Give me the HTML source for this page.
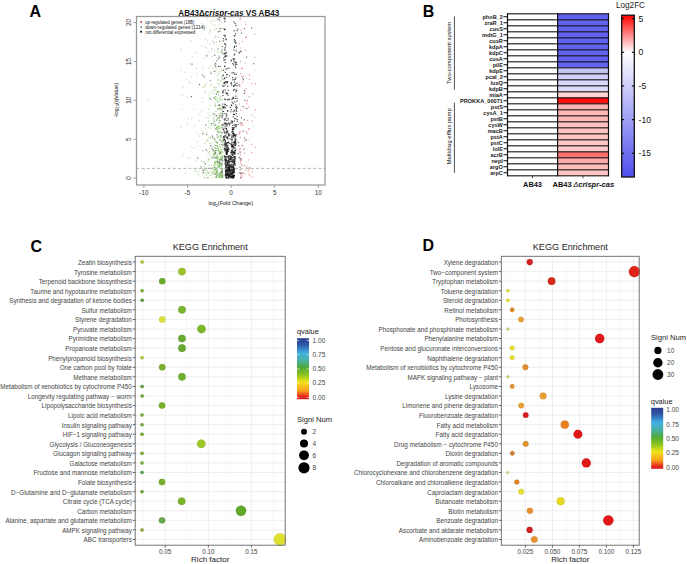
<!DOCTYPE html>
<html><head><meta charset="utf-8"><style>
html,body{margin:0;padding:0;background:#fff;overflow:hidden;width:687px;height:564px;}
svg{display:block;font-family:"Liberation Sans", sans-serif;}
</style></head><body>
<svg width="687" height="564" viewBox="0 0 687 564">
<rect width="687" height="564" fill="#fff"/>
<text x="29.60" y="16.60" font-size="16" text-anchor="start" fill="#000" font-weight="bold">A</text>
<text x="228.80" y="16.20" font-size="8.7" text-anchor="middle" fill="#111" font-weight="bold" textLength="101" lengthAdjust="spacingAndGlyphs">AB43&#916;<tspan font-style="italic">crispr-cas</tspan> VS AB43</text>
<g><rect x="225.1" y="170.4" width="1.2" height="1.2" fill="#181818" fill-opacity="0.75"/><rect x="233.4" y="160.7" width="1.2" height="1.2" fill="#181818" fill-opacity="0.75"/><rect x="226.6" y="142.6" width="1.2" height="1.2" fill="#181818" fill-opacity="0.75"/><rect x="229.8" y="176.1" width="1.2" height="1.2" fill="#181818" fill-opacity="0.75"/><rect x="229.7" y="173.9" width="1.2" height="1.2" fill="#181818" fill-opacity="0.75"/><rect x="230.7" y="59.5" width="1.2" height="1.2" fill="#181818" fill-opacity="0.75"/><rect x="233.8" y="175.3" width="1.2" height="1.2" fill="#181818" fill-opacity="0.75"/><rect x="226.9" y="171.6" width="1.2" height="1.2" fill="#181818" fill-opacity="0.75"/><rect x="230.9" y="168.4" width="1.2" height="1.2" fill="#181818" fill-opacity="0.75"/><rect x="230.2" y="155.6" width="1.2" height="1.2" fill="#181818" fill-opacity="0.75"/><rect x="229.5" y="166.7" width="1.2" height="1.2" fill="#181818" fill-opacity="0.75"/><rect x="230.8" y="152.1" width="1.2" height="1.2" fill="#181818" fill-opacity="0.75"/><rect x="231.1" y="145.9" width="1.2" height="1.2" fill="#181818" fill-opacity="0.75"/><rect x="225.5" y="173.5" width="1.2" height="1.2" fill="#181818" fill-opacity="0.75"/><rect x="225.4" y="131.7" width="1.2" height="1.2" fill="#181818" fill-opacity="0.75"/><rect x="224.3" y="135.3" width="1.2" height="1.2" fill="#181818" fill-opacity="0.75"/><rect x="226.4" y="92.6" width="1.2" height="1.2" fill="#181818" fill-opacity="0.75"/><rect x="233.0" y="85.8" width="1.2" height="1.2" fill="#181818" fill-opacity="0.75"/><rect x="225.4" y="123.4" width="1.2" height="1.2" fill="#181818" fill-opacity="0.75"/><rect x="223.1" y="135.9" width="1.2" height="1.2" fill="#181818" fill-opacity="0.75"/><rect x="234.1" y="161.0" width="1.2" height="1.2" fill="#181818" fill-opacity="0.75"/><rect x="226.5" y="160.2" width="1.2" height="1.2" fill="#181818" fill-opacity="0.75"/><rect x="230.6" y="157.5" width="1.2" height="1.2" fill="#181818" fill-opacity="0.75"/><rect x="226.1" y="149.1" width="1.2" height="1.2" fill="#181818" fill-opacity="0.75"/><rect x="230.8" y="104.3" width="1.2" height="1.2" fill="#181818" fill-opacity="0.75"/><rect x="227.6" y="150.8" width="1.2" height="1.2" fill="#181818" fill-opacity="0.75"/><rect x="226.9" y="136.4" width="1.2" height="1.2" fill="#181818" fill-opacity="0.75"/><rect x="233.7" y="54.4" width="1.2" height="1.2" fill="#181818" fill-opacity="0.75"/><rect x="231.0" y="176.3" width="1.2" height="1.2" fill="#181818" fill-opacity="0.75"/><rect x="227.0" y="162.1" width="1.2" height="1.2" fill="#181818" fill-opacity="0.75"/><rect x="224.3" y="143.7" width="1.2" height="1.2" fill="#181818" fill-opacity="0.75"/><rect x="226.9" y="167.2" width="1.2" height="1.2" fill="#181818" fill-opacity="0.75"/><rect x="230.9" y="82.1" width="1.2" height="1.2" fill="#181818" fill-opacity="0.75"/><rect x="228.5" y="162.4" width="1.2" height="1.2" fill="#181818" fill-opacity="0.75"/><rect x="227.5" y="166.4" width="1.2" height="1.2" fill="#181818" fill-opacity="0.75"/><rect x="224.1" y="139.0" width="1.2" height="1.2" fill="#181818" fill-opacity="0.75"/><rect x="230.3" y="170.3" width="1.2" height="1.2" fill="#181818" fill-opacity="0.75"/><rect x="225.1" y="158.8" width="1.2" height="1.2" fill="#181818" fill-opacity="0.75"/><rect x="229.5" y="172.9" width="1.2" height="1.2" fill="#181818" fill-opacity="0.75"/><rect x="231.0" y="175.6" width="1.2" height="1.2" fill="#181818" fill-opacity="0.75"/><rect x="230.6" y="167.1" width="1.2" height="1.2" fill="#181818" fill-opacity="0.75"/><rect x="225.9" y="165.7" width="1.2" height="1.2" fill="#181818" fill-opacity="0.75"/><rect x="227.5" y="142.0" width="1.2" height="1.2" fill="#181818" fill-opacity="0.75"/><rect x="234.5" y="151.6" width="1.2" height="1.2" fill="#181818" fill-opacity="0.75"/><rect x="235.1" y="83.4" width="1.2" height="1.2" fill="#181818" fill-opacity="0.75"/><rect x="230.6" y="160.4" width="1.2" height="1.2" fill="#181818" fill-opacity="0.75"/><rect x="228.4" y="177.4" width="1.2" height="1.2" fill="#181818" fill-opacity="0.75"/><rect x="225.7" y="167.7" width="1.2" height="1.2" fill="#181818" fill-opacity="0.75"/><rect x="230.0" y="169.2" width="1.2" height="1.2" fill="#181818" fill-opacity="0.75"/><rect x="225.0" y="175.6" width="1.2" height="1.2" fill="#181818" fill-opacity="0.75"/><rect x="232.6" y="177.1" width="1.2" height="1.2" fill="#181818" fill-opacity="0.75"/><rect x="232.2" y="169.9" width="1.2" height="1.2" fill="#181818" fill-opacity="0.75"/><rect x="236.4" y="85.0" width="1.2" height="1.2" fill="#181818" fill-opacity="0.75"/><rect x="224.5" y="160.1" width="1.2" height="1.2" fill="#181818" fill-opacity="0.75"/><rect x="227.0" y="149.1" width="1.2" height="1.2" fill="#181818" fill-opacity="0.75"/><rect x="228.5" y="170.3" width="1.2" height="1.2" fill="#181818" fill-opacity="0.75"/><rect x="232.0" y="172.1" width="1.2" height="1.2" fill="#181818" fill-opacity="0.75"/><rect x="231.4" y="175.7" width="1.2" height="1.2" fill="#181818" fill-opacity="0.75"/><rect x="231.1" y="150.5" width="1.2" height="1.2" fill="#181818" fill-opacity="0.75"/><rect x="228.4" y="158.5" width="1.2" height="1.2" fill="#181818" fill-opacity="0.75"/><rect x="225.4" y="162.0" width="1.2" height="1.2" fill="#181818" fill-opacity="0.75"/><rect x="231.1" y="139.1" width="1.2" height="1.2" fill="#181818" fill-opacity="0.75"/><rect x="228.9" y="174.7" width="1.2" height="1.2" fill="#181818" fill-opacity="0.75"/><rect x="227.5" y="168.2" width="1.2" height="1.2" fill="#181818" fill-opacity="0.75"/><rect x="226.5" y="145.7" width="1.2" height="1.2" fill="#181818" fill-opacity="0.75"/><rect x="227.7" y="117.8" width="1.2" height="1.2" fill="#181818" fill-opacity="0.75"/><rect x="233.4" y="174.6" width="1.2" height="1.2" fill="#181818" fill-opacity="0.75"/><rect x="225.9" y="76.6" width="1.2" height="1.2" fill="#181818" fill-opacity="0.75"/><rect x="229.6" y="157.9" width="1.2" height="1.2" fill="#181818" fill-opacity="0.75"/><rect x="233.0" y="177.1" width="1.2" height="1.2" fill="#181818" fill-opacity="0.75"/><rect x="232.7" y="175.2" width="1.2" height="1.2" fill="#181818" fill-opacity="0.75"/><rect x="231.0" y="173.3" width="1.2" height="1.2" fill="#181818" fill-opacity="0.75"/><rect x="234.7" y="135.0" width="1.2" height="1.2" fill="#181818" fill-opacity="0.75"/><rect x="232.5" y="147.4" width="1.2" height="1.2" fill="#181818" fill-opacity="0.75"/><rect x="224.4" y="43.3" width="1.2" height="1.2" fill="#181818" fill-opacity="0.75"/><rect x="231.6" y="170.4" width="1.2" height="1.2" fill="#181818" fill-opacity="0.75"/><rect x="230.7" y="167.8" width="1.2" height="1.2" fill="#181818" fill-opacity="0.75"/><rect x="235.3" y="142.7" width="1.2" height="1.2" fill="#181818" fill-opacity="0.75"/><rect x="227.4" y="155.9" width="1.2" height="1.2" fill="#181818" fill-opacity="0.75"/><rect x="234.2" y="141.2" width="1.2" height="1.2" fill="#181818" fill-opacity="0.75"/><rect x="226.6" y="168.9" width="1.2" height="1.2" fill="#181818" fill-opacity="0.75"/><rect x="234.5" y="153.3" width="1.2" height="1.2" fill="#181818" fill-opacity="0.75"/><rect x="234.0" y="172.0" width="1.2" height="1.2" fill="#181818" fill-opacity="0.75"/><rect x="222.9" y="69.6" width="1.2" height="1.2" fill="#181818" fill-opacity="0.75"/><rect x="233.6" y="174.8" width="1.2" height="1.2" fill="#181818" fill-opacity="0.75"/><rect x="231.0" y="172.0" width="1.2" height="1.2" fill="#181818" fill-opacity="0.75"/><rect x="224.7" y="141.7" width="1.2" height="1.2" fill="#181818" fill-opacity="0.75"/><rect x="224.9" y="174.6" width="1.2" height="1.2" fill="#181818" fill-opacity="0.75"/><rect x="225.7" y="123.2" width="1.2" height="1.2" fill="#181818" fill-opacity="0.75"/><rect x="235.0" y="141.8" width="1.2" height="1.2" fill="#181818" fill-opacity="0.75"/><rect x="234.0" y="101.4" width="1.2" height="1.2" fill="#181818" fill-opacity="0.75"/><rect x="228.4" y="135.3" width="1.2" height="1.2" fill="#181818" fill-opacity="0.75"/><rect x="234.1" y="150.1" width="1.2" height="1.2" fill="#181818" fill-opacity="0.75"/><rect x="227.4" y="167.4" width="1.2" height="1.2" fill="#181818" fill-opacity="0.75"/><rect x="235.1" y="106.8" width="1.2" height="1.2" fill="#181818" fill-opacity="0.75"/><rect x="227.0" y="163.3" width="1.2" height="1.2" fill="#181818" fill-opacity="0.75"/><rect x="227.3" y="147.6" width="1.2" height="1.2" fill="#181818" fill-opacity="0.75"/><rect x="224.9" y="167.2" width="1.2" height="1.2" fill="#181818" fill-opacity="0.75"/><rect x="224.2" y="119.5" width="1.2" height="1.2" fill="#181818" fill-opacity="0.75"/><rect x="232.3" y="151.1" width="1.2" height="1.2" fill="#181818" fill-opacity="0.75"/><rect x="223.8" y="122.4" width="1.2" height="1.2" fill="#181818" fill-opacity="0.75"/><rect x="225.2" y="81.0" width="1.2" height="1.2" fill="#181818" fill-opacity="0.75"/><rect x="232.1" y="175.1" width="1.2" height="1.2" fill="#181818" fill-opacity="0.75"/><rect x="233.0" y="129.0" width="1.2" height="1.2" fill="#181818" fill-opacity="0.75"/><rect x="232.1" y="154.4" width="1.2" height="1.2" fill="#181818" fill-opacity="0.75"/><rect x="232.1" y="121.6" width="1.2" height="1.2" fill="#181818" fill-opacity="0.75"/><rect x="225.4" y="144.0" width="1.2" height="1.2" fill="#181818" fill-opacity="0.75"/><rect x="233.0" y="165.0" width="1.2" height="1.2" fill="#181818" fill-opacity="0.75"/><rect x="228.5" y="174.2" width="1.2" height="1.2" fill="#181818" fill-opacity="0.75"/><rect x="223.1" y="85.8" width="1.2" height="1.2" fill="#181818" fill-opacity="0.75"/><rect x="227.9" y="158.3" width="1.2" height="1.2" fill="#181818" fill-opacity="0.75"/><rect x="225.3" y="165.5" width="1.2" height="1.2" fill="#181818" fill-opacity="0.75"/><rect x="227.1" y="110.3" width="1.2" height="1.2" fill="#181818" fill-opacity="0.75"/><rect x="231.6" y="169.3" width="1.2" height="1.2" fill="#181818" fill-opacity="0.75"/><rect x="226.9" y="110.4" width="1.2" height="1.2" fill="#181818" fill-opacity="0.75"/><rect x="231.5" y="149.9" width="1.2" height="1.2" fill="#181818" fill-opacity="0.75"/><rect x="226.0" y="174.5" width="1.2" height="1.2" fill="#181818" fill-opacity="0.75"/><rect x="228.3" y="174.0" width="1.2" height="1.2" fill="#181818" fill-opacity="0.75"/><rect x="225.3" y="92.2" width="1.2" height="1.2" fill="#181818" fill-opacity="0.75"/><rect x="231.8" y="144.9" width="1.2" height="1.2" fill="#181818" fill-opacity="0.75"/><rect x="233.0" y="171.4" width="1.2" height="1.2" fill="#181818" fill-opacity="0.75"/><rect x="232.8" y="156.1" width="1.2" height="1.2" fill="#181818" fill-opacity="0.75"/><rect x="225.1" y="173.9" width="1.2" height="1.2" fill="#181818" fill-opacity="0.75"/><rect x="229.3" y="170.7" width="1.2" height="1.2" fill="#181818" fill-opacity="0.75"/><rect x="227.9" y="173.2" width="1.2" height="1.2" fill="#181818" fill-opacity="0.75"/><rect x="232.8" y="97.8" width="1.2" height="1.2" fill="#181818" fill-opacity="0.75"/><rect x="228.4" y="148.4" width="1.2" height="1.2" fill="#181818" fill-opacity="0.75"/><rect x="225.0" y="174.3" width="1.2" height="1.2" fill="#181818" fill-opacity="0.75"/><rect x="228.6" y="173.3" width="1.2" height="1.2" fill="#181818" fill-opacity="0.75"/><rect x="229.2" y="170.5" width="1.2" height="1.2" fill="#181818" fill-opacity="0.75"/><rect x="232.9" y="64.2" width="1.2" height="1.2" fill="#181818" fill-opacity="0.75"/><rect x="226.0" y="81.9" width="1.2" height="1.2" fill="#181818" fill-opacity="0.75"/><rect x="234.9" y="139.7" width="1.2" height="1.2" fill="#181818" fill-opacity="0.75"/><rect x="232.5" y="173.2" width="1.2" height="1.2" fill="#181818" fill-opacity="0.75"/><rect x="227.9" y="166.4" width="1.2" height="1.2" fill="#181818" fill-opacity="0.75"/><rect x="229.9" y="151.6" width="1.2" height="1.2" fill="#181818" fill-opacity="0.75"/><rect x="226.6" y="167.8" width="1.2" height="1.2" fill="#181818" fill-opacity="0.75"/><rect x="233.4" y="167.9" width="1.2" height="1.2" fill="#181818" fill-opacity="0.75"/><rect x="232.8" y="175.1" width="1.2" height="1.2" fill="#181818" fill-opacity="0.75"/><rect x="232.0" y="77.0" width="1.2" height="1.2" fill="#181818" fill-opacity="0.75"/><rect x="232.1" y="124.8" width="1.2" height="1.2" fill="#181818" fill-opacity="0.75"/><rect x="228.8" y="75.2" width="1.2" height="1.2" fill="#181818" fill-opacity="0.75"/><rect x="231.7" y="161.2" width="1.2" height="1.2" fill="#181818" fill-opacity="0.75"/><rect x="225.0" y="161.3" width="1.2" height="1.2" fill="#181818" fill-opacity="0.75"/><rect x="226.3" y="81.1" width="1.2" height="1.2" fill="#181818" fill-opacity="0.75"/><rect x="224.8" y="158.2" width="1.2" height="1.2" fill="#181818" fill-opacity="0.75"/><rect x="225.7" y="168.3" width="1.2" height="1.2" fill="#181818" fill-opacity="0.75"/><rect x="227.1" y="138.3" width="1.2" height="1.2" fill="#181818" fill-opacity="0.75"/><rect x="229.6" y="173.6" width="1.2" height="1.2" fill="#181818" fill-opacity="0.75"/><rect x="227.6" y="159.9" width="1.2" height="1.2" fill="#181818" fill-opacity="0.75"/><rect x="224.8" y="107.1" width="1.2" height="1.2" fill="#181818" fill-opacity="0.75"/><rect x="232.5" y="152.4" width="1.2" height="1.2" fill="#181818" fill-opacity="0.75"/><rect x="228.2" y="173.6" width="1.2" height="1.2" fill="#181818" fill-opacity="0.75"/><rect x="234.9" y="124.1" width="1.2" height="1.2" fill="#181818" fill-opacity="0.75"/><rect x="226.8" y="164.0" width="1.2" height="1.2" fill="#181818" fill-opacity="0.75"/><rect x="232.0" y="130.6" width="1.2" height="1.2" fill="#181818" fill-opacity="0.75"/><rect x="228.0" y="169.2" width="1.2" height="1.2" fill="#181818" fill-opacity="0.75"/><rect x="233.4" y="152.3" width="1.2" height="1.2" fill="#181818" fill-opacity="0.75"/><rect x="231.3" y="138.4" width="1.2" height="1.2" fill="#181818" fill-opacity="0.75"/><rect x="231.5" y="146.3" width="1.2" height="1.2" fill="#181818" fill-opacity="0.75"/><rect x="225.5" y="170.4" width="1.2" height="1.2" fill="#181818" fill-opacity="0.75"/><rect x="231.7" y="172.0" width="1.2" height="1.2" fill="#181818" fill-opacity="0.75"/><rect x="227.8" y="160.8" width="1.2" height="1.2" fill="#181818" fill-opacity="0.75"/><rect x="236.5" y="30.2" width="1.2" height="1.2" fill="#181818" fill-opacity="0.75"/><rect x="224.9" y="173.6" width="1.2" height="1.2" fill="#181818" fill-opacity="0.75"/><rect x="232.2" y="157.6" width="1.2" height="1.2" fill="#181818" fill-opacity="0.75"/><rect x="235.3" y="91.1" width="1.2" height="1.2" fill="#181818" fill-opacity="0.75"/><rect x="228.8" y="175.1" width="1.2" height="1.2" fill="#181818" fill-opacity="0.75"/><rect x="233.2" y="152.5" width="1.2" height="1.2" fill="#181818" fill-opacity="0.75"/><rect x="224.7" y="167.9" width="1.2" height="1.2" fill="#181818" fill-opacity="0.75"/><rect x="224.8" y="163.3" width="1.2" height="1.2" fill="#181818" fill-opacity="0.75"/><rect x="233.1" y="152.0" width="1.2" height="1.2" fill="#181818" fill-opacity="0.75"/><rect x="226.7" y="167.5" width="1.2" height="1.2" fill="#181818" fill-opacity="0.75"/><rect x="228.8" y="98.7" width="1.2" height="1.2" fill="#181818" fill-opacity="0.75"/><rect x="227.2" y="156.7" width="1.2" height="1.2" fill="#181818" fill-opacity="0.75"/><rect x="228.1" y="132.9" width="1.2" height="1.2" fill="#181818" fill-opacity="0.75"/><rect x="230.4" y="170.9" width="1.2" height="1.2" fill="#181818" fill-opacity="0.75"/><rect x="224.4" y="49.6" width="1.2" height="1.2" fill="#181818" fill-opacity="0.75"/><rect x="226.5" y="149.3" width="1.2" height="1.2" fill="#181818" fill-opacity="0.75"/><rect x="229.1" y="175.5" width="1.2" height="1.2" fill="#181818" fill-opacity="0.75"/><rect x="234.7" y="97.8" width="1.2" height="1.2" fill="#181818" fill-opacity="0.75"/><rect x="236.6" y="115.8" width="1.2" height="1.2" fill="#181818" fill-opacity="0.75"/><rect x="224.5" y="123.6" width="1.2" height="1.2" fill="#181818" fill-opacity="0.75"/><rect x="224.4" y="157.0" width="1.2" height="1.2" fill="#181818" fill-opacity="0.75"/><rect x="235.7" y="113.0" width="1.2" height="1.2" fill="#181818" fill-opacity="0.75"/><rect x="226.5" y="145.8" width="1.2" height="1.2" fill="#181818" fill-opacity="0.75"/><rect x="224.9" y="140.3" width="1.2" height="1.2" fill="#181818" fill-opacity="0.75"/><rect x="228.3" y="174.8" width="1.2" height="1.2" fill="#181818" fill-opacity="0.75"/><rect x="227.7" y="160.7" width="1.2" height="1.2" fill="#181818" fill-opacity="0.75"/><rect x="227.8" y="160.1" width="1.2" height="1.2" fill="#181818" fill-opacity="0.75"/><rect x="233.7" y="144.5" width="1.2" height="1.2" fill="#181818" fill-opacity="0.75"/><rect x="226.1" y="114.9" width="1.2" height="1.2" fill="#181818" fill-opacity="0.75"/><rect x="225.0" y="149.3" width="1.2" height="1.2" fill="#181818" fill-opacity="0.75"/><rect x="226.0" y="150.3" width="1.2" height="1.2" fill="#181818" fill-opacity="0.75"/><rect x="234.0" y="163.3" width="1.2" height="1.2" fill="#181818" fill-opacity="0.75"/><rect x="228.7" y="167.4" width="1.2" height="1.2" fill="#181818" fill-opacity="0.75"/><rect x="227.9" y="160.3" width="1.2" height="1.2" fill="#181818" fill-opacity="0.75"/><rect x="231.8" y="176.0" width="1.2" height="1.2" fill="#181818" fill-opacity="0.75"/><rect x="233.9" y="162.3" width="1.2" height="1.2" fill="#181818" fill-opacity="0.75"/><rect x="229.5" y="138.5" width="1.2" height="1.2" fill="#181818" fill-opacity="0.75"/><rect x="226.7" y="153.3" width="1.2" height="1.2" fill="#181818" fill-opacity="0.75"/><rect x="233.4" y="49.4" width="1.2" height="1.2" fill="#181818" fill-opacity="0.75"/><rect x="227.2" y="168.6" width="1.2" height="1.2" fill="#181818" fill-opacity="0.75"/><rect x="224.7" y="122.8" width="1.2" height="1.2" fill="#181818" fill-opacity="0.75"/><rect x="226.7" y="153.5" width="1.2" height="1.2" fill="#181818" fill-opacity="0.75"/><rect x="233.4" y="148.1" width="1.2" height="1.2" fill="#181818" fill-opacity="0.75"/><rect x="232.5" y="161.9" width="1.2" height="1.2" fill="#181818" fill-opacity="0.75"/><rect x="225.7" y="170.1" width="1.2" height="1.2" fill="#181818" fill-opacity="0.75"/><rect x="227.5" y="147.1" width="1.2" height="1.2" fill="#181818" fill-opacity="0.75"/><rect x="232.4" y="132.7" width="1.2" height="1.2" fill="#181818" fill-opacity="0.75"/><rect x="233.3" y="156.6" width="1.2" height="1.2" fill="#181818" fill-opacity="0.75"/><rect x="229.9" y="176.0" width="1.2" height="1.2" fill="#181818" fill-opacity="0.75"/><rect x="231.4" y="173.7" width="1.2" height="1.2" fill="#181818" fill-opacity="0.75"/><rect x="226.1" y="144.3" width="1.2" height="1.2" fill="#181818" fill-opacity="0.75"/><rect x="233.5" y="124.5" width="1.2" height="1.2" fill="#181818" fill-opacity="0.75"/><rect x="232.2" y="175.5" width="1.2" height="1.2" fill="#181818" fill-opacity="0.75"/><rect x="228.1" y="134.4" width="1.2" height="1.2" fill="#181818" fill-opacity="0.75"/><rect x="225.6" y="128.4" width="1.2" height="1.2" fill="#181818" fill-opacity="0.75"/><rect x="224.9" y="170.3" width="1.2" height="1.2" fill="#181818" fill-opacity="0.75"/><rect x="231.2" y="131.5" width="1.2" height="1.2" fill="#181818" fill-opacity="0.75"/><rect x="230.9" y="153.4" width="1.2" height="1.2" fill="#181818" fill-opacity="0.75"/><rect x="222.8" y="138.7" width="1.2" height="1.2" fill="#181818" fill-opacity="0.75"/><rect x="229.7" y="106.7" width="1.2" height="1.2" fill="#181818" fill-opacity="0.75"/><rect x="225.0" y="172.2" width="1.2" height="1.2" fill="#181818" fill-opacity="0.75"/><rect x="226.0" y="173.6" width="1.2" height="1.2" fill="#181818" fill-opacity="0.75"/><rect x="222.6" y="107.2" width="1.2" height="1.2" fill="#181818" fill-opacity="0.75"/><rect x="228.8" y="169.0" width="1.2" height="1.2" fill="#181818" fill-opacity="0.75"/><rect x="228.1" y="156.0" width="1.2" height="1.2" fill="#181818" fill-opacity="0.75"/><rect x="223.0" y="89.9" width="1.2" height="1.2" fill="#181818" fill-opacity="0.75"/><rect x="225.6" y="143.3" width="1.2" height="1.2" fill="#181818" fill-opacity="0.75"/><rect x="224.2" y="21.0" width="1.2" height="1.2" fill="#181818" fill-opacity="0.75"/><rect x="228.4" y="175.6" width="1.2" height="1.2" fill="#181818" fill-opacity="0.75"/><rect x="224.8" y="174.6" width="1.2" height="1.2" fill="#181818" fill-opacity="0.75"/><rect x="227.2" y="164.3" width="1.2" height="1.2" fill="#181818" fill-opacity="0.75"/><rect x="230.6" y="144.1" width="1.2" height="1.2" fill="#181818" fill-opacity="0.75"/><rect x="230.4" y="174.9" width="1.2" height="1.2" fill="#181818" fill-opacity="0.75"/><rect x="230.3" y="176.5" width="1.2" height="1.2" fill="#181818" fill-opacity="0.75"/><rect x="230.9" y="166.3" width="1.2" height="1.2" fill="#181818" fill-opacity="0.75"/><rect x="230.5" y="163.6" width="1.2" height="1.2" fill="#181818" fill-opacity="0.75"/><rect x="222.1" y="115.1" width="1.2" height="1.2" fill="#181818" fill-opacity="0.75"/><rect x="230.9" y="166.0" width="1.2" height="1.2" fill="#181818" fill-opacity="0.75"/><rect x="230.1" y="177.2" width="1.2" height="1.2" fill="#181818" fill-opacity="0.75"/><rect x="226.8" y="173.1" width="1.2" height="1.2" fill="#181818" fill-opacity="0.75"/><rect x="228.6" y="167.0" width="1.2" height="1.2" fill="#181818" fill-opacity="0.75"/><rect x="226.2" y="146.7" width="1.2" height="1.2" fill="#181818" fill-opacity="0.75"/><rect x="234.0" y="142.8" width="1.2" height="1.2" fill="#181818" fill-opacity="0.75"/><rect x="226.2" y="125.7" width="1.2" height="1.2" fill="#181818" fill-opacity="0.75"/><rect x="225.5" y="153.0" width="1.2" height="1.2" fill="#181818" fill-opacity="0.75"/><rect x="233.0" y="72.0" width="1.2" height="1.2" fill="#181818" fill-opacity="0.75"/><rect x="232.8" y="168.1" width="1.2" height="1.2" fill="#181818" fill-opacity="0.75"/><rect x="231.0" y="172.6" width="1.2" height="1.2" fill="#181818" fill-opacity="0.75"/><rect x="228.4" y="155.3" width="1.2" height="1.2" fill="#181818" fill-opacity="0.75"/><rect x="229.1" y="165.7" width="1.2" height="1.2" fill="#181818" fill-opacity="0.75"/><rect x="235.8" y="125.7" width="1.2" height="1.2" fill="#181818" fill-opacity="0.75"/><rect x="227.2" y="174.6" width="1.2" height="1.2" fill="#181818" fill-opacity="0.75"/><rect x="232.5" y="151.9" width="1.2" height="1.2" fill="#181818" fill-opacity="0.75"/><rect x="222.2" y="92.2" width="1.2" height="1.2" fill="#181818" fill-opacity="0.75"/><rect x="226.0" y="157.6" width="1.2" height="1.2" fill="#181818" fill-opacity="0.75"/><rect x="234.0" y="162.6" width="1.2" height="1.2" fill="#181818" fill-opacity="0.75"/><rect x="227.0" y="170.2" width="1.2" height="1.2" fill="#181818" fill-opacity="0.75"/><rect x="235.3" y="77.3" width="1.2" height="1.2" fill="#181818" fill-opacity="0.75"/><rect x="231.2" y="151.5" width="1.2" height="1.2" fill="#181818" fill-opacity="0.75"/><rect x="236.6" y="97.8" width="1.2" height="1.2" fill="#181818" fill-opacity="0.75"/><rect x="236.2" y="107.6" width="1.2" height="1.2" fill="#181818" fill-opacity="0.75"/><rect x="224.4" y="113.0" width="1.2" height="1.2" fill="#181818" fill-opacity="0.75"/><rect x="226.1" y="173.9" width="1.2" height="1.2" fill="#181818" fill-opacity="0.75"/><rect x="227.4" y="171.9" width="1.2" height="1.2" fill="#181818" fill-opacity="0.75"/><rect x="224.6" y="135.3" width="1.2" height="1.2" fill="#181818" fill-opacity="0.75"/><rect x="232.0" y="166.7" width="1.2" height="1.2" fill="#181818" fill-opacity="0.75"/><rect x="232.6" y="168.8" width="1.2" height="1.2" fill="#181818" fill-opacity="0.75"/><rect x="224.7" y="140.2" width="1.2" height="1.2" fill="#181818" fill-opacity="0.75"/><rect x="224.6" y="156.4" width="1.2" height="1.2" fill="#181818" fill-opacity="0.75"/><rect x="227.6" y="165.6" width="1.2" height="1.2" fill="#181818" fill-opacity="0.75"/><rect x="231.3" y="165.0" width="1.2" height="1.2" fill="#181818" fill-opacity="0.75"/><rect x="232.1" y="166.6" width="1.2" height="1.2" fill="#181818" fill-opacity="0.75"/><rect x="229.0" y="175.0" width="1.2" height="1.2" fill="#181818" fill-opacity="0.75"/><rect x="235.2" y="67.2" width="1.2" height="1.2" fill="#181818" fill-opacity="0.75"/><rect x="234.3" y="139.1" width="1.2" height="1.2" fill="#181818" fill-opacity="0.75"/><rect x="225.7" y="170.5" width="1.2" height="1.2" fill="#181818" fill-opacity="0.75"/><rect x="231.4" y="168.6" width="1.2" height="1.2" fill="#181818" fill-opacity="0.75"/><rect x="232.8" y="145.7" width="1.2" height="1.2" fill="#181818" fill-opacity="0.75"/><rect x="233.9" y="156.1" width="1.2" height="1.2" fill="#181818" fill-opacity="0.75"/><rect x="228.6" y="175.3" width="1.2" height="1.2" fill="#181818" fill-opacity="0.75"/><rect x="226.3" y="177.1" width="1.2" height="1.2" fill="#181818" fill-opacity="0.75"/><rect x="229.1" y="159.4" width="1.2" height="1.2" fill="#181818" fill-opacity="0.75"/><rect x="227.4" y="119.5" width="1.2" height="1.2" fill="#181818" fill-opacity="0.75"/><rect x="228.1" y="149.3" width="1.2" height="1.2" fill="#181818" fill-opacity="0.75"/><rect x="233.1" y="146.7" width="1.2" height="1.2" fill="#181818" fill-opacity="0.75"/><rect x="231.3" y="144.2" width="1.2" height="1.2" fill="#181818" fill-opacity="0.75"/><rect x="231.5" y="152.0" width="1.2" height="1.2" fill="#181818" fill-opacity="0.75"/><rect x="231.0" y="157.1" width="1.2" height="1.2" fill="#181818" fill-opacity="0.75"/><rect x="225.1" y="148.5" width="1.2" height="1.2" fill="#181818" fill-opacity="0.75"/><rect x="225.2" y="170.3" width="1.2" height="1.2" fill="#181818" fill-opacity="0.75"/><rect x="228.3" y="167.9" width="1.2" height="1.2" fill="#181818" fill-opacity="0.75"/><rect x="232.6" y="172.2" width="1.2" height="1.2" fill="#181818" fill-opacity="0.75"/><rect x="230.7" y="175.6" width="1.2" height="1.2" fill="#181818" fill-opacity="0.75"/><rect x="233.9" y="109.6" width="1.2" height="1.2" fill="#181818" fill-opacity="0.75"/><rect x="230.7" y="161.1" width="1.2" height="1.2" fill="#181818" fill-opacity="0.75"/><rect x="231.9" y="177.3" width="1.2" height="1.2" fill="#181818" fill-opacity="0.75"/><rect x="234.4" y="164.8" width="1.2" height="1.2" fill="#181818" fill-opacity="0.75"/><rect x="232.3" y="134.3" width="1.2" height="1.2" fill="#181818" fill-opacity="0.75"/><rect x="232.9" y="168.3" width="1.2" height="1.2" fill="#181818" fill-opacity="0.75"/><rect x="234.0" y="168.3" width="1.2" height="1.2" fill="#181818" fill-opacity="0.75"/><rect x="232.7" y="132.9" width="1.2" height="1.2" fill="#181818" fill-opacity="0.75"/><rect x="232.2" y="173.9" width="1.2" height="1.2" fill="#181818" fill-opacity="0.75"/><rect x="225.7" y="177.4" width="1.2" height="1.2" fill="#181818" fill-opacity="0.75"/><rect x="222.4" y="94.9" width="1.2" height="1.2" fill="#181818" fill-opacity="0.75"/><rect x="233.4" y="170.9" width="1.2" height="1.2" fill="#181818" fill-opacity="0.75"/><rect x="226.3" y="151.9" width="1.2" height="1.2" fill="#181818" fill-opacity="0.75"/><rect x="227.1" y="150.2" width="1.2" height="1.2" fill="#181818" fill-opacity="0.75"/><rect x="225.9" y="170.8" width="1.2" height="1.2" fill="#181818" fill-opacity="0.75"/><rect x="230.6" y="176.1" width="1.2" height="1.2" fill="#181818" fill-opacity="0.75"/><rect x="225.1" y="175.1" width="1.2" height="1.2" fill="#181818" fill-opacity="0.75"/><rect x="226.6" y="67.9" width="1.2" height="1.2" fill="#181818" fill-opacity="0.75"/><rect x="231.9" y="161.1" width="1.2" height="1.2" fill="#181818" fill-opacity="0.75"/><rect x="233.0" y="177.2" width="1.2" height="1.2" fill="#181818" fill-opacity="0.75"/><rect x="231.4" y="158.7" width="1.2" height="1.2" fill="#181818" fill-opacity="0.75"/><rect x="233.9" y="141.3" width="1.2" height="1.2" fill="#181818" fill-opacity="0.75"/><rect x="231.8" y="154.5" width="1.2" height="1.2" fill="#181818" fill-opacity="0.75"/><rect x="226.1" y="136.7" width="1.2" height="1.2" fill="#181818" fill-opacity="0.75"/><rect x="236.0" y="90.1" width="1.2" height="1.2" fill="#181818" fill-opacity="0.75"/><rect x="223.6" y="136.9" width="1.2" height="1.2" fill="#181818" fill-opacity="0.75"/><rect x="229.9" y="169.0" width="1.2" height="1.2" fill="#181818" fill-opacity="0.75"/><rect x="230.3" y="163.9" width="1.2" height="1.2" fill="#181818" fill-opacity="0.75"/><rect x="227.6" y="177.4" width="1.2" height="1.2" fill="#181818" fill-opacity="0.75"/><rect x="233.8" y="152.0" width="1.2" height="1.2" fill="#181818" fill-opacity="0.75"/><rect x="226.2" y="147.1" width="1.2" height="1.2" fill="#181818" fill-opacity="0.75"/><rect x="224.8" y="142.0" width="1.2" height="1.2" fill="#181818" fill-opacity="0.75"/><rect x="227.7" y="176.2" width="1.2" height="1.2" fill="#181818" fill-opacity="0.75"/><rect x="227.1" y="130.7" width="1.2" height="1.2" fill="#181818" fill-opacity="0.75"/><rect x="234.4" y="137.4" width="1.2" height="1.2" fill="#181818" fill-opacity="0.75"/><rect x="224.0" y="78.0" width="1.2" height="1.2" fill="#181818" fill-opacity="0.75"/><rect x="228.3" y="163.5" width="1.2" height="1.2" fill="#181818" fill-opacity="0.75"/><rect x="224.6" y="148.1" width="1.2" height="1.2" fill="#181818" fill-opacity="0.75"/><rect x="232.5" y="103.0" width="1.2" height="1.2" fill="#181818" fill-opacity="0.75"/><rect x="232.9" y="166.7" width="1.2" height="1.2" fill="#181818" fill-opacity="0.75"/><rect x="225.5" y="170.9" width="1.2" height="1.2" fill="#181818" fill-opacity="0.75"/><rect x="224.6" y="55.6" width="1.2" height="1.2" fill="#181818" fill-opacity="0.75"/><rect x="232.8" y="131.6" width="1.2" height="1.2" fill="#181818" fill-opacity="0.75"/><rect x="235.3" y="143.7" width="1.2" height="1.2" fill="#181818" fill-opacity="0.75"/><rect x="226.7" y="148.8" width="1.2" height="1.2" fill="#181818" fill-opacity="0.75"/><rect x="224.2" y="150.1" width="1.2" height="1.2" fill="#181818" fill-opacity="0.75"/><rect x="230.5" y="159.0" width="1.2" height="1.2" fill="#181818" fill-opacity="0.75"/><rect x="226.3" y="176.9" width="1.2" height="1.2" fill="#181818" fill-opacity="0.75"/><rect x="231.4" y="156.6" width="1.2" height="1.2" fill="#181818" fill-opacity="0.75"/><rect x="232.7" y="136.5" width="1.2" height="1.2" fill="#181818" fill-opacity="0.75"/><rect x="224.0" y="98.5" width="1.2" height="1.2" fill="#181818" fill-opacity="0.75"/><rect x="230.3" y="170.0" width="1.2" height="1.2" fill="#181818" fill-opacity="0.75"/><rect x="226.6" y="170.4" width="1.2" height="1.2" fill="#181818" fill-opacity="0.75"/><rect x="232.6" y="145.8" width="1.2" height="1.2" fill="#181818" fill-opacity="0.75"/><rect x="227.4" y="174.3" width="1.2" height="1.2" fill="#181818" fill-opacity="0.75"/><rect x="232.1" y="128.8" width="1.2" height="1.2" fill="#181818" fill-opacity="0.75"/><rect x="230.7" y="173.9" width="1.2" height="1.2" fill="#181818" fill-opacity="0.75"/><rect x="230.2" y="157.0" width="1.2" height="1.2" fill="#181818" fill-opacity="0.75"/><rect x="225.1" y="99.0" width="1.2" height="1.2" fill="#181818" fill-opacity="0.75"/><rect x="232.7" y="166.4" width="1.2" height="1.2" fill="#181818" fill-opacity="0.75"/><rect x="228.0" y="170.8" width="1.2" height="1.2" fill="#181818" fill-opacity="0.75"/><rect x="232.7" y="144.0" width="1.2" height="1.2" fill="#181818" fill-opacity="0.75"/><rect x="232.4" y="128.3" width="1.2" height="1.2" fill="#181818" fill-opacity="0.75"/><rect x="227.5" y="148.5" width="1.2" height="1.2" fill="#181818" fill-opacity="0.75"/><rect x="231.7" y="176.4" width="1.2" height="1.2" fill="#181818" fill-opacity="0.75"/><rect x="228.8" y="164.9" width="1.2" height="1.2" fill="#181818" fill-opacity="0.75"/><rect x="231.5" y="177.0" width="1.2" height="1.2" fill="#181818" fill-opacity="0.75"/><rect x="232.1" y="132.8" width="1.2" height="1.2" fill="#181818" fill-opacity="0.75"/><rect x="233.3" y="175.9" width="1.2" height="1.2" fill="#181818" fill-opacity="0.75"/><rect x="226.3" y="73.8" width="1.2" height="1.2" fill="#181818" fill-opacity="0.75"/><rect x="229.5" y="155.5" width="1.2" height="1.2" fill="#181818" fill-opacity="0.75"/><rect x="228.6" y="168.8" width="1.2" height="1.2" fill="#181818" fill-opacity="0.75"/><rect x="232.2" y="128.9" width="1.2" height="1.2" fill="#181818" fill-opacity="0.75"/><rect x="226.4" y="149.5" width="1.2" height="1.2" fill="#181818" fill-opacity="0.75"/><rect x="235.0" y="145.0" width="1.2" height="1.2" fill="#181818" fill-opacity="0.75"/><rect x="231.6" y="176.6" width="1.2" height="1.2" fill="#181818" fill-opacity="0.75"/><rect x="231.1" y="150.4" width="1.2" height="1.2" fill="#181818" fill-opacity="0.75"/><rect x="227.5" y="177.3" width="1.2" height="1.2" fill="#181818" fill-opacity="0.75"/><rect x="232.3" y="171.6" width="1.2" height="1.2" fill="#181818" fill-opacity="0.75"/><rect x="235.5" y="123.9" width="1.2" height="1.2" fill="#181818" fill-opacity="0.75"/><rect x="233.3" y="135.3" width="1.2" height="1.2" fill="#181818" fill-opacity="0.75"/><rect x="233.7" y="160.7" width="1.2" height="1.2" fill="#181818" fill-opacity="0.75"/><rect x="225.6" y="172.6" width="1.2" height="1.2" fill="#181818" fill-opacity="0.75"/><rect x="232.6" y="135.3" width="1.2" height="1.2" fill="#181818" fill-opacity="0.75"/><rect x="232.6" y="176.0" width="1.2" height="1.2" fill="#181818" fill-opacity="0.75"/><rect x="222.7" y="129.0" width="1.2" height="1.2" fill="#181818" fill-opacity="0.75"/><rect x="235.1" y="138.4" width="1.2" height="1.2" fill="#181818" fill-opacity="0.75"/><rect x="232.6" y="168.3" width="1.2" height="1.2" fill="#181818" fill-opacity="0.75"/><rect x="231.2" y="136.9" width="1.2" height="1.2" fill="#181818" fill-opacity="0.75"/><rect x="232.2" y="154.1" width="1.2" height="1.2" fill="#181818" fill-opacity="0.75"/><rect x="231.8" y="128.6" width="1.2" height="1.2" fill="#181818" fill-opacity="0.75"/><rect x="229.0" y="158.9" width="1.2" height="1.2" fill="#181818" fill-opacity="0.75"/><rect x="225.7" y="169.3" width="1.2" height="1.2" fill="#181818" fill-opacity="0.75"/><rect x="226.5" y="82.1" width="1.2" height="1.2" fill="#181818" fill-opacity="0.75"/><rect x="223.5" y="34.8" width="1.2" height="1.2" fill="#181818" fill-opacity="0.75"/><rect x="236.0" y="107.7" width="1.2" height="1.2" fill="#181818" fill-opacity="0.75"/><rect x="226.7" y="169.5" width="1.2" height="1.2" fill="#181818" fill-opacity="0.75"/><rect x="227.8" y="122.3" width="1.2" height="1.2" fill="#181818" fill-opacity="0.75"/><rect x="229.8" y="155.3" width="1.2" height="1.2" fill="#181818" fill-opacity="0.75"/><rect x="226.8" y="162.0" width="1.2" height="1.2" fill="#181818" fill-opacity="0.75"/><rect x="223.0" y="128.9" width="1.2" height="1.2" fill="#181818" fill-opacity="0.75"/><rect x="233.7" y="169.1" width="1.2" height="1.2" fill="#181818" fill-opacity="0.75"/><rect x="229.7" y="172.1" width="1.2" height="1.2" fill="#181818" fill-opacity="0.75"/><rect x="225.9" y="166.8" width="1.2" height="1.2" fill="#181818" fill-opacity="0.75"/><rect x="235.1" y="148.6" width="1.2" height="1.2" fill="#181818" fill-opacity="0.75"/><rect x="225.2" y="142.8" width="1.2" height="1.2" fill="#181818" fill-opacity="0.75"/><rect x="231.5" y="170.5" width="1.2" height="1.2" fill="#181818" fill-opacity="0.75"/><rect x="227.8" y="141.5" width="1.2" height="1.2" fill="#181818" fill-opacity="0.75"/><rect x="225.8" y="127.9" width="1.2" height="1.2" fill="#181818" fill-opacity="0.75"/><rect x="228.6" y="170.5" width="1.2" height="1.2" fill="#181818" fill-opacity="0.75"/><rect x="225.9" y="152.5" width="1.2" height="1.2" fill="#181818" fill-opacity="0.75"/><rect x="225.2" y="173.6" width="1.2" height="1.2" fill="#181818" fill-opacity="0.75"/><rect x="232.8" y="163.6" width="1.2" height="1.2" fill="#181818" fill-opacity="0.75"/><rect x="223.8" y="139.0" width="1.2" height="1.2" fill="#181818" fill-opacity="0.75"/><rect x="232.7" y="58.3" width="1.2" height="1.2" fill="#181818" fill-opacity="0.75"/><rect x="225.2" y="135.5" width="1.2" height="1.2" fill="#181818" fill-opacity="0.75"/><rect x="233.2" y="167.0" width="1.2" height="1.2" fill="#181818" fill-opacity="0.75"/><rect x="224.8" y="144.7" width="1.2" height="1.2" fill="#181818" fill-opacity="0.75"/><rect x="226.0" y="163.4" width="1.2" height="1.2" fill="#181818" fill-opacity="0.75"/><rect x="230.8" y="173.2" width="1.2" height="1.2" fill="#181818" fill-opacity="0.75"/><rect x="224.5" y="125.4" width="1.2" height="1.2" fill="#181818" fill-opacity="0.75"/><rect x="223.6" y="118.6" width="1.2" height="1.2" fill="#181818" fill-opacity="0.75"/><rect x="233.0" y="142.3" width="1.2" height="1.2" fill="#181818" fill-opacity="0.75"/><rect x="228.6" y="167.1" width="1.2" height="1.2" fill="#181818" fill-opacity="0.75"/><rect x="234.6" y="156.2" width="1.2" height="1.2" fill="#181818" fill-opacity="0.75"/><rect x="223.1" y="140.3" width="1.2" height="1.2" fill="#181818" fill-opacity="0.75"/><rect x="224.9" y="160.4" width="1.2" height="1.2" fill="#181818" fill-opacity="0.75"/><rect x="230.9" y="144.0" width="1.2" height="1.2" fill="#181818" fill-opacity="0.75"/><rect x="226.0" y="131.7" width="1.2" height="1.2" fill="#181818" fill-opacity="0.75"/><rect x="228.3" y="161.1" width="1.2" height="1.2" fill="#181818" fill-opacity="0.75"/><rect x="234.6" y="141.9" width="1.2" height="1.2" fill="#181818" fill-opacity="0.75"/><rect x="227.9" y="168.8" width="1.2" height="1.2" fill="#181818" fill-opacity="0.75"/><rect x="224.0" y="147.9" width="1.2" height="1.2" fill="#181818" fill-opacity="0.75"/><rect x="225.4" y="155.8" width="1.2" height="1.2" fill="#181818" fill-opacity="0.75"/><rect x="230.2" y="111.2" width="1.2" height="1.2" fill="#181818" fill-opacity="0.75"/><rect x="231.9" y="168.2" width="1.2" height="1.2" fill="#181818" fill-opacity="0.75"/><rect x="229.1" y="170.2" width="1.2" height="1.2" fill="#181818" fill-opacity="0.75"/><rect x="226.3" y="150.3" width="1.2" height="1.2" fill="#181818" fill-opacity="0.75"/><rect x="225.4" y="159.4" width="1.2" height="1.2" fill="#181818" fill-opacity="0.75"/><rect x="225.2" y="122.5" width="1.2" height="1.2" fill="#181818" fill-opacity="0.75"/><rect x="225.8" y="148.6" width="1.2" height="1.2" fill="#181818" fill-opacity="0.75"/><rect x="233.6" y="162.0" width="1.2" height="1.2" fill="#181818" fill-opacity="0.75"/><rect x="224.2" y="65.4" width="1.2" height="1.2" fill="#181818" fill-opacity="0.75"/><rect x="228.9" y="161.5" width="1.2" height="1.2" fill="#181818" fill-opacity="0.75"/><rect x="223.7" y="148.6" width="1.2" height="1.2" fill="#181818" fill-opacity="0.75"/><rect x="235.9" y="134.2" width="1.2" height="1.2" fill="#181818" fill-opacity="0.75"/><rect x="235.2" y="139.4" width="1.2" height="1.2" fill="#181818" fill-opacity="0.75"/><rect x="225.8" y="119.7" width="1.2" height="1.2" fill="#181818" fill-opacity="0.75"/><rect x="233.0" y="159.0" width="1.2" height="1.2" fill="#181818" fill-opacity="0.75"/><rect x="231.3" y="142.4" width="1.2" height="1.2" fill="#181818" fill-opacity="0.75"/><rect x="231.4" y="176.5" width="1.2" height="1.2" fill="#181818" fill-opacity="0.75"/><rect x="233.5" y="134.9" width="1.2" height="1.2" fill="#181818" fill-opacity="0.75"/><rect x="228.8" y="164.6" width="1.2" height="1.2" fill="#181818" fill-opacity="0.75"/><rect x="233.8" y="41.3" width="1.2" height="1.2" fill="#181818" fill-opacity="0.75"/><rect x="233.8" y="175.0" width="1.2" height="1.2" fill="#181818" fill-opacity="0.75"/><rect x="227.7" y="94.6" width="1.2" height="1.2" fill="#181818" fill-opacity="0.75"/><rect x="223.5" y="59.8" width="1.2" height="1.2" fill="#181818" fill-opacity="0.75"/><rect x="226.8" y="162.0" width="1.2" height="1.2" fill="#181818" fill-opacity="0.75"/><rect x="227.3" y="170.4" width="1.2" height="1.2" fill="#181818" fill-opacity="0.75"/><rect x="228.8" y="168.3" width="1.2" height="1.2" fill="#181818" fill-opacity="0.75"/><rect x="226.9" y="174.2" width="1.2" height="1.2" fill="#181818" fill-opacity="0.75"/><rect x="233.5" y="170.5" width="1.2" height="1.2" fill="#181818" fill-opacity="0.75"/><rect x="228.7" y="169.0" width="1.2" height="1.2" fill="#181818" fill-opacity="0.75"/><rect x="228.3" y="176.7" width="1.2" height="1.2" fill="#181818" fill-opacity="0.75"/><rect x="235.2" y="125.3" width="1.2" height="1.2" fill="#181818" fill-opacity="0.75"/><rect x="232.5" y="159.7" width="1.2" height="1.2" fill="#181818" fill-opacity="0.75"/><rect x="232.2" y="160.2" width="1.2" height="1.2" fill="#181818" fill-opacity="0.75"/><rect x="234.0" y="156.3" width="1.2" height="1.2" fill="#181818" fill-opacity="0.75"/><rect x="232.9" y="96.7" width="1.2" height="1.2" fill="#181818" fill-opacity="0.75"/><rect x="226.6" y="130.0" width="1.2" height="1.2" fill="#181818" fill-opacity="0.75"/><rect x="234.1" y="162.8" width="1.2" height="1.2" fill="#181818" fill-opacity="0.75"/><rect x="224.1" y="155.5" width="1.2" height="1.2" fill="#181818" fill-opacity="0.75"/><rect x="233.2" y="169.4" width="1.2" height="1.2" fill="#181818" fill-opacity="0.75"/><rect x="228.6" y="172.6" width="1.2" height="1.2" fill="#181818" fill-opacity="0.75"/><rect x="227.8" y="169.1" width="1.2" height="1.2" fill="#181818" fill-opacity="0.75"/><rect x="234.2" y="134.5" width="1.2" height="1.2" fill="#181818" fill-opacity="0.75"/><rect x="232.6" y="159.6" width="1.2" height="1.2" fill="#181818" fill-opacity="0.75"/><rect x="231.7" y="172.6" width="1.2" height="1.2" fill="#181818" fill-opacity="0.75"/><rect x="226.8" y="168.2" width="1.2" height="1.2" fill="#181818" fill-opacity="0.75"/><rect x="228.7" y="158.5" width="1.2" height="1.2" fill="#181818" fill-opacity="0.75"/><rect x="224.2" y="146.3" width="1.2" height="1.2" fill="#181818" fill-opacity="0.75"/><rect x="231.5" y="176.7" width="1.2" height="1.2" fill="#181818" fill-opacity="0.75"/><rect x="225.4" y="177.1" width="1.2" height="1.2" fill="#181818" fill-opacity="0.75"/><rect x="228.4" y="175.4" width="1.2" height="1.2" fill="#181818" fill-opacity="0.75"/><rect x="225.5" y="156.0" width="1.2" height="1.2" fill="#181818" fill-opacity="0.75"/><rect x="232.7" y="171.1" width="1.2" height="1.2" fill="#181818" fill-opacity="0.75"/><rect x="235.9" y="110.8" width="1.2" height="1.2" fill="#181818" fill-opacity="0.75"/><rect x="226.5" y="131.7" width="1.2" height="1.2" fill="#181818" fill-opacity="0.75"/><rect x="232.9" y="170.2" width="1.2" height="1.2" fill="#181818" fill-opacity="0.75"/><rect x="234.6" y="62.2" width="1.2" height="1.2" fill="#181818" fill-opacity="0.75"/><rect x="228.9" y="170.8" width="1.2" height="1.2" fill="#181818" fill-opacity="0.75"/><rect x="230.6" y="156.2" width="1.2" height="1.2" fill="#181818" fill-opacity="0.75"/><rect x="227.2" y="123.6" width="1.2" height="1.2" fill="#181818" fill-opacity="0.75"/><rect x="225.9" y="152.9" width="1.2" height="1.2" fill="#181818" fill-opacity="0.75"/><rect x="230.2" y="172.1" width="1.2" height="1.2" fill="#181818" fill-opacity="0.75"/><rect x="232.1" y="172.9" width="1.2" height="1.2" fill="#181818" fill-opacity="0.75"/><rect x="233.8" y="175.3" width="1.2" height="1.2" fill="#181818" fill-opacity="0.75"/><rect x="227.5" y="161.5" width="1.2" height="1.2" fill="#181818" fill-opacity="0.75"/><rect x="226.2" y="137.3" width="1.2" height="1.2" fill="#181818" fill-opacity="0.75"/><rect x="224.5" y="59.1" width="1.2" height="1.2" fill="#181818" fill-opacity="0.75"/><rect x="226.2" y="142.4" width="1.2" height="1.2" fill="#181818" fill-opacity="0.75"/><rect x="231.9" y="153.5" width="1.2" height="1.2" fill="#181818" fill-opacity="0.75"/><rect x="235.2" y="41.8" width="1.2" height="1.2" fill="#181818" fill-opacity="0.75"/><rect x="226.2" y="151.8" width="1.2" height="1.2" fill="#181818" fill-opacity="0.75"/><rect x="230.3" y="121.4" width="1.2" height="1.2" fill="#181818" fill-opacity="0.75"/><rect x="224.3" y="162.7" width="1.2" height="1.2" fill="#181818" fill-opacity="0.75"/><rect x="225.2" y="166.3" width="1.2" height="1.2" fill="#181818" fill-opacity="0.75"/><rect x="226.4" y="148.7" width="1.2" height="1.2" fill="#181818" fill-opacity="0.75"/><rect x="234.4" y="163.8" width="1.2" height="1.2" fill="#181818" fill-opacity="0.75"/><rect x="226.5" y="124.3" width="1.2" height="1.2" fill="#181818" fill-opacity="0.75"/><rect x="234.6" y="144.2" width="1.2" height="1.2" fill="#181818" fill-opacity="0.75"/><rect x="230.4" y="176.2" width="1.2" height="1.2" fill="#181818" fill-opacity="0.75"/><rect x="223.1" y="136.4" width="1.2" height="1.2" fill="#181818" fill-opacity="0.75"/><rect x="224.4" y="28.9" width="1.2" height="1.2" fill="#181818" fill-opacity="0.75"/><rect x="234.1" y="152.3" width="1.2" height="1.2" fill="#181818" fill-opacity="0.75"/><rect x="222.4" y="91.8" width="1.2" height="1.2" fill="#181818" fill-opacity="0.75"/><rect x="224.3" y="158.8" width="1.2" height="1.2" fill="#181818" fill-opacity="0.75"/><rect x="226.0" y="93.0" width="1.2" height="1.2" fill="#181818" fill-opacity="0.75"/><rect x="225.5" y="151.8" width="1.2" height="1.2" fill="#181818" fill-opacity="0.75"/><rect x="234.4" y="160.3" width="1.2" height="1.2" fill="#181818" fill-opacity="0.75"/><rect x="232.2" y="163.9" width="1.2" height="1.2" fill="#181818" fill-opacity="0.75"/><rect x="236.1" y="105.9" width="1.2" height="1.2" fill="#181818" fill-opacity="0.75"/><rect x="230.2" y="166.6" width="1.2" height="1.2" fill="#181818" fill-opacity="0.75"/><rect x="233.8" y="133.3" width="1.2" height="1.2" fill="#181818" fill-opacity="0.75"/><rect x="232.6" y="111.0" width="1.2" height="1.2" fill="#181818" fill-opacity="0.75"/><rect x="226.9" y="150.8" width="1.2" height="1.2" fill="#181818" fill-opacity="0.75"/><rect x="231.4" y="135.9" width="1.2" height="1.2" fill="#181818" fill-opacity="0.75"/><rect x="225.4" y="68.5" width="1.2" height="1.2" fill="#181818" fill-opacity="0.75"/><rect x="226.9" y="175.0" width="1.2" height="1.2" fill="#181818" fill-opacity="0.75"/><rect x="226.4" y="172.7" width="1.2" height="1.2" fill="#181818" fill-opacity="0.75"/><rect x="232.7" y="171.4" width="1.2" height="1.2" fill="#181818" fill-opacity="0.75"/><rect x="227.1" y="141.9" width="1.2" height="1.2" fill="#181818" fill-opacity="0.75"/><rect x="226.8" y="151.5" width="1.2" height="1.2" fill="#181818" fill-opacity="0.75"/><rect x="234.2" y="147.0" width="1.2" height="1.2" fill="#181818" fill-opacity="0.75"/><rect x="229.1" y="174.7" width="1.2" height="1.2" fill="#181818" fill-opacity="0.75"/><rect x="234.0" y="157.5" width="1.2" height="1.2" fill="#181818" fill-opacity="0.75"/><rect x="228.9" y="123.0" width="1.2" height="1.2" fill="#181818" fill-opacity="0.75"/><rect x="234.5" y="144.4" width="1.2" height="1.2" fill="#181818" fill-opacity="0.75"/><rect x="230.2" y="143.1" width="1.2" height="1.2" fill="#181818" fill-opacity="0.75"/><rect x="227.3" y="168.9" width="1.2" height="1.2" fill="#181818" fill-opacity="0.75"/><rect x="225.3" y="160.9" width="1.2" height="1.2" fill="#181818" fill-opacity="0.75"/><rect x="230.5" y="160.5" width="1.2" height="1.2" fill="#181818" fill-opacity="0.75"/><rect x="224.8" y="164.3" width="1.2" height="1.2" fill="#181818" fill-opacity="0.75"/><rect x="233.0" y="134.3" width="1.2" height="1.2" fill="#181818" fill-opacity="0.75"/><rect x="233.9" y="153.6" width="1.2" height="1.2" fill="#181818" fill-opacity="0.75"/><rect x="226.7" y="175.3" width="1.2" height="1.2" fill="#181818" fill-opacity="0.75"/><rect x="233.6" y="150.9" width="1.2" height="1.2" fill="#181818" fill-opacity="0.75"/><rect x="228.8" y="124.5" width="1.2" height="1.2" fill="#181818" fill-opacity="0.75"/><rect x="227.5" y="173.8" width="1.2" height="1.2" fill="#181818" fill-opacity="0.75"/><rect x="223.9" y="155.7" width="1.2" height="1.2" fill="#181818" fill-opacity="0.75"/><rect x="232.5" y="171.2" width="1.2" height="1.2" fill="#181818" fill-opacity="0.75"/><rect x="231.7" y="127.0" width="1.2" height="1.2" fill="#181818" fill-opacity="0.75"/><rect x="232.0" y="145.0" width="1.2" height="1.2" fill="#181818" fill-opacity="0.75"/><rect x="225.6" y="164.8" width="1.2" height="1.2" fill="#181818" fill-opacity="0.75"/><rect x="226.0" y="153.8" width="1.2" height="1.2" fill="#181818" fill-opacity="0.75"/><rect x="231.2" y="122.5" width="1.2" height="1.2" fill="#181818" fill-opacity="0.75"/><rect x="231.9" y="165.5" width="1.2" height="1.2" fill="#181818" fill-opacity="0.75"/><rect x="231.8" y="97.4" width="1.2" height="1.2" fill="#181818" fill-opacity="0.75"/><rect x="231.5" y="72.5" width="1.2" height="1.2" fill="#181818" fill-opacity="0.75"/><rect x="225.0" y="145.4" width="1.2" height="1.2" fill="#181818" fill-opacity="0.75"/><rect x="228.9" y="166.5" width="1.2" height="1.2" fill="#181818" fill-opacity="0.75"/><rect x="227.6" y="162.4" width="1.2" height="1.2" fill="#181818" fill-opacity="0.75"/><rect x="232.8" y="127.1" width="1.2" height="1.2" fill="#181818" fill-opacity="0.75"/><rect x="231.8" y="145.9" width="1.2" height="1.2" fill="#181818" fill-opacity="0.75"/><rect x="233.2" y="170.6" width="1.2" height="1.2" fill="#181818" fill-opacity="0.75"/><rect x="232.9" y="166.2" width="1.2" height="1.2" fill="#181818" fill-opacity="0.75"/><rect x="225.3" y="173.9" width="1.2" height="1.2" fill="#181818" fill-opacity="0.75"/><rect x="230.9" y="176.3" width="1.2" height="1.2" fill="#181818" fill-opacity="0.75"/><rect x="228.1" y="168.6" width="1.2" height="1.2" fill="#181818" fill-opacity="0.75"/><rect x="225.1" y="159.5" width="1.2" height="1.2" fill="#181818" fill-opacity="0.75"/><rect x="229.1" y="160.9" width="1.2" height="1.2" fill="#181818" fill-opacity="0.75"/><rect x="234.3" y="126.6" width="1.2" height="1.2" fill="#181818" fill-opacity="0.75"/><rect x="234.0" y="110.1" width="1.2" height="1.2" fill="#181818" fill-opacity="0.75"/><rect x="223.3" y="107.4" width="1.2" height="1.2" fill="#181818" fill-opacity="0.75"/><rect x="233.9" y="73.5" width="1.2" height="1.2" fill="#181818" fill-opacity="0.75"/><rect x="223.1" y="57.6" width="1.2" height="1.2" fill="#181818" fill-opacity="0.75"/><rect x="233.9" y="81.5" width="1.2" height="1.2" fill="#181818" fill-opacity="0.75"/><rect x="226.3" y="164.2" width="1.2" height="1.2" fill="#181818" fill-opacity="0.75"/><rect x="229.3" y="167.4" width="1.2" height="1.2" fill="#181818" fill-opacity="0.75"/><rect x="223.8" y="53.3" width="1.2" height="1.2" fill="#181818" fill-opacity="0.75"/><rect x="223.6" y="144.4" width="1.2" height="1.2" fill="#181818" fill-opacity="0.75"/><rect x="224.2" y="48.5" width="1.2" height="1.2" fill="#181818" fill-opacity="0.75"/><rect x="231.7" y="101.7" width="1.2" height="1.2" fill="#181818" fill-opacity="0.75"/><rect x="232.5" y="176.4" width="1.2" height="1.2" fill="#181818" fill-opacity="0.75"/><rect x="227.1" y="85.8" width="1.2" height="1.2" fill="#181818" fill-opacity="0.75"/><rect x="231.0" y="105.1" width="1.2" height="1.2" fill="#181818" fill-opacity="0.75"/><rect x="228.2" y="165.4" width="1.2" height="1.2" fill="#181818" fill-opacity="0.75"/><rect x="233.9" y="134.8" width="1.2" height="1.2" fill="#181818" fill-opacity="0.75"/><rect x="233.6" y="127.4" width="1.2" height="1.2" fill="#181818" fill-opacity="0.75"/><rect x="231.8" y="121.0" width="1.2" height="1.2" fill="#181818" fill-opacity="0.75"/><rect x="224.7" y="62.0" width="1.2" height="1.2" fill="#181818" fill-opacity="0.75"/><rect x="231.8" y="150.2" width="1.2" height="1.2" fill="#181818" fill-opacity="0.75"/><rect x="226.1" y="105.1" width="1.2" height="1.2" fill="#181818" fill-opacity="0.75"/><rect x="222.2" y="78.4" width="1.2" height="1.2" fill="#181818" fill-opacity="0.75"/><rect x="234.6" y="22.9" width="1.2" height="1.2" fill="#181818" fill-opacity="0.75"/><rect x="230.1" y="158.7" width="1.2" height="1.2" fill="#181818" fill-opacity="0.75"/><rect x="226.8" y="164.5" width="1.2" height="1.2" fill="#181818" fill-opacity="0.75"/><rect x="231.3" y="146.2" width="1.2" height="1.2" fill="#181818" fill-opacity="0.75"/><rect x="231.4" y="141.5" width="1.2" height="1.2" fill="#181818" fill-opacity="0.75"/><rect x="225.3" y="150.9" width="1.2" height="1.2" fill="#181818" fill-opacity="0.75"/><rect x="229.9" y="165.1" width="1.2" height="1.2" fill="#181818" fill-opacity="0.75"/><rect x="223.7" y="143.3" width="1.2" height="1.2" fill="#181818" fill-opacity="0.75"/><rect x="234.7" y="141.0" width="1.2" height="1.2" fill="#181818" fill-opacity="0.75"/><rect x="227.1" y="99.2" width="1.2" height="1.2" fill="#181818" fill-opacity="0.75"/><rect x="224.7" y="71.7" width="1.2" height="1.2" fill="#181818" fill-opacity="0.75"/><rect x="235.3" y="118.1" width="1.2" height="1.2" fill="#181818" fill-opacity="0.75"/><rect x="235.0" y="150.0" width="1.2" height="1.2" fill="#181818" fill-opacity="0.75"/><rect x="232.7" y="162.0" width="1.2" height="1.2" fill="#181818" fill-opacity="0.75"/><rect x="230.4" y="134.5" width="1.2" height="1.2" fill="#181818" fill-opacity="0.75"/><rect x="227.4" y="149.6" width="1.2" height="1.2" fill="#181818" fill-opacity="0.75"/><rect x="228.2" y="98.9" width="1.2" height="1.2" fill="#181818" fill-opacity="0.75"/><rect x="234.3" y="35.2" width="1.2" height="1.2" fill="#181818" fill-opacity="0.75"/><rect x="233.3" y="60.4" width="1.2" height="1.2" fill="#181818" fill-opacity="0.75"/><rect x="225.9" y="144.3" width="1.2" height="1.2" fill="#181818" fill-opacity="0.75"/><rect x="227.3" y="171.6" width="1.2" height="1.2" fill="#181818" fill-opacity="0.75"/><rect x="232.4" y="166.5" width="1.2" height="1.2" fill="#181818" fill-opacity="0.75"/><rect x="223.8" y="106.3" width="1.2" height="1.2" fill="#181818" fill-opacity="0.75"/><rect x="224.7" y="118.1" width="1.2" height="1.2" fill="#181818" fill-opacity="0.75"/><rect x="224.1" y="66.0" width="1.2" height="1.2" fill="#181818" fill-opacity="0.75"/><rect x="227.3" y="163.8" width="1.2" height="1.2" fill="#181818" fill-opacity="0.75"/><rect x="234.9" y="135.9" width="1.2" height="1.2" fill="#181818" fill-opacity="0.75"/><rect x="234.7" y="65.5" width="1.2" height="1.2" fill="#181818" fill-opacity="0.75"/><rect x="224.5" y="84.7" width="1.2" height="1.2" fill="#181818" fill-opacity="0.75"/><rect x="226.7" y="93.1" width="1.2" height="1.2" fill="#181818" fill-opacity="0.75"/><rect x="233.6" y="30.2" width="1.2" height="1.2" fill="#181818" fill-opacity="0.75"/><rect x="234.5" y="159.0" width="1.2" height="1.2" fill="#181818" fill-opacity="0.75"/><rect x="231.2" y="145.6" width="1.2" height="1.2" fill="#181818" fill-opacity="0.75"/><rect x="222.1" y="85.1" width="1.2" height="1.2" fill="#181818" fill-opacity="0.75"/><rect x="234.1" y="85.1" width="1.2" height="1.2" fill="#181818" fill-opacity="0.75"/><rect x="224.2" y="17.4" width="1.2" height="1.2" fill="#181818" fill-opacity="0.75"/><rect x="223.5" y="17.8" width="1.2" height="1.2" fill="#181818" fill-opacity="0.75"/><rect x="223.7" y="81.6" width="1.2" height="1.2" fill="#181818" fill-opacity="0.75"/><rect x="234.2" y="53.5" width="1.2" height="1.2" fill="#181818" fill-opacity="0.75"/><rect x="235.0" y="63.6" width="1.2" height="1.2" fill="#181818" fill-opacity="0.75"/><rect x="227.7" y="155.8" width="1.2" height="1.2" fill="#181818" fill-opacity="0.75"/><rect x="232.3" y="79.1" width="1.2" height="1.2" fill="#181818" fill-opacity="0.75"/><rect x="224.5" y="127.5" width="1.2" height="1.2" fill="#181818" fill-opacity="0.75"/><rect x="236.5" y="118.9" width="1.2" height="1.2" fill="#181818" fill-opacity="0.75"/><rect x="226.3" y="152.0" width="1.2" height="1.2" fill="#181818" fill-opacity="0.75"/><rect x="225.5" y="176.1" width="1.2" height="1.2" fill="#181818" fill-opacity="0.75"/><rect x="222.9" y="38.0" width="1.2" height="1.2" fill="#181818" fill-opacity="0.75"/><rect x="230.6" y="60.3" width="1.2" height="1.2" fill="#181818" fill-opacity="0.75"/><rect x="225.1" y="54.6" width="1.2" height="1.2" fill="#181818" fill-opacity="0.75"/><rect x="223.5" y="130.4" width="1.2" height="1.2" fill="#181818" fill-opacity="0.75"/><rect x="235.7" y="109.3" width="1.2" height="1.2" fill="#181818" fill-opacity="0.75"/><rect x="231.5" y="148.7" width="1.2" height="1.2" fill="#181818" fill-opacity="0.75"/><rect x="233.6" y="79.1" width="1.2" height="1.2" fill="#181818" fill-opacity="0.75"/><rect x="222.7" y="40.4" width="1.2" height="1.2" fill="#181818" fill-opacity="0.75"/><rect x="235.7" y="50.3" width="1.2" height="1.2" fill="#181818" fill-opacity="0.75"/><rect x="235.4" y="24.9" width="1.2" height="1.2" fill="#181818" fill-opacity="0.75"/><rect x="228.1" y="134.9" width="1.2" height="1.2" fill="#181818" fill-opacity="0.75"/><rect x="232.2" y="62.9" width="1.2" height="1.2" fill="#181818" fill-opacity="0.75"/><rect x="228.4" y="156.8" width="1.2" height="1.2" fill="#181818" fill-opacity="0.75"/><rect x="232.9" y="89.9" width="1.2" height="1.2" fill="#181818" fill-opacity="0.75"/><rect x="225.8" y="159.5" width="1.2" height="1.2" fill="#181818" fill-opacity="0.75"/><rect x="235.5" y="89.2" width="1.2" height="1.2" fill="#181818" fill-opacity="0.75"/><rect x="233.8" y="88.9" width="1.2" height="1.2" fill="#181818" fill-opacity="0.75"/><rect x="236.8" y="120.8" width="1.2" height="1.2" fill="#181818" fill-opacity="0.75"/><rect x="233.8" y="120.4" width="1.2" height="1.2" fill="#181818" fill-opacity="0.75"/><rect x="234.4" y="61.3" width="1.2" height="1.2" fill="#181818" fill-opacity="0.75"/><rect x="231.4" y="98.9" width="1.2" height="1.2" fill="#181818" fill-opacity="0.75"/><rect x="222.7" y="110.9" width="1.2" height="1.2" fill="#181818" fill-opacity="0.75"/><rect x="224.6" y="159.1" width="1.2" height="1.2" fill="#181818" fill-opacity="0.75"/><rect x="226.2" y="131.4" width="1.2" height="1.2" fill="#181818" fill-opacity="0.75"/><rect x="225.6" y="39.1" width="1.2" height="1.2" fill="#181818" fill-opacity="0.75"/><rect x="224.3" y="18.7" width="1.2" height="1.2" fill="#181818" fill-opacity="0.75"/><rect x="225.6" y="116.5" width="1.2" height="1.2" fill="#181818" fill-opacity="0.75"/><rect x="233.7" y="35.2" width="1.2" height="1.2" fill="#181818" fill-opacity="0.75"/><rect x="224.6" y="34.8" width="1.2" height="1.2" fill="#181818" fill-opacity="0.75"/><rect x="233.8" y="141.9" width="1.2" height="1.2" fill="#181818" fill-opacity="0.75"/><rect x="224.3" y="132.8" width="1.2" height="1.2" fill="#181818" fill-opacity="0.75"/><rect x="236.1" y="63.8" width="1.2" height="1.2" fill="#181818" fill-opacity="0.75"/><rect x="222.4" y="127.5" width="1.2" height="1.2" fill="#181818" fill-opacity="0.75"/><rect x="233.2" y="21.4" width="1.2" height="1.2" fill="#181818" fill-opacity="0.75"/><rect x="234.0" y="117.9" width="1.2" height="1.2" fill="#181818" fill-opacity="0.75"/><rect x="234.1" y="58.2" width="1.2" height="1.2" fill="#181818" fill-opacity="0.75"/><rect x="235.8" y="61.9" width="1.2" height="1.2" fill="#181818" fill-opacity="0.75"/><rect x="228.7" y="142.6" width="1.2" height="1.2" fill="#181818" fill-opacity="0.75"/><rect x="224.5" y="36.0" width="1.2" height="1.2" fill="#181818" fill-opacity="0.75"/><rect x="222.2" y="123.8" width="1.2" height="1.2" fill="#181818" fill-opacity="0.75"/><rect x="233.6" y="159.5" width="1.2" height="1.2" fill="#181818" fill-opacity="0.75"/><rect x="233.4" y="169.3" width="1.2" height="1.2" fill="#181818" fill-opacity="0.75"/><rect x="224.3" y="103.7" width="1.2" height="1.2" fill="#181818" fill-opacity="0.75"/><rect x="226.4" y="74.1" width="1.2" height="1.2" fill="#181818" fill-opacity="0.75"/><rect x="226.2" y="133.2" width="1.2" height="1.2" fill="#181818" fill-opacity="0.75"/><rect x="234.7" y="39.9" width="1.2" height="1.2" fill="#181818" fill-opacity="0.75"/><rect x="228.5" y="133.8" width="1.2" height="1.2" fill="#181818" fill-opacity="0.75"/><rect x="233.7" y="39.0" width="1.2" height="1.2" fill="#181818" fill-opacity="0.75"/><rect x="225.1" y="172.1" width="1.2" height="1.2" fill="#181818" fill-opacity="0.75"/><rect x="233.4" y="134.6" width="1.2" height="1.2" fill="#181818" fill-opacity="0.75"/><rect x="233.3" y="151.4" width="1.2" height="1.2" fill="#181818" fill-opacity="0.75"/><rect x="235.2" y="104.4" width="1.2" height="1.2" fill="#181818" fill-opacity="0.75"/><rect x="231.2" y="120.2" width="1.2" height="1.2" fill="#181818" fill-opacity="0.75"/><rect x="222.1" y="113.0" width="1.2" height="1.2" fill="#181818" fill-opacity="0.75"/><rect x="225.3" y="38.4" width="1.2" height="1.2" fill="#181818" fill-opacity="0.75"/><rect x="223.3" y="82.8" width="1.2" height="1.2" fill="#181818" fill-opacity="0.75"/><rect x="234.8" y="78.6" width="1.2" height="1.2" fill="#181818" fill-opacity="0.75"/><rect x="232.9" y="113.8" width="1.2" height="1.2" fill="#181818" fill-opacity="0.75"/><rect x="235.7" y="45.5" width="1.2" height="1.2" fill="#181818" fill-opacity="0.75"/><rect x="235.3" y="95.5" width="1.2" height="1.2" fill="#181818" fill-opacity="0.75"/><rect x="224.9" y="55.6" width="1.2" height="1.2" fill="#181818" fill-opacity="0.75"/><rect x="223.4" y="28.1" width="1.2" height="1.2" fill="#181818" fill-opacity="0.75"/><rect x="224.0" y="77.5" width="1.2" height="1.2" fill="#181818" fill-opacity="0.75"/><rect x="222.0" y="106.4" width="1.2" height="1.2" fill="#181818" fill-opacity="0.75"/><rect x="234.9" y="134.4" width="1.2" height="1.2" fill="#181818" fill-opacity="0.75"/><rect x="237.2" y="28.5" width="1.2" height="1.2" fill="#181818" fill-opacity="0.75"/><rect x="224.3" y="52.5" width="1.2" height="1.2" fill="#181818" fill-opacity="0.75"/><rect x="233.8" y="46.9" width="1.2" height="1.2" fill="#181818" fill-opacity="0.75"/><rect x="234.3" y="141.3" width="1.2" height="1.2" fill="#181818" fill-opacity="0.75"/><rect x="222.7" y="106.2" width="1.2" height="1.2" fill="#181818" fill-opacity="0.75"/><rect x="234.9" y="33.1" width="1.2" height="1.2" fill="#181818" fill-opacity="0.75"/><rect x="227.2" y="137.3" width="1.2" height="1.2" fill="#181818" fill-opacity="0.75"/><rect x="225.3" y="44.5" width="1.2" height="1.2" fill="#181818" fill-opacity="0.75"/><rect x="224.6" y="89.5" width="1.2" height="1.2" fill="#181818" fill-opacity="0.75"/><rect x="233.4" y="141.8" width="1.2" height="1.2" fill="#181818" fill-opacity="0.75"/><rect x="232.6" y="116.2" width="1.2" height="1.2" fill="#181818" fill-opacity="0.75"/><rect x="230.6" y="165.0" width="1.2" height="1.2" fill="#181818" fill-opacity="0.75"/><rect x="228.6" y="67.5" width="1.2" height="1.2" fill="#181818" fill-opacity="0.75"/><rect x="233.0" y="58.7" width="1.2" height="1.2" fill="#181818" fill-opacity="0.75"/><rect x="228.7" y="172.8" width="1.2" height="1.2" fill="#181818" fill-opacity="0.75"/><rect x="226.0" y="128.3" width="1.2" height="1.2" fill="#181818" fill-opacity="0.75"/><rect x="225.9" y="51.9" width="1.2" height="1.2" fill="#181818" fill-opacity="0.75"/><rect x="227.5" y="144.8" width="1.2" height="1.2" fill="#181818" fill-opacity="0.75"/><rect x="227.6" y="89.8" width="1.2" height="1.2" fill="#181818" fill-opacity="0.75"/><rect x="233.9" y="45.8" width="1.2" height="1.2" fill="#181818" fill-opacity="0.75"/><rect x="231.1" y="84.4" width="1.2" height="1.2" fill="#181818" fill-opacity="0.75"/><rect x="234.6" y="157.5" width="1.2" height="1.2" fill="#181818" fill-opacity="0.75"/><rect x="224.0" y="29.0" width="1.2" height="1.2" fill="#181818" fill-opacity="0.75"/><rect x="226.3" y="55.5" width="1.2" height="1.2" fill="#181818" fill-opacity="0.75"/><rect x="233.2" y="85.2" width="1.2" height="1.2" fill="#181818" fill-opacity="0.75"/><rect x="229.1" y="123.1" width="1.2" height="1.2" fill="#181818" fill-opacity="0.75"/><rect x="224.6" y="82.4" width="1.2" height="1.2" fill="#181818" fill-opacity="0.75"/><rect x="226.1" y="113.5" width="1.2" height="1.2" fill="#181818" fill-opacity="0.75"/><rect x="234.2" y="158.1" width="1.2" height="1.2" fill="#181818" fill-opacity="0.75"/><rect x="229.9" y="157.5" width="1.2" height="1.2" fill="#181818" fill-opacity="0.75"/><rect x="227.3" y="170.1" width="1.2" height="1.2" fill="#181818" fill-opacity="0.75"/><rect x="225.2" y="149.7" width="1.2" height="1.2" fill="#181818" fill-opacity="0.75"/><rect x="223.7" y="137.4" width="1.2" height="1.2" fill="#181818" fill-opacity="0.75"/><rect x="235.5" y="73.7" width="1.2" height="1.2" fill="#181818" fill-opacity="0.75"/><rect x="236.5" y="82.7" width="1.2" height="1.2" fill="#181818" fill-opacity="0.75"/><rect x="227.1" y="81.0" width="1.2" height="1.2" fill="#181818" fill-opacity="0.75"/><rect x="224.2" y="43.2" width="1.2" height="1.2" fill="#181818" fill-opacity="0.75"/><rect x="233.4" y="162.0" width="1.2" height="1.2" fill="#181818" fill-opacity="0.75"/><rect x="233.7" y="114.0" width="1.2" height="1.2" fill="#181818" fill-opacity="0.75"/><rect x="225.3" y="164.5" width="1.2" height="1.2" fill="#181818" fill-opacity="0.75"/><rect x="230.6" y="109.1" width="1.2" height="1.2" fill="#181818" fill-opacity="0.75"/><rect x="228.5" y="164.6" width="1.2" height="1.2" fill="#181818" fill-opacity="0.75"/><rect x="232.8" y="166.7" width="1.2" height="1.2" fill="#181818" fill-opacity="0.75"/><rect x="225.8" y="160.5" width="1.2" height="1.2" fill="#181818" fill-opacity="0.75"/><rect x="233.9" y="113.8" width="1.2" height="1.2" fill="#181818" fill-opacity="0.75"/><rect x="224.9" y="52.8" width="1.2" height="1.2" fill="#181818" fill-opacity="0.75"/><rect x="224.0" y="131.4" width="1.2" height="1.2" fill="#181818" fill-opacity="0.75"/><rect x="224.3" y="56.3" width="1.2" height="1.2" fill="#181818" fill-opacity="0.75"/><rect x="231.7" y="139.4" width="1.2" height="1.2" fill="#181818" fill-opacity="0.75"/><rect x="231.8" y="130.6" width="1.2" height="1.2" fill="#181818" fill-opacity="0.75"/><rect x="236.4" y="100.5" width="1.2" height="1.2" fill="#181818" fill-opacity="0.75"/><rect x="229.0" y="165.2" width="1.2" height="1.2" fill="#181818" fill-opacity="0.75"/><rect x="224.7" y="104.2" width="1.2" height="1.2" fill="#181818" fill-opacity="0.75"/><rect x="223.9" y="82.2" width="1.2" height="1.2" fill="#181818" fill-opacity="0.75"/><rect x="235.3" y="42.8" width="1.2" height="1.2" fill="#181818" fill-opacity="0.75"/><rect x="225.2" y="168.3" width="1.2" height="1.2" fill="#181818" fill-opacity="0.75"/><rect x="224.6" y="46.8" width="1.2" height="1.2" fill="#181818" fill-opacity="0.75"/><rect x="234.4" y="84.4" width="1.2" height="1.2" fill="#181818" fill-opacity="0.75"/><rect x="230.4" y="83.0" width="1.2" height="1.2" fill="#181818" fill-opacity="0.75"/><rect x="216.9" y="142.2" width="1.2" height="1.2" fill="#303030" fill-opacity="0.7"/><rect x="218.7" y="165.3" width="1.2" height="1.2" fill="#303030" fill-opacity="0.7"/><rect x="222.6" y="74.4" width="1.2" height="1.2" fill="#303030" fill-opacity="0.7"/><rect x="221.5" y="117.1" width="1.2" height="1.2" fill="#303030" fill-opacity="0.7"/><rect x="216.1" y="119.4" width="1.2" height="1.2" fill="#303030" fill-opacity="0.7"/><rect x="219.0" y="161.9" width="1.2" height="1.2" fill="#303030" fill-opacity="0.7"/><rect x="239.6" y="157.9" width="1.2" height="1.2" fill="#303030" fill-opacity="0.7"/><rect x="245.6" y="139.2" width="1.2" height="1.2" fill="#303030" fill-opacity="0.7"/><rect x="221.1" y="163.3" width="1.2" height="1.2" fill="#303030" fill-opacity="0.7"/><rect x="222.0" y="174.9" width="1.2" height="1.2" fill="#303030" fill-opacity="0.7"/><rect x="221.0" y="159.3" width="1.2" height="1.2" fill="#303030" fill-opacity="0.7"/><rect x="219.7" y="151.6" width="1.2" height="1.2" fill="#303030" fill-opacity="0.7"/><rect x="220.9" y="115.7" width="1.2" height="1.2" fill="#303030" fill-opacity="0.7"/><rect x="213.6" y="113.3" width="1.2" height="1.2" fill="#303030" fill-opacity="0.7"/><rect x="240.3" y="122.5" width="1.2" height="1.2" fill="#303030" fill-opacity="0.7"/><rect x="213.3" y="153.6" width="1.2" height="1.2" fill="#303030" fill-opacity="0.7"/><rect x="219.3" y="115.2" width="1.2" height="1.2" fill="#303030" fill-opacity="0.7"/><rect x="221.8" y="113.2" width="1.2" height="1.2" fill="#303030" fill-opacity="0.7"/><rect x="219.7" y="152.6" width="1.2" height="1.2" fill="#303030" fill-opacity="0.7"/><rect x="237.5" y="152.9" width="1.2" height="1.2" fill="#303030" fill-opacity="0.7"/><rect x="221.5" y="170.9" width="1.2" height="1.2" fill="#303030" fill-opacity="0.7"/><rect x="212.8" y="149.5" width="1.2" height="1.2" fill="#303030" fill-opacity="0.7"/><rect x="214.9" y="153.0" width="1.2" height="1.2" fill="#303030" fill-opacity="0.7"/><rect x="219.7" y="163.0" width="1.2" height="1.2" fill="#303030" fill-opacity="0.7"/><rect x="221.6" y="176.6" width="1.2" height="1.2" fill="#303030" fill-opacity="0.7"/><rect x="220.0" y="159.2" width="1.2" height="1.2" fill="#303030" fill-opacity="0.7"/><rect x="221.4" y="175.8" width="1.2" height="1.2" fill="#303030" fill-opacity="0.7"/><rect x="215.0" y="150.1" width="1.2" height="1.2" fill="#303030" fill-opacity="0.7"/><rect x="222.6" y="107.0" width="1.2" height="1.2" fill="#303030" fill-opacity="0.7"/><rect x="214.6" y="124.7" width="1.2" height="1.2" fill="#303030" fill-opacity="0.7"/><rect x="221.8" y="168.1" width="1.2" height="1.2" fill="#303030" fill-opacity="0.7"/><rect x="191.4" y="63.6" width="1.2" height="1.2" fill="#303030" fill-opacity="0.7"/><rect x="202.5" y="169.8" width="1.2" height="1.2" fill="#303030" fill-opacity="0.7"/><rect x="206.0" y="133.9" width="1.2" height="1.2" fill="#303030" fill-opacity="0.7"/><rect x="214.9" y="152.0" width="1.2" height="1.2" fill="#303030" fill-opacity="0.7"/><rect x="214.4" y="157.2" width="1.2" height="1.2" fill="#303030" fill-opacity="0.7"/><rect x="218.3" y="117.4" width="1.2" height="1.2" fill="#303030" fill-opacity="0.7"/><rect x="200.5" y="166.3" width="1.2" height="1.2" fill="#303030" fill-opacity="0.7"/><rect x="218.7" y="160.5" width="1.2" height="1.2" fill="#303030" fill-opacity="0.7"/><rect x="207.3" y="177.1" width="1.2" height="1.2" fill="#303030" fill-opacity="0.7"/><rect x="196.9" y="157.5" width="1.2" height="1.2" fill="#303030" fill-opacity="0.7"/><rect x="246.3" y="108.0" width="1.2" height="1.2" fill="#303030" fill-opacity="0.7"/><rect x="221.7" y="131.8" width="1.2" height="1.2" fill="#303030" fill-opacity="0.7"/><rect x="202.0" y="74.3" width="1.2" height="1.2" fill="#303030" fill-opacity="0.7"/><rect x="202.8" y="171.8" width="1.2" height="1.2" fill="#303030" fill-opacity="0.7"/><rect x="216.6" y="145.3" width="1.2" height="1.2" fill="#303030" fill-opacity="0.7"/><rect x="215.5" y="128.6" width="1.2" height="1.2" fill="#303030" fill-opacity="0.7"/><rect x="219.4" y="108.0" width="1.2" height="1.2" fill="#303030" fill-opacity="0.7"/><rect x="216.7" y="156.4" width="1.2" height="1.2" fill="#303030" fill-opacity="0.7"/><rect x="244.0" y="137.4" width="1.2" height="1.2" fill="#303030" fill-opacity="0.7"/><rect x="205.6" y="149.4" width="1.2" height="1.2" fill="#303030" fill-opacity="0.7"/><rect x="203.6" y="76.1" width="1.2" height="1.2" fill="#303030" fill-opacity="0.7"/><rect x="238.5" y="172.3" width="1.2" height="1.2" fill="#303030" fill-opacity="0.7"/><rect x="217.5" y="108.6" width="1.2" height="1.2" fill="#303030" fill-opacity="0.7"/><rect x="208.3" y="167.7" width="1.2" height="1.2" fill="#303030" fill-opacity="0.7"/><rect x="240.3" y="172.8" width="1.2" height="1.2" fill="#303030" fill-opacity="0.7"/><rect x="238.7" y="156.7" width="1.2" height="1.2" fill="#303030" fill-opacity="0.7"/><rect x="249.1" y="167.3" width="1.2" height="1.2" fill="#303030" fill-opacity="0.7"/><rect x="217.9" y="65.9" width="1.2" height="1.2" fill="#303030" fill-opacity="0.7"/><rect x="221.5" y="171.7" width="1.2" height="1.2" fill="#303030" fill-opacity="0.7"/><rect x="239.5" y="151.6" width="1.2" height="1.2" fill="#303030" fill-opacity="0.7"/><rect x="240.2" y="177.0" width="1.2" height="1.2" fill="#303030" fill-opacity="0.7"/><rect x="221.1" y="163.8" width="1.2" height="1.2" fill="#303030" fill-opacity="0.7"/><rect x="240.5" y="172.8" width="1.2" height="1.2" fill="#303030" fill-opacity="0.7"/><rect x="221.7" y="45.9" width="1.2" height="1.2" fill="#303030" fill-opacity="0.7"/><rect x="215.6" y="114.9" width="1.2" height="1.2" fill="#303030" fill-opacity="0.7"/><rect x="219.7" y="28.0" width="1.2" height="1.2" fill="#303030" fill-opacity="0.7"/><rect x="215.2" y="173.6" width="1.2" height="1.2" fill="#303030" fill-opacity="0.7"/><rect x="251.0" y="27.4" width="1.2" height="1.2" fill="#303030" fill-opacity="0.7"/><rect x="238.7" y="52.6" width="1.2" height="1.2" fill="#303030" fill-opacity="0.7"/><rect x="216.7" y="160.8" width="1.2" height="1.2" fill="#303030" fill-opacity="0.7"/><rect x="219.2" y="162.8" width="1.2" height="1.2" fill="#303030" fill-opacity="0.7"/><rect x="214.0" y="54.8" width="1.2" height="1.2" fill="#303030" fill-opacity="0.7"/><rect x="212.5" y="137.6" width="1.2" height="1.2" fill="#303030" fill-opacity="0.7"/><rect x="214.3" y="64.6" width="1.2" height="1.2" fill="#303030" fill-opacity="0.7"/><rect x="219.1" y="40.7" width="1.2" height="1.2" fill="#303030" fill-opacity="0.7"/><rect x="221.4" y="158.2" width="1.2" height="1.2" fill="#303030" fill-opacity="0.7"/><rect x="205.2" y="124.5" width="1.2" height="1.2" fill="#303030" fill-opacity="0.7"/><rect x="217.7" y="31.2" width="1.2" height="1.2" fill="#303030" fill-opacity="0.7"/><rect x="244.2" y="99.5" width="1.2" height="1.2" fill="#303030" fill-opacity="0.7"/><rect x="218.9" y="152.5" width="1.2" height="1.2" fill="#303030" fill-opacity="0.7"/><rect x="204.9" y="163.3" width="1.2" height="1.2" fill="#303030" fill-opacity="0.7"/><rect x="212.2" y="157.4" width="1.2" height="1.2" fill="#303030" fill-opacity="0.7"/><rect x="222.1" y="160.2" width="1.2" height="1.2" fill="#303030" fill-opacity="0.7"/><rect x="243.8" y="119.2" width="1.2" height="1.2" fill="#303030" fill-opacity="0.7"/><rect x="239.9" y="50.6" width="1.2" height="1.2" fill="#303030" fill-opacity="0.7"/><rect x="222.1" y="103.5" width="1.2" height="1.2" fill="#303030" fill-opacity="0.7"/><rect x="217.0" y="161.4" width="1.2" height="1.2" fill="#303030" fill-opacity="0.7"/><rect x="219.1" y="119.9" width="1.2" height="1.2" fill="#303030" fill-opacity="0.7"/><rect x="210.2" y="98.5" width="1.2" height="1.2" fill="#303030" fill-opacity="0.7"/><rect x="218.9" y="104.3" width="1.2" height="1.2" fill="#303030" fill-opacity="0.7"/><rect x="210.3" y="72.7" width="1.2" height="1.2" fill="#303030" fill-opacity="0.7"/><rect x="215.1" y="66.3" width="1.2" height="1.2" fill="#303030" fill-opacity="0.7"/><rect x="206.1" y="55.3" width="1.2" height="1.2" fill="#303030" fill-opacity="0.7"/><rect x="243.9" y="89.9" width="1.2" height="1.2" fill="#303030" fill-opacity="0.7"/><rect x="242.1" y="172.6" width="1.2" height="1.2" fill="#303030" fill-opacity="0.7"/><rect x="221.2" y="51.8" width="1.2" height="1.2" fill="#303030" fill-opacity="0.7"/><rect x="221.2" y="49.6" width="1.2" height="1.2" fill="#303030" fill-opacity="0.7"/><rect x="217.9" y="58.3" width="1.2" height="1.2" fill="#303030" fill-opacity="0.7"/><rect x="242.4" y="106.0" width="1.2" height="1.2" fill="#303030" fill-opacity="0.7"/><rect x="240.9" y="32.6" width="1.2" height="1.2" fill="#303030" fill-opacity="0.7"/><rect x="216.8" y="161.8" width="1.2" height="1.2" fill="#303030" fill-opacity="0.7"/><rect x="218.8" y="56.6" width="1.2" height="1.2" fill="#303030" fill-opacity="0.7"/><rect x="209.8" y="80.1" width="1.2" height="1.2" fill="#303030" fill-opacity="0.7"/><rect x="253.1" y="63.1" width="1.2" height="1.2" fill="#303030" fill-opacity="0.7"/><rect x="239.4" y="166.5" width="1.2" height="1.2" fill="#303030" fill-opacity="0.7"/><rect x="218.8" y="19.3" width="1.2" height="1.2" fill="#303030" fill-opacity="0.7"/><rect x="207.7" y="172.6" width="1.2" height="1.2" fill="#303030" fill-opacity="0.7"/><rect x="243.5" y="148.6" width="1.2" height="1.2" fill="#303030" fill-opacity="0.7"/><rect x="243.7" y="93.1" width="1.2" height="1.2" fill="#303030" fill-opacity="0.7"/><rect x="198.9" y="83.9" width="1.2" height="1.2" fill="#303030" fill-opacity="0.7"/><rect x="211.7" y="148.4" width="1.2" height="1.2" fill="#303030" fill-opacity="0.7"/><rect x="242.5" y="130.5" width="1.2" height="1.2" fill="#303030" fill-opacity="0.7"/><rect x="243.9" y="28.0" width="1.2" height="1.2" fill="#303030" fill-opacity="0.7"/><rect x="222.4" y="125.0" width="1.2" height="1.2" fill="#303030" fill-opacity="0.7"/><rect x="217.7" y="104.8" width="1.2" height="1.2" fill="#303030" fill-opacity="0.7"/><rect x="240.2" y="159.3" width="1.2" height="1.2" fill="#303030" fill-opacity="0.7"/><rect x="238.3" y="84.5" width="1.2" height="1.2" fill="#303030" fill-opacity="0.7"/><rect x="214.9" y="63.0" width="1.2" height="1.2" fill="#303030" fill-opacity="0.7"/><rect x="245.9" y="56.5" width="1.2" height="1.2" fill="#303030" fill-opacity="0.7"/><rect x="219.3" y="139.5" width="1.2" height="1.2" fill="#303030" fill-opacity="0.7"/><rect x="240.8" y="117.2" width="1.2" height="1.2" fill="#303030" fill-opacity="0.7"/><rect x="214.3" y="70.6" width="1.2" height="1.2" fill="#303030" fill-opacity="0.7"/><rect x="217.4" y="18.5" width="1.2" height="1.2" fill="#303030" fill-opacity="0.7"/><rect x="238.7" y="51.7" width="1.2" height="1.2" fill="#303030" fill-opacity="0.7"/><rect x="237.7" y="141.7" width="1.2" height="1.2" fill="#303030" fill-opacity="0.7"/><rect x="214.0" y="166.8" width="1.2" height="1.2" fill="#303030" fill-opacity="0.7"/><rect x="237.7" y="123.9" width="1.2" height="1.2" fill="#303030" fill-opacity="0.7"/><rect x="217.8" y="91.0" width="1.2" height="1.2" fill="#303030" fill-opacity="0.7"/><rect x="202.2" y="133.1" width="1.2" height="1.2" fill="#303030" fill-opacity="0.7"/><rect x="217.5" y="48.4" width="1.2" height="1.2" fill="#303030" fill-opacity="0.7"/><rect x="211.9" y="135.6" width="1.2" height="1.2" fill="#303030" fill-opacity="0.7"/><rect x="215.5" y="157.3" width="1.2" height="1.2" fill="#303030" fill-opacity="0.7"/><rect x="242.9" y="79.1" width="1.2" height="1.2" fill="#303030" fill-opacity="0.7"/><rect x="222.3" y="53.3" width="1.2" height="1.2" fill="#303030" fill-opacity="0.7"/><rect x="221.3" y="144.0" width="1.2" height="1.2" fill="#303030" fill-opacity="0.7"/><rect x="211.2" y="123.0" width="1.2" height="1.2" fill="#303030" fill-opacity="0.7"/><rect x="220.4" y="135.1" width="1.2" height="1.2" fill="#303030" fill-opacity="0.7"/><rect x="220.3" y="172.8" width="1.2" height="1.2" fill="#303030" fill-opacity="0.7"/><rect x="219.5" y="65.9" width="1.2" height="1.2" fill="#303030" fill-opacity="0.7"/><rect x="239.5" y="169.2" width="1.2" height="1.2" fill="#303030" fill-opacity="0.7"/><rect x="242.1" y="77.5" width="1.2" height="1.2" fill="#303030" fill-opacity="0.7"/><rect x="222.6" y="75.0" width="1.2" height="1.2" fill="#303030" fill-opacity="0.7"/><rect x="221.9" y="90.9" width="1.2" height="1.2" fill="#303030" fill-opacity="0.7"/><rect x="216.1" y="170.6" width="1.2" height="1.2" fill="#303030" fill-opacity="0.7"/><rect x="221.2" y="171.4" width="1.2" height="1.2" fill="#303030" fill-opacity="0.7"/><rect x="215.7" y="93.4" width="1.2" height="1.2" fill="#303030" fill-opacity="0.7"/><rect x="213.5" y="97.3" width="1.2" height="1.2" fill="#303030" fill-opacity="0.7"/><rect x="220.3" y="175.0" width="1.2" height="1.2" fill="#303030" fill-opacity="0.7"/><rect x="215.9" y="175.7" width="1.2" height="1.2" fill="#303030" fill-opacity="0.7"/><rect x="240.5" y="51.1" width="1.2" height="1.2" fill="#303030" fill-opacity="0.7"/><rect x="221.2" y="124.5" width="1.2" height="1.2" fill="#303030" fill-opacity="0.7"/><rect x="216.1" y="60.4" width="1.2" height="1.2" fill="#303030" fill-opacity="0.7"/><rect x="210.2" y="145.1" width="1.2" height="1.2" fill="#303030" fill-opacity="0.7"/><rect x="216.5" y="134.1" width="1.2" height="1.2" fill="#303030" fill-opacity="0.7"/><rect x="219.3" y="30.8" width="1.2" height="1.2" fill="#303030" fill-opacity="0.7"/><rect x="238.2" y="145.2" width="1.2" height="1.2" fill="#303030" fill-opacity="0.7"/><rect x="222.3" y="110.8" width="1.2" height="1.2" fill="#303030" fill-opacity="0.7"/><rect x="190.8" y="96.0" width="1.2" height="1.2" fill="#303030" fill-opacity="0.7"/><rect x="252.5" y="125.9" width="1.2" height="1.2" fill="#d2d2d2" fill-opacity="0.9"/><rect x="196.9" y="141.4" width="1.2" height="1.2" fill="#d2d2d2" fill-opacity="0.9"/><rect x="216.2" y="136.2" width="1.2" height="1.2" fill="#d2d2d2" fill-opacity="0.9"/><rect x="214.1" y="102.6" width="1.2" height="1.2" fill="#d2d2d2" fill-opacity="0.9"/><rect x="196.2" y="167.9" width="1.2" height="1.2" fill="#d2d2d2" fill-opacity="0.9"/><rect x="217.3" y="174.6" width="1.2" height="1.2" fill="#d2d2d2" fill-opacity="0.9"/><rect x="201.5" y="172.4" width="1.2" height="1.2" fill="#d2d2d2" fill-opacity="0.9"/><rect x="201.4" y="101.4" width="1.2" height="1.2" fill="#d2d2d2" fill-opacity="0.9"/><rect x="213.5" y="37.5" width="1.2" height="1.2" fill="#d2d2d2" fill-opacity="0.9"/><rect x="215.5" y="157.3" width="1.2" height="1.2" fill="#d2d2d2" fill-opacity="0.9"/><rect x="206.4" y="53.8" width="1.2" height="1.2" fill="#d2d2d2" fill-opacity="0.9"/><rect x="254.0" y="69.9" width="1.2" height="1.2" fill="#d2d2d2" fill-opacity="0.9"/><rect x="191.0" y="117.8" width="1.2" height="1.2" fill="#d2d2d2" fill-opacity="0.9"/><rect x="213.7" y="138.0" width="1.2" height="1.2" fill="#d2d2d2" fill-opacity="0.9"/><rect x="244.6" y="21.8" width="1.2" height="1.2" fill="#d2d2d2" fill-opacity="0.9"/><rect x="215.3" y="151.1" width="1.2" height="1.2" fill="#d2d2d2" fill-opacity="0.9"/><rect x="212.8" y="151.3" width="1.2" height="1.2" fill="#d2d2d2" fill-opacity="0.9"/><rect x="210.4" y="71.5" width="1.2" height="1.2" fill="#d2d2d2" fill-opacity="0.9"/><rect x="207.1" y="82.3" width="1.2" height="1.2" fill="#d2d2d2" fill-opacity="0.9"/><rect x="205.8" y="140.1" width="1.2" height="1.2" fill="#d2d2d2" fill-opacity="0.9"/><rect x="189.3" y="62.8" width="1.2" height="1.2" fill="#d2d2d2" fill-opacity="0.9"/><rect x="203.4" y="161.3" width="1.2" height="1.2" fill="#d2d2d2" fill-opacity="0.9"/><rect x="147.3" y="99.9" width="1.2" height="1.2" fill="#d2d2d2" fill-opacity="0.9"/><rect x="201.4" y="22.8" width="1.2" height="1.2" fill="#d2d2d2" fill-opacity="0.9"/><rect x="209.4" y="31.1" width="1.2" height="1.2" fill="#d2d2d2" fill-opacity="0.9"/><rect x="185.5" y="78.8" width="1.2" height="1.2" fill="#d2d2d2" fill-opacity="0.9"/><rect x="211.9" y="47.9" width="1.2" height="1.2" fill="#d2d2d2" fill-opacity="0.9"/><rect x="215.7" y="69.2" width="1.2" height="1.2" fill="#d2d2d2" fill-opacity="0.9"/><rect x="247.6" y="139.4" width="1.2" height="1.2" fill="#d2d2d2" fill-opacity="0.9"/><rect x="215.2" y="37.2" width="1.2" height="1.2" fill="#d2d2d2" fill-opacity="0.9"/><rect x="246.1" y="77.7" width="1.2" height="1.2" fill="#d2d2d2" fill-opacity="0.9"/><rect x="210.0" y="80.2" width="1.2" height="1.2" fill="#d2d2d2" fill-opacity="0.9"/><rect x="210.9" y="21.8" width="1.2" height="1.2" fill="#d2d2d2" fill-opacity="0.9"/><rect x="205.2" y="86.1" width="1.2" height="1.2" fill="#d2d2d2" fill-opacity="0.9"/><rect x="216.3" y="124.3" width="1.2" height="1.2" fill="#d2d2d2" fill-opacity="0.9"/><rect x="181.3" y="108.5" width="1.2" height="1.2" fill="#d2d2d2" fill-opacity="0.9"/><rect x="215.9" y="86.7" width="1.2" height="1.2" fill="#d2d2d2" fill-opacity="0.9"/><rect x="215.0" y="35.0" width="1.2" height="1.2" fill="#d2d2d2" fill-opacity="0.9"/><rect x="190.3" y="39.9" width="1.2" height="1.2" fill="#d2d2d2" fill-opacity="0.9"/><rect x="207.4" y="112.5" width="1.2" height="1.2" fill="#d2d2d2" fill-opacity="0.9"/><rect x="210.3" y="97.7" width="1.2" height="1.2" fill="#d2d2d2" fill-opacity="0.9"/><rect x="144.2" y="169.3" width="1.2" height="1.2" fill="#d2d2d2" fill-opacity="0.9"/><rect x="214.3" y="73.1" width="1.2" height="1.2" fill="#d2d2d2" fill-opacity="0.9"/><rect x="204.7" y="46.4" width="1.2" height="1.2" fill="#d2d2d2" fill-opacity="0.9"/><rect x="213.8" y="145.2" width="1.2" height="1.2" fill="#d2d2d2" fill-opacity="0.9"/><rect x="196.4" y="73.6" width="1.2" height="1.2" fill="#d2d2d2" fill-opacity="0.9"/><rect x="208.9" y="154.6" width="1.2" height="1.2" fill="#d2d2d2" fill-opacity="0.9"/><rect x="212.1" y="40.4" width="1.2" height="1.2" fill="#d2d2d2" fill-opacity="0.9"/><rect x="204.5" y="58.2" width="1.2" height="1.2" fill="#d2d2d2" fill-opacity="0.9"/><rect x="190.1" y="24.8" width="1.2" height="1.2" fill="#d2d2d2" fill-opacity="0.9"/><rect x="216.5" y="131.1" width="1.2" height="1.2" fill="#d2d2d2" fill-opacity="0.9"/><rect x="202.1" y="149.7" width="1.2" height="1.2" fill="#d2d2d2" fill-opacity="0.9"/><rect x="210.3" y="84.2" width="1.2" height="1.2" fill="#d2d2d2" fill-opacity="0.9"/><rect x="206.3" y="168.0" width="1.2" height="1.2" fill="#d2d2d2" fill-opacity="0.9"/><rect x="209.4" y="43.4" width="1.2" height="1.2" fill="#d2d2d2" fill-opacity="0.9"/><rect x="214.6" y="144.1" width="1.2" height="1.2" fill="#d2d2d2" fill-opacity="0.9"/><rect x="181.2" y="155.7" width="1.2" height="1.2" fill="#d2d2d2" fill-opacity="0.9"/><rect x="183.0" y="153.3" width="1.2" height="1.2" fill="#d2d2d2" fill-opacity="0.9"/><rect x="244.2" y="62.6" width="1.2" height="1.2" fill="#d2d2d2" fill-opacity="0.9"/><rect x="204.9" y="169.4" width="1.2" height="1.2" fill="#d2d2d2" fill-opacity="0.9"/><rect x="193.4" y="108.6" width="1.2" height="1.2" fill="#d2d2d2" fill-opacity="0.9"/><rect x="193.9" y="147.8" width="1.2" height="1.2" fill="#d2d2d2" fill-opacity="0.9"/><rect x="213.8" y="50.0" width="1.2" height="1.2" fill="#d2d2d2" fill-opacity="0.9"/><rect x="202.3" y="168.7" width="1.2" height="1.2" fill="#d2d2d2" fill-opacity="0.9"/><rect x="197.7" y="145.4" width="1.2" height="1.2" fill="#d2d2d2" fill-opacity="0.9"/><rect x="208.0" y="51.4" width="1.2" height="1.2" fill="#d2d2d2" fill-opacity="0.9"/><rect x="211.6" y="93.2" width="1.2" height="1.2" fill="#d2d2d2" fill-opacity="0.9"/><rect x="209.4" y="158.7" width="1.2" height="1.2" fill="#d2d2d2" fill-opacity="0.9"/><rect x="253.7" y="116.9" width="1.2" height="1.2" fill="#d2d2d2" fill-opacity="0.9"/><rect x="216.9" y="109.0" width="1.2" height="1.2" fill="#d2d2d2" fill-opacity="0.9"/><rect x="191.7" y="56.3" width="1.2" height="1.2" fill="#d2d2d2" fill-opacity="0.9"/><rect x="247.8" y="97.1" width="1.2" height="1.2" fill="#d2d2d2" fill-opacity="0.9"/><rect x="213.5" y="41.9" width="1.2" height="1.2" fill="#d2d2d2" fill-opacity="0.9"/><rect x="204.5" y="90.0" width="1.2" height="1.2" fill="#d2d2d2" fill-opacity="0.9"/><rect x="217.0" y="137.4" width="1.2" height="1.2" fill="#d2d2d2" fill-opacity="0.9"/><rect x="212.7" y="90.0" width="1.2" height="1.2" fill="#d2d2d2" fill-opacity="0.9"/><rect x="206.8" y="40.5" width="1.2" height="1.2" fill="#d2d2d2" fill-opacity="0.9"/><rect x="206.4" y="131.7" width="1.2" height="1.2" fill="#d2d2d2" fill-opacity="0.9"/><rect x="201.9" y="73.6" width="1.2" height="1.2" fill="#d2d2d2" fill-opacity="0.9"/><rect x="189.4" y="82.8" width="1.2" height="1.2" fill="#d2d2d2" fill-opacity="0.9"/><rect x="216.6" y="64.3" width="1.2" height="1.2" fill="#d2d2d2" fill-opacity="0.9"/><rect x="215.8" y="118.7" width="1.2" height="1.2" fill="#d2d2d2" fill-opacity="0.9"/><rect x="214.6" y="140.5" width="1.2" height="1.2" fill="#d2d2d2" fill-opacity="0.9"/><rect x="201.7" y="68.9" width="1.2" height="1.2" fill="#d2d2d2" fill-opacity="0.9"/><rect x="218.4" y="122.0" width="1.2" height="1.2" fill="#8cc870" fill-opacity="0.9"/><rect x="214.3" y="147.2" width="1.2" height="1.2" fill="#8cc870" fill-opacity="0.9"/><rect x="213.0" y="121.6" width="1.2" height="1.2" fill="#b8dca4" fill-opacity="0.9"/><rect x="219.2" y="146.5" width="1.2" height="1.2" fill="#8cc870" fill-opacity="0.9"/><rect x="217.1" y="101.3" width="1.2" height="1.2" fill="#8cc870" fill-opacity="0.9"/><rect x="221.8" y="159.2" width="1.2" height="1.2" fill="#8cc870" fill-opacity="0.9"/><rect x="195.9" y="68.3" width="1.2" height="1.2" fill="#b8dca4" fill-opacity="0.9"/><rect x="218.9" y="172.9" width="1.2" height="1.2" fill="#8cc870" fill-opacity="0.9"/><rect x="216.4" y="175.1" width="1.2" height="1.2" fill="#8cc870" fill-opacity="0.9"/><rect x="214.7" y="162.2" width="1.2" height="1.2" fill="#8cc870" fill-opacity="0.9"/><rect x="208.8" y="122.6" width="1.2" height="1.2" fill="#b8dca4" fill-opacity="0.9"/><rect x="214.1" y="161.9" width="1.2" height="1.2" fill="#8cc870" fill-opacity="0.9"/><rect x="214.4" y="104.3" width="1.2" height="1.2" fill="#8cc870" fill-opacity="0.9"/><rect x="214.0" y="173.2" width="1.2" height="1.2" fill="#8cc870" fill-opacity="0.9"/><rect x="222.0" y="175.5" width="1.2" height="1.2" fill="#8cc870" fill-opacity="0.9"/><rect x="195.3" y="160.7" width="1.2" height="1.2" fill="#b8dca4" fill-opacity="0.9"/><rect x="221.6" y="132.1" width="1.2" height="1.2" fill="#8cc870" fill-opacity="0.9"/><rect x="214.3" y="150.4" width="1.2" height="1.2" fill="#8cc870" fill-opacity="0.9"/><rect x="219.5" y="176.9" width="1.2" height="1.2" fill="#8cc870" fill-opacity="0.9"/><rect x="197.3" y="157.2" width="1.2" height="1.2" fill="#b8dca4" fill-opacity="0.9"/><rect x="221.4" y="165.4" width="1.2" height="1.2" fill="#8cc870" fill-opacity="0.9"/><rect x="218.1" y="100.6" width="1.2" height="1.2" fill="#8cc870" fill-opacity="0.9"/><rect x="221.3" y="125.4" width="1.2" height="1.2" fill="#8cc870" fill-opacity="0.9"/><rect x="221.0" y="168.8" width="1.2" height="1.2" fill="#8cc870" fill-opacity="0.9"/><rect x="212.6" y="92.5" width="1.2" height="1.2" fill="#b8dca4" fill-opacity="0.9"/><rect x="206.1" y="174.1" width="1.2" height="1.2" fill="#b8dca4" fill-opacity="0.9"/><rect x="205.0" y="128.4" width="1.2" height="1.2" fill="#b8dca4" fill-opacity="0.9"/><rect x="212.3" y="173.4" width="1.2" height="1.2" fill="#b8dca4" fill-opacity="0.9"/><rect x="217.9" y="127.8" width="1.2" height="1.2" fill="#8cc870" fill-opacity="0.9"/><rect x="221.9" y="175.5" width="1.2" height="1.2" fill="#8cc870" fill-opacity="0.9"/><rect x="214.2" y="153.8" width="1.2" height="1.2" fill="#8cc870" fill-opacity="0.9"/><rect x="209.9" y="146.0" width="1.2" height="1.2" fill="#b8dca4" fill-opacity="0.9"/><rect x="210.4" y="172.0" width="1.2" height="1.2" fill="#b8dca4" fill-opacity="0.9"/><rect x="216.6" y="142.2" width="1.2" height="1.2" fill="#8cc870" fill-opacity="0.9"/><rect x="211.6" y="166.8" width="1.2" height="1.2" fill="#b8dca4" fill-opacity="0.9"/><rect x="218.1" y="94.0" width="1.2" height="1.2" fill="#8cc870" fill-opacity="0.9"/><rect x="220.3" y="166.4" width="1.2" height="1.2" fill="#8cc870" fill-opacity="0.9"/><rect x="222.1" y="155.0" width="1.2" height="1.2" fill="#8cc870" fill-opacity="0.9"/><rect x="222.1" y="147.1" width="1.2" height="1.2" fill="#8cc870" fill-opacity="0.9"/><rect x="208.9" y="97.7" width="1.2" height="1.2" fill="#b8dca4" fill-opacity="0.9"/><rect x="216.6" y="172.8" width="1.2" height="1.2" fill="#8cc870" fill-opacity="0.9"/><rect x="221.2" y="151.3" width="1.2" height="1.2" fill="#8cc870" fill-opacity="0.9"/><rect x="216.3" y="161.5" width="1.2" height="1.2" fill="#8cc870" fill-opacity="0.9"/><rect x="219.1" y="172.2" width="1.2" height="1.2" fill="#8cc870" fill-opacity="0.9"/><rect x="200.5" y="160.4" width="1.2" height="1.2" fill="#b8dca4" fill-opacity="0.9"/><rect x="219.2" y="158.3" width="1.2" height="1.2" fill="#8cc870" fill-opacity="0.9"/><rect x="180.4" y="126.5" width="1.2" height="1.2" fill="#b8dca4" fill-opacity="0.9"/><rect x="207.7" y="127.0" width="1.2" height="1.2" fill="#b8dca4" fill-opacity="0.9"/><rect x="214.5" y="167.5" width="1.2" height="1.2" fill="#8cc870" fill-opacity="0.9"/><rect x="216.8" y="51.1" width="1.2" height="1.2" fill="#b8dca4" fill-opacity="0.9"/><rect x="210.7" y="174.6" width="1.2" height="1.2" fill="#b8dca4" fill-opacity="0.9"/><rect x="189.6" y="157.3" width="1.2" height="1.2" fill="#b8dca4" fill-opacity="0.9"/><rect x="220.9" y="169.4" width="1.2" height="1.2" fill="#8cc870" fill-opacity="0.9"/><rect x="220.2" y="158.1" width="1.2" height="1.2" fill="#8cc870" fill-opacity="0.9"/><rect x="216.4" y="154.4" width="1.2" height="1.2" fill="#8cc870" fill-opacity="0.9"/><rect x="212.1" y="151.2" width="1.2" height="1.2" fill="#b8dca4" fill-opacity="0.9"/><rect x="212.2" y="167.6" width="1.2" height="1.2" fill="#b8dca4" fill-opacity="0.9"/><rect x="219.3" y="174.1" width="1.2" height="1.2" fill="#8cc870" fill-opacity="0.9"/><rect x="204.2" y="91.9" width="1.2" height="1.2" fill="#b8dca4" fill-opacity="0.9"/><rect x="211.8" y="155.9" width="1.2" height="1.2" fill="#b8dca4" fill-opacity="0.9"/><rect x="218.9" y="164.5" width="1.2" height="1.2" fill="#8cc870" fill-opacity="0.9"/><rect x="213.3" y="126.6" width="1.2" height="1.2" fill="#b8dca4" fill-opacity="0.9"/><rect x="217.4" y="158.3" width="1.2" height="1.2" fill="#8cc870" fill-opacity="0.9"/><rect x="216.9" y="137.1" width="1.2" height="1.2" fill="#8cc870" fill-opacity="0.9"/><rect x="202.3" y="173.6" width="1.2" height="1.2" fill="#b8dca4" fill-opacity="0.9"/><rect x="197.7" y="173.7" width="1.2" height="1.2" fill="#b8dca4" fill-opacity="0.9"/><rect x="217.2" y="156.6" width="1.2" height="1.2" fill="#8cc870" fill-opacity="0.9"/><rect x="208.5" y="108.6" width="1.2" height="1.2" fill="#b8dca4" fill-opacity="0.9"/><rect x="213.0" y="86.1" width="1.2" height="1.2" fill="#b8dca4" fill-opacity="0.9"/><rect x="214.7" y="160.9" width="1.2" height="1.2" fill="#8cc870" fill-opacity="0.9"/><rect x="199.1" y="175.5" width="1.2" height="1.2" fill="#b8dca4" fill-opacity="0.9"/><rect x="211.9" y="169.8" width="1.2" height="1.2" fill="#b8dca4" fill-opacity="0.9"/><rect x="219.1" y="163.8" width="1.2" height="1.2" fill="#8cc870" fill-opacity="0.9"/><rect x="216.3" y="149.8" width="1.2" height="1.2" fill="#8cc870" fill-opacity="0.9"/><rect x="209.2" y="175.0" width="1.2" height="1.2" fill="#b8dca4" fill-opacity="0.9"/><rect x="217.7" y="177.1" width="1.2" height="1.2" fill="#8cc870" fill-opacity="0.9"/><rect x="211.6" y="168.0" width="1.2" height="1.2" fill="#b8dca4" fill-opacity="0.9"/><rect x="203.9" y="165.7" width="1.2" height="1.2" fill="#b8dca4" fill-opacity="0.9"/><rect x="216.3" y="127.0" width="1.2" height="1.2" fill="#8cc870" fill-opacity="0.9"/><rect x="214.8" y="176.7" width="1.2" height="1.2" fill="#8cc870" fill-opacity="0.9"/><rect x="214.1" y="156.6" width="1.2" height="1.2" fill="#8cc870" fill-opacity="0.9"/><rect x="210.8" y="124.9" width="1.2" height="1.2" fill="#b8dca4" fill-opacity="0.9"/><rect x="221.0" y="49.3" width="1.2" height="1.2" fill="#b8dca4" fill-opacity="0.9"/><rect x="216.9" y="174.7" width="1.2" height="1.2" fill="#8cc870" fill-opacity="0.9"/><rect x="212.0" y="171.7" width="1.2" height="1.2" fill="#b8dca4" fill-opacity="0.9"/><rect x="219.6" y="137.0" width="1.2" height="1.2" fill="#8cc870" fill-opacity="0.9"/><rect x="220.0" y="148.9" width="1.2" height="1.2" fill="#8cc870" fill-opacity="0.9"/><rect x="210.9" y="164.6" width="1.2" height="1.2" fill="#b8dca4" fill-opacity="0.9"/><rect x="218.1" y="176.3" width="1.2" height="1.2" fill="#8cc870" fill-opacity="0.9"/><rect x="195.4" y="170.3" width="1.2" height="1.2" fill="#b8dca4" fill-opacity="0.9"/><rect x="220.9" y="175.9" width="1.2" height="1.2" fill="#8cc870" fill-opacity="0.9"/><rect x="220.3" y="165.1" width="1.2" height="1.2" fill="#8cc870" fill-opacity="0.9"/><rect x="208.5" y="152.3" width="1.2" height="1.2" fill="#b8dca4" fill-opacity="0.9"/><rect x="216.6" y="164.2" width="1.2" height="1.2" fill="#8cc870" fill-opacity="0.9"/><rect x="182.1" y="86.5" width="1.2" height="1.2" fill="#b8dca4" fill-opacity="0.9"/><rect x="209.9" y="136.3" width="1.2" height="1.2" fill="#b8dca4" fill-opacity="0.9"/><rect x="211.0" y="168.3" width="1.2" height="1.2" fill="#b8dca4" fill-opacity="0.9"/><rect x="213.2" y="120.7" width="1.2" height="1.2" fill="#b8dca4" fill-opacity="0.9"/><rect x="211.3" y="142.6" width="1.2" height="1.2" fill="#b8dca4" fill-opacity="0.9"/><rect x="217.9" y="149.8" width="1.2" height="1.2" fill="#8cc870" fill-opacity="0.9"/><rect x="187.5" y="118.5" width="1.2" height="1.2" fill="#b8dca4" fill-opacity="0.9"/><rect x="216.7" y="170.6" width="1.2" height="1.2" fill="#8cc870" fill-opacity="0.9"/><rect x="186.5" y="123.8" width="1.2" height="1.2" fill="#b8dca4" fill-opacity="0.9"/><rect x="204.1" y="142.9" width="1.2" height="1.2" fill="#b8dca4" fill-opacity="0.9"/><rect x="220.1" y="156.3" width="1.2" height="1.2" fill="#8cc870" fill-opacity="0.9"/><rect x="213.3" y="155.9" width="1.2" height="1.2" fill="#b8dca4" fill-opacity="0.9"/><rect x="204.7" y="117.1" width="1.2" height="1.2" fill="#b8dca4" fill-opacity="0.9"/><rect x="219.9" y="163.1" width="1.2" height="1.2" fill="#8cc870" fill-opacity="0.9"/><rect x="209.4" y="125.3" width="1.2" height="1.2" fill="#b8dca4" fill-opacity="0.9"/><rect x="214.7" y="96.8" width="1.2" height="1.2" fill="#8cc870" fill-opacity="0.9"/><rect x="194.3" y="170.4" width="1.2" height="1.2" fill="#b8dca4" fill-opacity="0.9"/><rect x="215.6" y="141.9" width="1.2" height="1.2" fill="#8cc870" fill-opacity="0.9"/><rect x="219.8" y="131.8" width="1.2" height="1.2" fill="#8cc870" fill-opacity="0.9"/><rect x="213.1" y="165.4" width="1.2" height="1.2" fill="#b8dca4" fill-opacity="0.9"/><rect x="209.1" y="147.7" width="1.2" height="1.2" fill="#b8dca4" fill-opacity="0.9"/><rect x="221.4" y="112.5" width="1.2" height="1.2" fill="#8cc870" fill-opacity="0.9"/><rect x="213.9" y="120.8" width="1.2" height="1.2" fill="#8cc870" fill-opacity="0.9"/><rect x="218.4" y="132.1" width="1.2" height="1.2" fill="#8cc870" fill-opacity="0.9"/><rect x="214.9" y="170.2" width="1.2" height="1.2" fill="#8cc870" fill-opacity="0.9"/><rect x="200.5" y="111.3" width="1.2" height="1.2" fill="#b8dca4" fill-opacity="0.9"/><rect x="214.6" y="164.5" width="1.2" height="1.2" fill="#8cc870" fill-opacity="0.9"/><rect x="220.3" y="153.5" width="1.2" height="1.2" fill="#8cc870" fill-opacity="0.9"/><rect x="208.7" y="165.0" width="1.2" height="1.2" fill="#b8dca4" fill-opacity="0.9"/><rect x="221.9" y="145.0" width="1.2" height="1.2" fill="#8cc870" fill-opacity="0.9"/><rect x="196.5" y="132.2" width="1.2" height="1.2" fill="#b8dca4" fill-opacity="0.9"/><rect x="213.5" y="170.8" width="1.2" height="1.2" fill="#8cc870" fill-opacity="0.9"/><rect x="214.0" y="151.3" width="1.2" height="1.2" fill="#8cc870" fill-opacity="0.9"/><rect x="212.5" y="123.9" width="1.2" height="1.2" fill="#b8dca4" fill-opacity="0.9"/><rect x="216.8" y="107.8" width="1.2" height="1.2" fill="#8cc870" fill-opacity="0.9"/><rect x="206.5" y="170.6" width="1.2" height="1.2" fill="#b8dca4" fill-opacity="0.9"/><rect x="221.1" y="164.5" width="1.2" height="1.2" fill="#8cc870" fill-opacity="0.9"/><rect x="214.6" y="169.0" width="1.2" height="1.2" fill="#8cc870" fill-opacity="0.9"/><rect x="221.2" y="174.6" width="1.2" height="1.2" fill="#8cc870" fill-opacity="0.9"/><rect x="214.3" y="138.7" width="1.2" height="1.2" fill="#8cc870" fill-opacity="0.9"/><rect x="219.4" y="175.0" width="1.2" height="1.2" fill="#8cc870" fill-opacity="0.9"/><rect x="218.0" y="165.2" width="1.2" height="1.2" fill="#8cc870" fill-opacity="0.9"/><rect x="207.9" y="67.4" width="1.2" height="1.2" fill="#b8dca4" fill-opacity="0.9"/><rect x="219.7" y="105.2" width="1.2" height="1.2" fill="#8cc870" fill-opacity="0.9"/><rect x="184.7" y="172.7" width="1.2" height="1.2" fill="#b8dca4" fill-opacity="0.9"/><rect x="213.3" y="165.2" width="1.2" height="1.2" fill="#b8dca4" fill-opacity="0.9"/><rect x="222.0" y="168.1" width="1.2" height="1.2" fill="#8cc870" fill-opacity="0.9"/><rect x="216.1" y="176.8" width="1.2" height="1.2" fill="#8cc870" fill-opacity="0.9"/><rect x="219.4" y="99.2" width="1.2" height="1.2" fill="#8cc870" fill-opacity="0.9"/><rect x="221.6" y="98.9" width="1.2" height="1.2" fill="#8cc870" fill-opacity="0.9"/><rect x="220.8" y="149.6" width="1.2" height="1.2" fill="#8cc870" fill-opacity="0.9"/><rect x="216.0" y="169.2" width="1.2" height="1.2" fill="#8cc870" fill-opacity="0.9"/><rect x="219.6" y="176.5" width="1.2" height="1.2" fill="#8cc870" fill-opacity="0.9"/><rect x="218.3" y="83.9" width="1.2" height="1.2" fill="#b8dca4" fill-opacity="0.9"/><rect x="217.5" y="129.5" width="1.2" height="1.2" fill="#8cc870" fill-opacity="0.9"/><rect x="217.4" y="163.8" width="1.2" height="1.2" fill="#8cc870" fill-opacity="0.9"/><rect x="216.0" y="41.8" width="1.2" height="1.2" fill="#b8dca4" fill-opacity="0.9"/><rect x="217.9" y="161.9" width="1.2" height="1.2" fill="#8cc870" fill-opacity="0.9"/><rect x="209.0" y="136.8" width="1.2" height="1.2" fill="#b8dca4" fill-opacity="0.9"/><rect x="216.6" y="171.5" width="1.2" height="1.2" fill="#8cc870" fill-opacity="0.9"/><rect x="218.3" y="91.2" width="1.2" height="1.2" fill="#8cc870" fill-opacity="0.9"/><rect x="208.0" y="120.2" width="1.2" height="1.2" fill="#b8dca4" fill-opacity="0.9"/><rect x="221.9" y="140.3" width="1.2" height="1.2" fill="#8cc870" fill-opacity="0.9"/><rect x="217.2" y="166.9" width="1.2" height="1.2" fill="#8cc870" fill-opacity="0.9"/><rect x="214.3" y="162.8" width="1.2" height="1.2" fill="#8cc870" fill-opacity="0.9"/><rect x="211.8" y="146.5" width="1.2" height="1.2" fill="#b8dca4" fill-opacity="0.9"/><rect x="218.4" y="162.7" width="1.2" height="1.2" fill="#8cc870" fill-opacity="0.9"/><rect x="218.8" y="153.7" width="1.2" height="1.2" fill="#8cc870" fill-opacity="0.9"/><rect x="212.5" y="153.2" width="1.2" height="1.2" fill="#b8dca4" fill-opacity="0.9"/><rect x="217.0" y="131.8" width="1.2" height="1.2" fill="#8cc870" fill-opacity="0.9"/><rect x="219.3" y="174.0" width="1.2" height="1.2" fill="#8cc870" fill-opacity="0.9"/><rect x="204.6" y="177.5" width="1.2" height="1.2" fill="#b8dca4" fill-opacity="0.9"/><rect x="220.3" y="150.9" width="1.2" height="1.2" fill="#8cc870" fill-opacity="0.9"/><rect x="204.4" y="172.7" width="1.2" height="1.2" fill="#b8dca4" fill-opacity="0.9"/><rect x="220.1" y="108.5" width="1.2" height="1.2" fill="#8cc870" fill-opacity="0.9"/><rect x="221.7" y="108.2" width="1.2" height="1.2" fill="#8cc870" fill-opacity="0.9"/><rect x="209.1" y="151.2" width="1.2" height="1.2" fill="#b8dca4" fill-opacity="0.9"/><rect x="217.8" y="125.9" width="1.2" height="1.2" fill="#8cc870" fill-opacity="0.9"/><rect x="215.3" y="144.9" width="1.2" height="1.2" fill="#8cc870" fill-opacity="0.9"/><rect x="210.1" y="138.1" width="1.2" height="1.2" fill="#b8dca4" fill-opacity="0.9"/><rect x="209.4" y="171.3" width="1.2" height="1.2" fill="#b8dca4" fill-opacity="0.9"/><rect x="215.4" y="172.7" width="1.2" height="1.2" fill="#8cc870" fill-opacity="0.9"/><rect x="215.7" y="172.0" width="1.2" height="1.2" fill="#8cc870" fill-opacity="0.9"/><rect x="208.0" y="158.8" width="1.2" height="1.2" fill="#b8dca4" fill-opacity="0.9"/><rect x="213.2" y="112.9" width="1.2" height="1.2" fill="#b8dca4" fill-opacity="0.9"/><rect x="218.5" y="153.3" width="1.2" height="1.2" fill="#8cc870" fill-opacity="0.9"/><rect x="220.9" y="175.7" width="1.2" height="1.2" fill="#8cc870" fill-opacity="0.9"/><rect x="219.1" y="125.9" width="1.2" height="1.2" fill="#8cc870" fill-opacity="0.9"/><rect x="220.7" y="76.6" width="1.2" height="1.2" fill="#b8dca4" fill-opacity="0.9"/><rect x="204.8" y="175.3" width="1.2" height="1.2" fill="#b8dca4" fill-opacity="0.9"/><rect x="214.3" y="123.3" width="1.2" height="1.2" fill="#8cc870" fill-opacity="0.9"/><rect x="218.7" y="176.1" width="1.2" height="1.2" fill="#8cc870" fill-opacity="0.9"/><rect x="213.3" y="116.9" width="1.2" height="1.2" fill="#b8dca4" fill-opacity="0.9"/><rect x="212.5" y="67.8" width="1.2" height="1.2" fill="#b8dca4" fill-opacity="0.9"/><rect x="221.6" y="141.4" width="1.2" height="1.2" fill="#8cc870" fill-opacity="0.9"/><rect x="216.9" y="168.5" width="1.2" height="1.2" fill="#8cc870" fill-opacity="0.9"/><rect x="202.3" y="97.8" width="1.2" height="1.2" fill="#b8dca4" fill-opacity="0.9"/><rect x="216.3" y="157.9" width="1.2" height="1.2" fill="#8cc870" fill-opacity="0.9"/><rect x="202.4" y="161.0" width="1.2" height="1.2" fill="#b8dca4" fill-opacity="0.9"/><rect x="221.3" y="140.5" width="1.2" height="1.2" fill="#8cc870" fill-opacity="0.9"/><rect x="218.9" y="144.0" width="1.2" height="1.2" fill="#8cc870" fill-opacity="0.9"/><rect x="207.6" y="152.8" width="1.2" height="1.2" fill="#b8dca4" fill-opacity="0.9"/><rect x="218.7" y="131.2" width="1.2" height="1.2" fill="#8cc870" fill-opacity="0.9"/><rect x="217.4" y="126.7" width="1.2" height="1.2" fill="#8cc870" fill-opacity="0.9"/><rect x="202.8" y="150.3" width="1.2" height="1.2" fill="#b8dca4" fill-opacity="0.9"/><rect x="211.9" y="172.1" width="1.2" height="1.2" fill="#b8dca4" fill-opacity="0.9"/><rect x="217.7" y="174.4" width="1.2" height="1.2" fill="#8cc870" fill-opacity="0.9"/><rect x="217.2" y="156.1" width="1.2" height="1.2" fill="#8cc870" fill-opacity="0.9"/><rect x="207.6" y="160.5" width="1.2" height="1.2" fill="#b8dca4" fill-opacity="0.9"/><rect x="204.7" y="83.3" width="1.2" height="1.2" fill="#b8dca4" fill-opacity="0.9"/><rect x="218.8" y="165.1" width="1.2" height="1.2" fill="#8cc870" fill-opacity="0.9"/><rect x="214.3" y="161.1" width="1.2" height="1.2" fill="#8cc870" fill-opacity="0.9"/><rect x="215.4" y="110.9" width="1.2" height="1.2" fill="#8cc870" fill-opacity="0.9"/><rect x="221.6" y="136.9" width="1.2" height="1.2" fill="#8cc870" fill-opacity="0.9"/><rect x="216.6" y="166.7" width="1.2" height="1.2" fill="#8cc870" fill-opacity="0.9"/><rect x="208.7" y="94.4" width="1.2" height="1.2" fill="#b8dca4" fill-opacity="0.9"/><rect x="220.8" y="132.3" width="1.2" height="1.2" fill="#8cc870" fill-opacity="0.9"/><rect x="222.1" y="176.8" width="1.2" height="1.2" fill="#8cc870" fill-opacity="0.9"/><rect x="217.4" y="130.5" width="1.2" height="1.2" fill="#8cc870" fill-opacity="0.9"/><rect x="216.5" y="90.8" width="1.2" height="1.2" fill="#8cc870" fill-opacity="0.9"/><rect x="221.7" y="169.7" width="1.2" height="1.2" fill="#8cc870" fill-opacity="0.9"/><rect x="216.3" y="155.8" width="1.2" height="1.2" fill="#8cc870" fill-opacity="0.9"/><rect x="213.4" y="137.4" width="1.2" height="1.2" fill="#b8dca4" fill-opacity="0.9"/><rect x="214.2" y="89.5" width="1.2" height="1.2" fill="#8cc870" fill-opacity="0.9"/><rect x="217.6" y="165.2" width="1.2" height="1.2" fill="#8cc870" fill-opacity="0.9"/><rect x="206.4" y="171.6" width="1.2" height="1.2" fill="#b8dca4" fill-opacity="0.9"/><rect x="213.4" y="174.0" width="1.2" height="1.2" fill="#b8dca4" fill-opacity="0.9"/><rect x="220.9" y="176.6" width="1.2" height="1.2" fill="#8cc870" fill-opacity="0.9"/><rect x="207.8" y="159.2" width="1.2" height="1.2" fill="#b8dca4" fill-opacity="0.9"/><rect x="207.9" y="172.5" width="1.2" height="1.2" fill="#b8dca4" fill-opacity="0.9"/><rect x="219.6" y="138.6" width="1.2" height="1.2" fill="#8cc870" fill-opacity="0.9"/><rect x="221.7" y="156.1" width="1.2" height="1.2" fill="#8cc870" fill-opacity="0.9"/><rect x="215.8" y="141.3" width="1.2" height="1.2" fill="#8cc870" fill-opacity="0.9"/><rect x="217.9" y="72.6" width="1.2" height="1.2" fill="#b8dca4" fill-opacity="0.9"/><rect x="203.9" y="169.1" width="1.2" height="1.2" fill="#b8dca4" fill-opacity="0.9"/><rect x="216.8" y="172.5" width="1.2" height="1.2" fill="#8cc870" fill-opacity="0.9"/><rect x="209.6" y="142.6" width="1.2" height="1.2" fill="#b8dca4" fill-opacity="0.9"/><rect x="203.9" y="132.3" width="1.2" height="1.2" fill="#b8dca4" fill-opacity="0.9"/><rect x="204.0" y="161.9" width="1.2" height="1.2" fill="#b8dca4" fill-opacity="0.9"/><rect x="220.3" y="109.5" width="1.2" height="1.2" fill="#8cc870" fill-opacity="0.9"/><rect x="191.2" y="146.1" width="1.2" height="1.2" fill="#b8dca4" fill-opacity="0.9"/><rect x="208.1" y="137.6" width="1.2" height="1.2" fill="#b8dca4" fill-opacity="0.9"/><rect x="203.4" y="176.5" width="1.2" height="1.2" fill="#b8dca4" fill-opacity="0.9"/><rect x="221.5" y="173.6" width="1.2" height="1.2" fill="#8cc870" fill-opacity="0.9"/><rect x="220.0" y="171.4" width="1.2" height="1.2" fill="#8cc870" fill-opacity="0.9"/><rect x="218.7" y="158.7" width="1.2" height="1.2" fill="#8cc870" fill-opacity="0.9"/><rect x="214.8" y="128.4" width="1.2" height="1.2" fill="#8cc870" fill-opacity="0.9"/><rect x="198.3" y="135.4" width="1.2" height="1.2" fill="#b8dca4" fill-opacity="0.9"/><rect x="216.3" y="57.2" width="1.2" height="1.2" fill="#b8dca4" fill-opacity="0.9"/><rect x="212.4" y="114.6" width="1.2" height="1.2" fill="#b8dca4" fill-opacity="0.9"/><rect x="220.4" y="152.7" width="1.2" height="1.2" fill="#8cc870" fill-opacity="0.9"/><rect x="205.0" y="169.6" width="1.2" height="1.2" fill="#b8dca4" fill-opacity="0.9"/><rect x="220.9" y="27.7" width="1.2" height="1.2" fill="#b8dca4" fill-opacity="0.9"/><rect x="208.8" y="97.1" width="1.2" height="1.2" fill="#b8dca4" fill-opacity="0.9"/><rect x="211.9" y="177.1" width="1.2" height="1.2" fill="#b8dca4" fill-opacity="0.9"/><rect x="220.8" y="177.3" width="1.2" height="1.2" fill="#8cc870" fill-opacity="0.9"/><rect x="220.6" y="140.9" width="1.2" height="1.2" fill="#8cc870" fill-opacity="0.9"/><rect x="220.4" y="135.2" width="1.2" height="1.2" fill="#8cc870" fill-opacity="0.9"/><rect x="219.0" y="116.0" width="1.2" height="1.2" fill="#8cc870" fill-opacity="0.9"/><rect x="218.9" y="172.9" width="1.2" height="1.2" fill="#8cc870" fill-opacity="0.9"/><rect x="210.8" y="156.5" width="1.2" height="1.2" fill="#b8dca4" fill-opacity="0.9"/><rect x="214.8" y="99.0" width="1.2" height="1.2" fill="#8cc870" fill-opacity="0.9"/><rect x="221.2" y="175.4" width="1.2" height="1.2" fill="#8cc870" fill-opacity="0.9"/><rect x="212.8" y="172.4" width="1.2" height="1.2" fill="#b8dca4" fill-opacity="0.9"/><rect x="210.0" y="65.8" width="1.2" height="1.2" fill="#b8dca4" fill-opacity="0.9"/><rect x="216.7" y="128.2" width="1.2" height="1.2" fill="#8cc870" fill-opacity="0.9"/><rect x="205.1" y="167.4" width="1.2" height="1.2" fill="#b8dca4" fill-opacity="0.9"/><rect x="213.5" y="172.6" width="1.2" height="1.2" fill="#b8dca4" fill-opacity="0.9"/><rect x="217.3" y="160.9" width="1.2" height="1.2" fill="#8cc870" fill-opacity="0.9"/><rect x="214.2" y="139.4" width="1.2" height="1.2" fill="#8cc870" fill-opacity="0.9"/><rect x="218.3" y="71.1" width="1.2" height="1.2" fill="#b8dca4" fill-opacity="0.9"/><rect x="220.5" y="135.5" width="1.2" height="1.2" fill="#8cc870" fill-opacity="0.9"/><rect x="221.9" y="173.3" width="1.2" height="1.2" fill="#8cc870" fill-opacity="0.9"/><rect x="218.9" y="117.3" width="1.2" height="1.2" fill="#8cc870" fill-opacity="0.9"/><rect x="214.2" y="151.7" width="1.2" height="1.2" fill="#8cc870" fill-opacity="0.9"/><rect x="214.9" y="147.8" width="1.2" height="1.2" fill="#8cc870" fill-opacity="0.9"/><rect x="221.8" y="168.4" width="1.2" height="1.2" fill="#8cc870" fill-opacity="0.9"/><rect x="213.9" y="168.8" width="1.2" height="1.2" fill="#8cc870" fill-opacity="0.9"/><rect x="221.6" y="173.8" width="1.2" height="1.2" fill="#8cc870" fill-opacity="0.9"/><rect x="210.3" y="127.7" width="1.2" height="1.2" fill="#b8dca4" fill-opacity="0.9"/><rect x="220.4" y="104.6" width="1.2" height="1.2" fill="#8cc870" fill-opacity="0.9"/><rect x="213.3" y="119.3" width="1.2" height="1.2" fill="#b8dca4" fill-opacity="0.9"/><rect x="217.6" y="79.0" width="1.2" height="1.2" fill="#b8dca4" fill-opacity="0.9"/><rect x="219.0" y="106.4" width="1.2" height="1.2" fill="#8cc870" fill-opacity="0.9"/><rect x="209.4" y="104.6" width="1.2" height="1.2" fill="#b8dca4" fill-opacity="0.9"/><rect x="213.0" y="19.6" width="1.2" height="1.2" fill="#b8dca4" fill-opacity="0.9"/><rect x="184.3" y="71.7" width="1.2" height="1.2" fill="#b8dca4" fill-opacity="0.9"/><rect x="216.1" y="174.6" width="1.2" height="1.2" fill="#8cc870" fill-opacity="0.9"/><rect x="217.8" y="36.3" width="1.2" height="1.2" fill="#b8dca4" fill-opacity="0.9"/><rect x="220.1" y="95.6" width="1.2" height="1.2" fill="#8cc870" fill-opacity="0.9"/><rect x="215.2" y="20.1" width="1.2" height="1.2" fill="#b8dca4" fill-opacity="0.9"/><rect x="187.2" y="157.2" width="1.2" height="1.2" fill="#b8dca4" fill-opacity="0.9"/><rect x="219.0" y="20.7" width="1.2" height="1.2" fill="#b8dca4" fill-opacity="0.9"/><rect x="220.9" y="70.4" width="1.2" height="1.2" fill="#b8dca4" fill-opacity="0.9"/><rect x="221.6" y="76.0" width="1.2" height="1.2" fill="#b8dca4" fill-opacity="0.9"/><rect x="215.2" y="96.2" width="1.2" height="1.2" fill="#8cc870" fill-opacity="0.9"/><rect x="207.3" y="19.5" width="1.2" height="1.2" fill="#b8dca4" fill-opacity="0.9"/><rect x="220.3" y="40.8" width="1.2" height="1.2" fill="#b8dca4" fill-opacity="0.9"/><rect x="216.8" y="91.9" width="1.2" height="1.2" fill="#8cc870" fill-opacity="0.9"/><rect x="216.8" y="116.2" width="1.2" height="1.2" fill="#8cc870" fill-opacity="0.9"/><rect x="218.6" y="114.0" width="1.2" height="1.2" fill="#8cc870" fill-opacity="0.9"/><rect x="215.8" y="99.4" width="1.2" height="1.2" fill="#8cc870" fill-opacity="0.9"/><rect x="216.2" y="148.1" width="1.2" height="1.2" fill="#8cc870" fill-opacity="0.9"/><rect x="206.5" y="139.3" width="1.2" height="1.2" fill="#b8dca4" fill-opacity="0.9"/><rect x="180.6" y="69.4" width="1.2" height="1.2" fill="#b8dca4" fill-opacity="0.9"/><rect x="218.4" y="51.5" width="1.2" height="1.2" fill="#b8dca4" fill-opacity="0.9"/><rect x="209.7" y="29.4" width="1.2" height="1.2" fill="#b8dca4" fill-opacity="0.9"/><rect x="221.9" y="151.6" width="1.2" height="1.2" fill="#8cc870" fill-opacity="0.9"/><rect x="220.6" y="127.0" width="1.2" height="1.2" fill="#8cc870" fill-opacity="0.9"/><rect x="217.5" y="147.3" width="1.2" height="1.2" fill="#8cc870" fill-opacity="0.9"/><rect x="216.8" y="75.2" width="1.2" height="1.2" fill="#b8dca4" fill-opacity="0.9"/><rect x="219.5" y="128.2" width="1.2" height="1.2" fill="#8cc870" fill-opacity="0.9"/><rect x="194.1" y="125.2" width="1.2" height="1.2" fill="#b8dca4" fill-opacity="0.9"/><rect x="219.3" y="166.5" width="1.2" height="1.2" fill="#8cc870" fill-opacity="0.9"/><rect x="221.5" y="51.2" width="1.2" height="1.2" fill="#b8dca4" fill-opacity="0.9"/><rect x="215.0" y="25.2" width="1.2" height="1.2" fill="#b8dca4" fill-opacity="0.9"/><rect x="213.7" y="155.2" width="1.2" height="1.2" fill="#8cc870" fill-opacity="0.9"/><rect x="219.7" y="97.4" width="1.2" height="1.2" fill="#8cc870" fill-opacity="0.9"/><rect x="210.8" y="49.2" width="1.2" height="1.2" fill="#b8dca4" fill-opacity="0.9"/><rect x="215.0" y="35.5" width="1.2" height="1.2" fill="#b8dca4" fill-opacity="0.9"/><rect x="198.6" y="120.1" width="1.2" height="1.2" fill="#b8dca4" fill-opacity="0.9"/><rect x="202.7" y="167.7" width="1.2" height="1.2" fill="#b8dca4" fill-opacity="0.9"/><rect x="196.2" y="52.3" width="1.2" height="1.2" fill="#b8dca4" fill-opacity="0.9"/><rect x="213.2" y="61.6" width="1.2" height="1.2" fill="#b8dca4" fill-opacity="0.9"/><rect x="219.7" y="112.8" width="1.2" height="1.2" fill="#8cc870" fill-opacity="0.9"/><rect x="206.2" y="16.9" width="1.2" height="1.2" fill="#b8dca4" fill-opacity="0.9"/><rect x="215.9" y="60.5" width="1.2" height="1.2" fill="#b8dca4" fill-opacity="0.9"/><rect x="204.0" y="84.3" width="1.2" height="1.2" fill="#b8dca4" fill-opacity="0.9"/><rect x="188.6" y="81.1" width="1.2" height="1.2" fill="#b8dca4" fill-opacity="0.9"/><rect x="213.4" y="164.4" width="1.2" height="1.2" fill="#b8dca4" fill-opacity="0.9"/><rect x="210.8" y="20.7" width="1.2" height="1.2" fill="#b8dca4" fill-opacity="0.9"/><rect x="218.6" y="150.6" width="1.2" height="1.2" fill="#8cc870" fill-opacity="0.9"/><rect x="221.4" y="51.9" width="1.2" height="1.2" fill="#b8dca4" fill-opacity="0.9"/><rect x="217.5" y="82.8" width="1.2" height="1.2" fill="#b8dca4" fill-opacity="0.9"/><rect x="212.0" y="113.1" width="1.2" height="1.2" fill="#b8dca4" fill-opacity="0.9"/><rect x="220.3" y="81.0" width="1.2" height="1.2" fill="#b8dca4" fill-opacity="0.9"/><rect x="207.7" y="157.7" width="1.2" height="1.2" fill="#b8dca4" fill-opacity="0.9"/><rect x="219.3" y="120.3" width="1.2" height="1.2" fill="#8cc870" fill-opacity="0.9"/><rect x="212.8" y="123.0" width="1.2" height="1.2" fill="#b8dca4" fill-opacity="0.9"/><rect x="202.7" y="66.2" width="1.2" height="1.2" fill="#b8dca4" fill-opacity="0.9"/><rect x="209.3" y="91.3" width="1.2" height="1.2" fill="#b8dca4" fill-opacity="0.9"/><rect x="213.4" y="173.2" width="1.2" height="1.2" fill="#b8dca4" fill-opacity="0.9"/><rect x="201.6" y="130.4" width="1.2" height="1.2" fill="#b8dca4" fill-opacity="0.9"/><rect x="208.6" y="114.8" width="1.2" height="1.2" fill="#b8dca4" fill-opacity="0.9"/><rect x="216.6" y="118.2" width="1.2" height="1.2" fill="#8cc870" fill-opacity="0.9"/><rect x="180.4" y="49.0" width="1.2" height="1.2" fill="#b8dca4" fill-opacity="0.9"/><rect x="213.9" y="42.1" width="1.2" height="1.2" fill="#b8dca4" fill-opacity="0.9"/><rect x="221.0" y="22.0" width="1.2" height="1.2" fill="#b8dca4" fill-opacity="0.9"/><rect x="218.1" y="23.8" width="1.2" height="1.2" fill="#b8dca4" fill-opacity="0.9"/><rect x="217.1" y="97.7" width="1.2" height="1.2" fill="#8cc870" fill-opacity="0.9"/><rect x="203.2" y="86.2" width="1.2" height="1.2" fill="#b8dca4" fill-opacity="0.9"/><rect x="221.9" y="79.0" width="1.2" height="1.2" fill="#b8dca4" fill-opacity="0.9"/><rect x="181.5" y="94.6" width="1.2" height="1.2" fill="#b8dca4" fill-opacity="0.9"/><rect x="197.9" y="171.3" width="1.2" height="1.2" fill="#b8dca4" fill-opacity="0.9"/><rect x="216.5" y="159.4" width="1.2" height="1.2" fill="#8cc870" fill-opacity="0.9"/><rect x="205.6" y="47.4" width="1.2" height="1.2" fill="#b8dca4" fill-opacity="0.9"/><rect x="214.5" y="54.5" width="1.2" height="1.2" fill="#b8dca4" fill-opacity="0.9"/><rect x="216.1" y="126.7" width="1.2" height="1.2" fill="#8cc870" fill-opacity="0.9"/><rect x="216.9" y="145.2" width="1.2" height="1.2" fill="#8cc870" fill-opacity="0.9"/><rect x="210.3" y="84.6" width="1.2" height="1.2" fill="#b8dca4" fill-opacity="0.9"/><rect x="204.7" y="39.0" width="1.2" height="1.2" fill="#b8dca4" fill-opacity="0.9"/><rect x="212.6" y="168.5" width="1.2" height="1.2" fill="#b8dca4" fill-opacity="0.9"/><rect x="212.8" y="71.0" width="1.2" height="1.2" fill="#b8dca4" fill-opacity="0.9"/><rect x="206.1" y="140.7" width="1.2" height="1.2" fill="#b8dca4" fill-opacity="0.9"/><rect x="217.9" y="135.7" width="1.2" height="1.2" fill="#8cc870" fill-opacity="0.9"/><rect x="214.8" y="105.4" width="1.2" height="1.2" fill="#8cc870" fill-opacity="0.9"/><rect x="207.2" y="150.7" width="1.2" height="1.2" fill="#b8dca4" fill-opacity="0.9"/><rect x="211.6" y="55.8" width="1.2" height="1.2" fill="#b8dca4" fill-opacity="0.9"/><rect x="221.3" y="161.8" width="1.2" height="1.2" fill="#8cc870" fill-opacity="0.9"/><rect x="186.4" y="96.6" width="1.2" height="1.2" fill="#b8dca4" fill-opacity="0.9"/><rect x="221.3" y="68.3" width="1.2" height="1.2" fill="#b8dca4" fill-opacity="0.9"/><rect x="213.5" y="41.9" width="1.2" height="1.2" fill="#b8dca4" fill-opacity="0.9"/><rect x="214.4" y="87.1" width="1.2" height="1.2" fill="#8cc870" fill-opacity="0.9"/><rect x="220.4" y="156.3" width="1.2" height="1.2" fill="#8cc870" fill-opacity="0.9"/><rect x="201.1" y="45.4" width="1.2" height="1.2" fill="#b8dca4" fill-opacity="0.9"/><rect x="212.7" y="24.1" width="1.2" height="1.2" fill="#b8dca4" fill-opacity="0.9"/><rect x="221.6" y="172.6" width="1.2" height="1.2" fill="#8cc870" fill-opacity="0.9"/><rect x="215.7" y="28.0" width="1.2" height="1.2" fill="#b8dca4" fill-opacity="0.9"/><rect x="190.9" y="76.0" width="1.2" height="1.2" fill="#b8dca4" fill-opacity="0.9"/><rect x="219.9" y="79.9" width="1.2" height="1.2" fill="#b8dca4" fill-opacity="0.9"/><rect x="199.1" y="114.1" width="1.2" height="1.2" fill="#b8dca4" fill-opacity="0.9"/><rect x="218.3" y="150.9" width="1.2" height="1.2" fill="#8cc870" fill-opacity="0.9"/><rect x="217.5" y="79.4" width="1.2" height="1.2" fill="#b8dca4" fill-opacity="0.9"/><rect x="208.9" y="32.9" width="1.2" height="1.2" fill="#b8dca4" fill-opacity="0.9"/><rect x="218.9" y="173.5" width="1.2" height="1.2" fill="#8cc870" fill-opacity="0.9"/><rect x="202.7" y="86.8" width="1.2" height="1.2" fill="#b8dca4" fill-opacity="0.9"/><rect x="217.9" y="73.3" width="1.2" height="1.2" fill="#b8dca4" fill-opacity="0.9"/><rect x="204.6" y="27.3" width="1.2" height="1.2" fill="#b8dca4" fill-opacity="0.9"/><rect x="221.3" y="175.0" width="1.2" height="1.2" fill="#8cc870" fill-opacity="0.9"/><rect x="207.6" y="117.1" width="1.2" height="1.2" fill="#b8dca4" fill-opacity="0.9"/><rect x="222.1" y="156.8" width="1.2" height="1.2" fill="#8cc870" fill-opacity="0.9"/><rect x="216.5" y="126.7" width="1.2" height="1.2" fill="#8cc870" fill-opacity="0.9"/><rect x="213.6" y="29.3" width="1.2" height="1.2" fill="#b8dca4" fill-opacity="0.9"/><rect x="217.8" y="148.1" width="1.2" height="1.2" fill="#8cc870" fill-opacity="0.9"/><rect x="212.8" y="118.8" width="1.2" height="1.2" fill="#b8dca4" fill-opacity="0.9"/><rect x="220.4" y="43.2" width="1.2" height="1.2" fill="#b8dca4" fill-opacity="0.9"/><rect x="218.4" y="55.0" width="1.2" height="1.2" fill="#b8dca4" fill-opacity="0.9"/><rect x="218.8" y="27.7" width="1.2" height="1.2" fill="#b8dca4" fill-opacity="0.9"/><rect x="222.1" y="157.3" width="1.2" height="1.2" fill="#8cc870" fill-opacity="0.9"/><rect x="218.1" y="165.8" width="1.2" height="1.2" fill="#8cc870" fill-opacity="0.9"/><rect x="241.2" y="172.9" width="1.2" height="1.2" fill="#e89090" fill-opacity="0.9"/><rect x="238.7" y="148.7" width="1.2" height="1.2" fill="#e89090" fill-opacity="0.9"/><rect x="239.1" y="132.1" width="1.2" height="1.2" fill="#e89090" fill-opacity="0.9"/><rect x="248.9" y="78.6" width="1.2" height="1.2" fill="#e89090" fill-opacity="0.9"/><rect x="239.1" y="132.5" width="1.2" height="1.2" fill="#e89090" fill-opacity="0.9"/><rect x="240.1" y="177.5" width="1.2" height="1.2" fill="#e89090" fill-opacity="0.9"/><rect x="254.9" y="109.5" width="1.2" height="1.2" fill="#e89090" fill-opacity="0.9"/><rect x="249.2" y="175.2" width="1.2" height="1.2" fill="#e89090" fill-opacity="0.9"/><rect x="241.1" y="75.6" width="1.2" height="1.2" fill="#e89090" fill-opacity="0.9"/><rect x="239.8" y="136.9" width="1.2" height="1.2" fill="#e89090" fill-opacity="0.9"/><rect x="245.5" y="131.2" width="1.2" height="1.2" fill="#e89090" fill-opacity="0.9"/><rect x="241.0" y="68.2" width="1.2" height="1.2" fill="#e89090" fill-opacity="0.9"/><rect x="251.6" y="171.0" width="1.2" height="1.2" fill="#e89090" fill-opacity="0.9"/><rect x="247.0" y="119.8" width="1.2" height="1.2" fill="#e89090" fill-opacity="0.9"/><rect x="241.1" y="158.6" width="1.2" height="1.2" fill="#e89090" fill-opacity="0.9"/><rect x="254.2" y="33.2" width="1.2" height="1.2" fill="#e89090" fill-opacity="0.9"/><rect x="254.9" y="146.8" width="1.2" height="1.2" fill="#e89090" fill-opacity="0.9"/><rect x="241.4" y="164.8" width="1.2" height="1.2" fill="#e89090" fill-opacity="0.9"/><rect x="240.0" y="60.9" width="1.2" height="1.2" fill="#e89090" fill-opacity="0.9"/><rect x="241.2" y="163.9" width="1.2" height="1.2" fill="#e89090" fill-opacity="0.9"/><rect x="240.2" y="171.9" width="1.2" height="1.2" fill="#e89090" fill-opacity="0.9"/><rect x="243.2" y="75.7" width="1.2" height="1.2" fill="#e89090" fill-opacity="0.9"/><rect x="248.4" y="173.4" width="1.2" height="1.2" fill="#e89090" fill-opacity="0.9"/><rect x="244.0" y="152.4" width="1.2" height="1.2" fill="#e89090" fill-opacity="0.9"/><rect x="240.0" y="162.2" width="1.2" height="1.2" fill="#e89090" fill-opacity="0.9"/><rect x="251.9" y="176.5" width="1.2" height="1.2" fill="#e89090" fill-opacity="0.9"/><rect x="247.6" y="170.5" width="1.2" height="1.2" fill="#e89090" fill-opacity="0.9"/><rect x="251.6" y="120.3" width="1.2" height="1.2" fill="#e89090" fill-opacity="0.9"/><rect x="244.3" y="91.5" width="1.2" height="1.2" fill="#e89090" fill-opacity="0.9"/><rect x="248.5" y="168.9" width="1.2" height="1.2" fill="#e89090" fill-opacity="0.9"/><rect x="240.7" y="159.6" width="1.2" height="1.2" fill="#e89090" fill-opacity="0.9"/><rect x="243.7" y="173.2" width="1.2" height="1.2" fill="#e89090" fill-opacity="0.9"/><rect x="240.7" y="123.7" width="1.2" height="1.2" fill="#e89090" fill-opacity="0.9"/><rect x="244.9" y="169.4" width="1.2" height="1.2" fill="#e89090" fill-opacity="0.9"/><rect x="240.7" y="176.5" width="1.2" height="1.2" fill="#e89090" fill-opacity="0.9"/><rect x="244.2" y="140.2" width="1.2" height="1.2" fill="#e89090" fill-opacity="0.9"/><rect x="239.7" y="154.1" width="1.2" height="1.2" fill="#e89090" fill-opacity="0.9"/><rect x="241.5" y="175.5" width="1.2" height="1.2" fill="#e89090" fill-opacity="0.9"/><rect x="254.9" y="83.3" width="1.2" height="1.2" fill="#e89090" fill-opacity="0.9"/><rect x="241.6" y="122.5" width="1.2" height="1.2" fill="#e89090" fill-opacity="0.9"/><rect x="246.7" y="132.8" width="1.2" height="1.2" fill="#e89090" fill-opacity="0.9"/><rect x="251.1" y="143.7" width="1.2" height="1.2" fill="#e89090" fill-opacity="0.9"/><rect x="242.8" y="124.6" width="1.2" height="1.2" fill="#e89090" fill-opacity="0.9"/><rect x="246.1" y="166.3" width="1.2" height="1.2" fill="#e89090" fill-opacity="0.9"/><rect x="241.2" y="144.6" width="1.2" height="1.2" fill="#e89090" fill-opacity="0.9"/><rect x="243.8" y="164.9" width="1.2" height="1.2" fill="#e89090" fill-opacity="0.9"/><rect x="251.1" y="152.1" width="1.2" height="1.2" fill="#e89090" fill-opacity="0.9"/><rect x="242.3" y="145.1" width="1.2" height="1.2" fill="#e89090" fill-opacity="0.9"/><rect x="239.7" y="47.3" width="1.2" height="1.2" fill="#e89090" fill-opacity="0.9"/><rect x="240.6" y="124.9" width="1.2" height="1.2" fill="#e89090" fill-opacity="0.9"/><rect x="251.3" y="114.3" width="1.2" height="1.2" fill="#e89090" fill-opacity="0.9"/><rect x="254.1" y="56.7" width="1.2" height="1.2" fill="#e89090" fill-opacity="0.9"/><rect x="239.6" y="19.3" width="1.2" height="1.2" fill="#e89090" fill-opacity="0.9"/><rect x="239.8" y="160.6" width="1.2" height="1.2" fill="#e89090" fill-opacity="0.9"/><rect x="242.1" y="81.6" width="1.2" height="1.2" fill="#e89090" fill-opacity="0.9"/><rect x="240.3" y="109.3" width="1.2" height="1.2" fill="#e89090" fill-opacity="0.9"/><rect x="239.8" y="147.9" width="1.2" height="1.2" fill="#e89090" fill-opacity="0.9"/><rect x="239.2" y="122.0" width="1.2" height="1.2" fill="#e89090" fill-opacity="0.9"/><rect x="244.6" y="49.6" width="1.2" height="1.2" fill="#e89090" fill-opacity="0.9"/><rect x="238.4" y="133.6" width="1.2" height="1.2" fill="#e89090" fill-opacity="0.9"/><rect x="239.3" y="86.0" width="1.2" height="1.2" fill="#e89090" fill-opacity="0.9"/><rect x="246.1" y="103.1" width="1.2" height="1.2" fill="#e89090" fill-opacity="0.9"/><rect x="240.4" y="174.5" width="1.2" height="1.2" fill="#e89090" fill-opacity="0.9"/><rect x="244.9" y="37.0" width="1.2" height="1.2" fill="#e89090" fill-opacity="0.9"/><rect x="245.9" y="36.7" width="1.2" height="1.2" fill="#e89090" fill-opacity="0.9"/><rect x="242.1" y="41.0" width="1.2" height="1.2" fill="#e89090" fill-opacity="0.9"/><rect x="248.3" y="106.4" width="1.2" height="1.2" fill="#e89090" fill-opacity="0.9"/><rect x="244.7" y="107.4" width="1.2" height="1.2" fill="#e89090" fill-opacity="0.9"/><rect x="242.0" y="67.5" width="1.2" height="1.2" fill="#e89090" fill-opacity="0.9"/><rect x="248.9" y="96.0" width="1.2" height="1.2" fill="#e89090" fill-opacity="0.9"/><rect x="248.5" y="128.8" width="1.2" height="1.2" fill="#e89090" fill-opacity="0.9"/><rect x="246.7" y="99.9" width="1.2" height="1.2" fill="#e89090" fill-opacity="0.9"/><rect x="239.2" y="84.1" width="1.2" height="1.2" fill="#e89090" fill-opacity="0.9"/><rect x="248.8" y="74.6" width="1.2" height="1.2" fill="#e89090" fill-opacity="0.9"/><rect x="245.1" y="23.9" width="1.2" height="1.2" fill="#e89090" fill-opacity="0.9"/><rect x="251.5" y="83.0" width="1.2" height="1.2" fill="#e89090" fill-opacity="0.9"/><rect x="238.8" y="43.2" width="1.2" height="1.2" fill="#e89090" fill-opacity="0.9"/><rect x="246.5" y="100.4" width="1.2" height="1.2" fill="#e89090" fill-opacity="0.9"/><rect x="238.8" y="103.5" width="1.2" height="1.2" fill="#e89090" fill-opacity="0.9"/><rect x="240.3" y="29.4" width="1.2" height="1.2" fill="#e89090" fill-opacity="0.9"/><rect x="239.4" y="131.0" width="1.2" height="1.2" fill="#e89090" fill-opacity="0.9"/><rect x="248.5" y="128.1" width="1.2" height="1.2" fill="#e89090" fill-opacity="0.9"/><rect x="245.3" y="88.1" width="1.2" height="1.2" fill="#e89090" fill-opacity="0.9"/><rect x="248.2" y="159.3" width="1.2" height="1.2" fill="#e89090" fill-opacity="0.9"/><rect x="239.4" y="150.6" width="1.2" height="1.2" fill="#e89090" fill-opacity="0.9"/><rect x="252.2" y="93.1" width="1.2" height="1.2" fill="#e89090" fill-opacity="0.9"/><rect x="240.0" y="72.9" width="1.2" height="1.2" fill="#e89090" fill-opacity="0.9"/><rect x="239.7" y="17.4" width="1.2" height="1.2" fill="#e89090" fill-opacity="0.9"/></g>
<line x1="136.5" y1="168.4" x2="325.0" y2="168.4" stroke="#9a9a9a" stroke-width="0.8" stroke-dasharray="2.8,2.4"/>
<rect x="136.5" y="16.5" width="188.5" height="168.5" fill="none" stroke="#999" stroke-width="1.25"/>
<line x1="133.5" y1="178.10" x2="136.5" y2="178.10" stroke="#999" stroke-width="0.9"/>
<text x="131.20" y="178.10" font-size="6.3" text-anchor="middle" fill="#333" transform="rotate(-90 131.20 178.10)">0</text>
<line x1="133.5" y1="139.20" x2="136.5" y2="139.20" stroke="#999" stroke-width="0.9"/>
<text x="131.20" y="139.20" font-size="6.3" text-anchor="middle" fill="#333" transform="rotate(-90 131.20 139.20)">5</text>
<line x1="133.5" y1="100.30" x2="136.5" y2="100.30" stroke="#999" stroke-width="0.9"/>
<text x="131.20" y="100.30" font-size="6.3" text-anchor="middle" fill="#333" transform="rotate(-90 131.20 100.30)">10</text>
<line x1="133.5" y1="61.40" x2="136.5" y2="61.40" stroke="#999" stroke-width="0.9"/>
<text x="131.20" y="61.40" font-size="6.3" text-anchor="middle" fill="#333" transform="rotate(-90 131.20 61.40)">15</text>
<line x1="133.5" y1="22.50" x2="136.5" y2="22.50" stroke="#999" stroke-width="0.9"/>
<text x="131.20" y="22.50" font-size="6.3" text-anchor="middle" fill="#333" transform="rotate(-90 131.20 22.50)">20</text>
<line x1="143.90" y1="185.0" x2="143.90" y2="188.0" stroke="#999" stroke-width="0.9"/>
<text x="143.90" y="195.30" font-size="6.3" text-anchor="middle" fill="#333">-10</text>
<line x1="187.50" y1="185.0" x2="187.50" y2="188.0" stroke="#999" stroke-width="0.9"/>
<text x="187.50" y="195.30" font-size="6.3" text-anchor="middle" fill="#333">-5</text>
<line x1="231.10" y1="185.0" x2="231.10" y2="188.0" stroke="#999" stroke-width="0.9"/>
<text x="231.10" y="195.30" font-size="6.3" text-anchor="middle" fill="#333">0</text>
<line x1="274.70" y1="185.0" x2="274.70" y2="188.0" stroke="#999" stroke-width="0.9"/>
<text x="274.70" y="195.30" font-size="6.3" text-anchor="middle" fill="#333">5</text>
<line x1="318.30" y1="185.0" x2="318.30" y2="188.0" stroke="#999" stroke-width="0.9"/>
<text x="318.30" y="195.30" font-size="6.3" text-anchor="middle" fill="#333">10</text>
<text x="117.60" y="100.30" font-size="5.7" text-anchor="middle" fill="#111" transform="rotate(-90 117.60 100.30)">-log<tspan font-size="3.8" dy="1.4">10</tspan><tspan dy="-1.4">(qValue)</tspan></text>
<text x="230.70" y="205.30" font-size="5.5" text-anchor="middle" fill="#111">log<tspan font-size="3.8" dy="1.4">2</tspan><tspan dy="-1.4">(Fold Change)</tspan></text>
<circle cx="141.1" cy="22.1" r="1.0" fill="#d04040"/>
<text x="145.20" y="23.90" font-size="4.9" text-anchor="start" fill="#111" textLength="49" lengthAdjust="spacingAndGlyphs">up-regulated genes (188)</text>
<circle cx="141.1" cy="27.2" r="1.0" fill="#60a860"/>
<text x="145.20" y="29.00" font-size="4.9" text-anchor="start" fill="#111" textLength="59.6" lengthAdjust="spacingAndGlyphs">down-regulated genes (1214)</text>
<circle cx="141.1" cy="31.8" r="1.0" fill="#000"/>
<text x="145.20" y="33.60" font-size="4.9" text-anchor="start" fill="#111" textLength="50" lengthAdjust="spacingAndGlyphs">not differential expressed</text>
<text x="422.80" y="16.90" font-size="16" text-anchor="start" fill="#000" font-weight="bold">B</text>
<rect x="557.6" y="13.70" width="50.89999999999998" height="6.0" fill="#6262f0"/>
<rect x="557.6" y="19.70" width="50.89999999999998" height="6.0" fill="#6262f0"/>
<rect x="557.6" y="25.70" width="50.89999999999998" height="6.0" fill="#6262f0"/>
<rect x="557.6" y="31.70" width="50.89999999999998" height="6.0" fill="#6262f0"/>
<rect x="557.6" y="37.70" width="50.89999999999998" height="6.0" fill="#6262f0"/>
<rect x="557.6" y="43.70" width="50.89999999999998" height="6.0" fill="#6262f0"/>
<rect x="557.6" y="49.70" width="50.89999999999998" height="6.0" fill="#6262f0"/>
<rect x="557.6" y="55.70" width="50.89999999999998" height="6.0" fill="#6262f0"/>
<rect x="557.6" y="61.70" width="50.89999999999998" height="6.0" fill="#6262f0"/>
<rect x="557.6" y="67.70" width="50.89999999999998" height="6.0" fill="#c4c4f6"/>
<rect x="557.6" y="73.70" width="50.89999999999998" height="6.0" fill="#d0d0f8"/>
<rect x="557.6" y="79.70" width="50.89999999999998" height="6.0" fill="#d8d8fa"/>
<rect x="557.6" y="85.70" width="50.89999999999998" height="6.0" fill="#dcdcfa"/>
<rect x="557.6" y="91.70" width="50.89999999999998" height="6.0" fill="#ffd6d6"/>
<rect x="557.6" y="97.70" width="50.89999999999998" height="6.0" fill="#ff1010"/>
<rect x="557.6" y="103.70" width="50.89999999999998" height="6.0" fill="#ffb4b4"/>
<rect x="557.6" y="109.70" width="50.89999999999998" height="6.0" fill="#ffb8b8"/>
<rect x="557.6" y="115.70" width="50.89999999999998" height="6.0" fill="#ffb6b6"/>
<rect x="557.6" y="121.70" width="50.89999999999998" height="6.0" fill="#ffc0c0"/>
<rect x="557.6" y="127.70" width="50.89999999999998" height="6.0" fill="#ffc4c4"/>
<rect x="557.6" y="133.70" width="50.89999999999998" height="6.0" fill="#ffc4c4"/>
<rect x="557.6" y="139.70" width="50.89999999999998" height="6.0" fill="#ffc8c8"/>
<rect x="557.6" y="145.70" width="50.89999999999998" height="6.0" fill="#ffcaca"/>
<rect x="557.6" y="151.70" width="50.89999999999998" height="6.0" fill="#ff7070"/>
<rect x="557.6" y="157.70" width="50.89999999999998" height="6.0" fill="#ffaaaa"/>
<rect x="557.6" y="163.70" width="50.89999999999998" height="6.0" fill="#ffbcbc"/>
<rect x="557.6" y="169.70" width="50.89999999999998" height="6.0" fill="#ffc4c4"/>
<line x1="507.5" y1="13.70" x2="608.5" y2="13.70" stroke="#000" stroke-opacity="0.68" stroke-width="1.5"/>
<line x1="507.5" y1="19.70" x2="608.5" y2="19.70" stroke="#000" stroke-opacity="0.68" stroke-width="1.5"/>
<line x1="507.5" y1="25.70" x2="608.5" y2="25.70" stroke="#000" stroke-opacity="0.68" stroke-width="1.5"/>
<line x1="507.5" y1="31.70" x2="608.5" y2="31.70" stroke="#000" stroke-opacity="0.68" stroke-width="1.5"/>
<line x1="507.5" y1="37.70" x2="608.5" y2="37.70" stroke="#000" stroke-opacity="0.68" stroke-width="1.5"/>
<line x1="507.5" y1="43.70" x2="608.5" y2="43.70" stroke="#000" stroke-opacity="0.68" stroke-width="1.5"/>
<line x1="507.5" y1="49.70" x2="608.5" y2="49.70" stroke="#000" stroke-opacity="0.68" stroke-width="1.5"/>
<line x1="507.5" y1="55.70" x2="608.5" y2="55.70" stroke="#000" stroke-opacity="0.68" stroke-width="1.5"/>
<line x1="507.5" y1="61.70" x2="608.5" y2="61.70" stroke="#000" stroke-opacity="0.68" stroke-width="1.5"/>
<line x1="507.5" y1="67.70" x2="608.5" y2="67.70" stroke="#000" stroke-opacity="0.68" stroke-width="1.5"/>
<line x1="507.5" y1="73.70" x2="608.5" y2="73.70" stroke="#000" stroke-opacity="0.68" stroke-width="1.5"/>
<line x1="507.5" y1="79.70" x2="608.5" y2="79.70" stroke="#000" stroke-opacity="0.68" stroke-width="1.5"/>
<line x1="507.5" y1="85.70" x2="608.5" y2="85.70" stroke="#000" stroke-opacity="0.68" stroke-width="1.5"/>
<line x1="507.5" y1="91.70" x2="608.5" y2="91.70" stroke="#000" stroke-opacity="0.68" stroke-width="1.5"/>
<line x1="507.5" y1="97.70" x2="608.5" y2="97.70" stroke="#000" stroke-opacity="0.68" stroke-width="1.5"/>
<line x1="507.5" y1="103.70" x2="608.5" y2="103.70" stroke="#000" stroke-opacity="0.68" stroke-width="1.5"/>
<line x1="507.5" y1="109.70" x2="608.5" y2="109.70" stroke="#000" stroke-opacity="0.68" stroke-width="1.5"/>
<line x1="507.5" y1="115.70" x2="608.5" y2="115.70" stroke="#000" stroke-opacity="0.68" stroke-width="1.5"/>
<line x1="507.5" y1="121.70" x2="608.5" y2="121.70" stroke="#000" stroke-opacity="0.68" stroke-width="1.5"/>
<line x1="507.5" y1="127.70" x2="608.5" y2="127.70" stroke="#000" stroke-opacity="0.68" stroke-width="1.5"/>
<line x1="507.5" y1="133.70" x2="608.5" y2="133.70" stroke="#000" stroke-opacity="0.68" stroke-width="1.5"/>
<line x1="507.5" y1="139.70" x2="608.5" y2="139.70" stroke="#000" stroke-opacity="0.68" stroke-width="1.5"/>
<line x1="507.5" y1="145.70" x2="608.5" y2="145.70" stroke="#000" stroke-opacity="0.68" stroke-width="1.5"/>
<line x1="507.5" y1="151.70" x2="608.5" y2="151.70" stroke="#000" stroke-opacity="0.68" stroke-width="1.5"/>
<line x1="507.5" y1="157.70" x2="608.5" y2="157.70" stroke="#000" stroke-opacity="0.68" stroke-width="1.5"/>
<line x1="507.5" y1="163.70" x2="608.5" y2="163.70" stroke="#000" stroke-opacity="0.68" stroke-width="1.5"/>
<line x1="507.5" y1="169.70" x2="608.5" y2="169.70" stroke="#000" stroke-opacity="0.68" stroke-width="1.5"/>
<line x1="507.5" y1="175.70" x2="608.5" y2="175.70" stroke="#000" stroke-opacity="0.68" stroke-width="1.5"/>
<line x1="507.5" y1="13.1" x2="507.5" y2="176.29999999999998" stroke="#111" stroke-width="1.2"/>
<line x1="557.6" y1="13.1" x2="557.6" y2="176.29999999999998" stroke="#111" stroke-width="1.2"/>
<line x1="608.5" y1="13.1" x2="608.5" y2="176.29999999999998" stroke="#111" stroke-width="1.2"/>
<line x1="503.5" y1="16.70" x2="507.5" y2="16.70" stroke="#333" stroke-width="1.2"/>
<text x="502.90" y="18.70" font-size="5.6" text-anchor="end" fill="#222" font-weight="bold">phoB_2</text>
<line x1="503.5" y1="22.70" x2="507.5" y2="22.70" stroke="#333" stroke-width="1.2"/>
<text x="502.90" y="24.70" font-size="5.6" text-anchor="end" fill="#222" font-weight="bold">zraR_1</text>
<line x1="503.5" y1="28.70" x2="507.5" y2="28.70" stroke="#333" stroke-width="1.2"/>
<text x="502.90" y="30.70" font-size="5.6" text-anchor="end" fill="#222" font-weight="bold">cusS</text>
<line x1="503.5" y1="34.70" x2="507.5" y2="34.70" stroke="#333" stroke-width="1.2"/>
<text x="502.90" y="36.70" font-size="5.6" text-anchor="end" fill="#222" font-weight="bold">mdtG_1</text>
<line x1="503.5" y1="40.70" x2="507.5" y2="40.70" stroke="#333" stroke-width="1.2"/>
<text x="502.90" y="42.70" font-size="5.6" text-anchor="end" fill="#222" font-weight="bold">cusR</text>
<line x1="503.5" y1="46.70" x2="507.5" y2="46.70" stroke="#333" stroke-width="1.2"/>
<text x="502.90" y="48.70" font-size="5.6" text-anchor="end" fill="#222" font-weight="bold">kdpA</text>
<line x1="503.5" y1="52.70" x2="507.5" y2="52.70" stroke="#333" stroke-width="1.2"/>
<text x="502.90" y="54.70" font-size="5.6" text-anchor="end" fill="#222" font-weight="bold">kdpC</text>
<line x1="503.5" y1="58.70" x2="507.5" y2="58.70" stroke="#333" stroke-width="1.2"/>
<text x="502.90" y="60.70" font-size="5.6" text-anchor="end" fill="#222" font-weight="bold">cusA</text>
<line x1="503.5" y1="64.70" x2="507.5" y2="64.70" stroke="#333" stroke-width="1.2"/>
<text x="502.90" y="66.70" font-size="5.6" text-anchor="end" fill="#222" font-weight="bold">pilE</text>
<line x1="503.5" y1="70.70" x2="507.5" y2="70.70" stroke="#333" stroke-width="1.2"/>
<text x="502.90" y="72.70" font-size="5.6" text-anchor="end" fill="#222" font-weight="bold">kdpE</text>
<line x1="503.5" y1="76.70" x2="507.5" y2="76.70" stroke="#333" stroke-width="1.2"/>
<text x="502.90" y="78.70" font-size="5.6" text-anchor="end" fill="#222" font-weight="bold">pcaI_2</text>
<line x1="503.5" y1="82.70" x2="507.5" y2="82.70" stroke="#333" stroke-width="1.2"/>
<text x="502.90" y="84.70" font-size="5.6" text-anchor="end" fill="#222" font-weight="bold">luxQ</text>
<line x1="503.5" y1="88.70" x2="507.5" y2="88.70" stroke="#333" stroke-width="1.2"/>
<text x="502.90" y="90.70" font-size="5.6" text-anchor="end" fill="#222" font-weight="bold">kdpB</text>
<line x1="503.5" y1="94.70" x2="507.5" y2="94.70" stroke="#333" stroke-width="1.2"/>
<text x="502.90" y="96.70" font-size="5.6" text-anchor="end" fill="#222" font-weight="bold">miaA</text>
<line x1="503.5" y1="100.70" x2="507.5" y2="100.70" stroke="#333" stroke-width="1.2"/>
<text x="502.90" y="102.70" font-size="5.6" text-anchor="end" fill="#222" font-weight="bold">PROKKA_00071</text>
<line x1="503.5" y1="106.70" x2="507.5" y2="106.70" stroke="#333" stroke-width="1.2"/>
<text x="502.90" y="108.70" font-size="5.6" text-anchor="end" fill="#222" font-weight="bold">pstS</text>
<line x1="503.5" y1="112.70" x2="507.5" y2="112.70" stroke="#333" stroke-width="1.2"/>
<text x="502.90" y="114.70" font-size="5.6" text-anchor="end" fill="#222" font-weight="bold">cysA_1</text>
<line x1="503.5" y1="118.70" x2="507.5" y2="118.70" stroke="#333" stroke-width="1.2"/>
<text x="502.90" y="120.70" font-size="5.6" text-anchor="end" fill="#222" font-weight="bold">pstB</text>
<line x1="503.5" y1="124.70" x2="507.5" y2="124.70" stroke="#333" stroke-width="1.2"/>
<text x="502.90" y="126.70" font-size="5.6" text-anchor="end" fill="#222" font-weight="bold">cysW</text>
<line x1="503.5" y1="130.70" x2="507.5" y2="130.70" stroke="#333" stroke-width="1.2"/>
<text x="502.90" y="132.70" font-size="5.6" text-anchor="end" fill="#222" font-weight="bold">macB</text>
<line x1="503.5" y1="136.70" x2="507.5" y2="136.70" stroke="#333" stroke-width="1.2"/>
<text x="502.90" y="138.70" font-size="5.6" text-anchor="end" fill="#222" font-weight="bold">pstA</text>
<line x1="503.5" y1="142.70" x2="507.5" y2="142.70" stroke="#333" stroke-width="1.2"/>
<text x="502.90" y="144.70" font-size="5.6" text-anchor="end" fill="#222" font-weight="bold">pstC</text>
<line x1="503.5" y1="148.70" x2="507.5" y2="148.70" stroke="#333" stroke-width="1.2"/>
<text x="502.90" y="150.70" font-size="5.6" text-anchor="end" fill="#222" font-weight="bold">lolE</text>
<line x1="503.5" y1="154.70" x2="507.5" y2="154.70" stroke="#333" stroke-width="1.2"/>
<text x="502.90" y="156.70" font-size="5.6" text-anchor="end" fill="#222" font-weight="bold">acrB</text>
<line x1="503.5" y1="160.70" x2="507.5" y2="160.70" stroke="#333" stroke-width="1.2"/>
<text x="502.90" y="162.70" font-size="5.6" text-anchor="end" fill="#222" font-weight="bold">nepI</text>
<line x1="503.5" y1="166.70" x2="507.5" y2="166.70" stroke="#333" stroke-width="1.2"/>
<text x="502.90" y="168.70" font-size="5.6" text-anchor="end" fill="#222" font-weight="bold">argO</text>
<line x1="503.5" y1="172.70" x2="507.5" y2="172.70" stroke="#333" stroke-width="1.2"/>
<text x="502.90" y="174.70" font-size="5.6" text-anchor="end" fill="#222" font-weight="bold">arpC</text>
<line x1="454.4" y1="16.4" x2="454.4" y2="89.7" stroke="#222" stroke-width="0.8"/>
<line x1="454.4" y1="102.7" x2="454.4" y2="172.8" stroke="#222" stroke-width="0.8"/>
<text x="450.80" y="53.00" font-size="5.9" text-anchor="middle" fill="#111" transform="rotate(-90 450.80 53.00)">Two-component system</text>
<text x="450.80" y="136.40" font-size="5.9" text-anchor="middle" fill="#111" transform="rotate(-90 450.80 136.40)">Multidrug efflux pump</text>
<line x1="532.5" y1="175.7" x2="532.5" y2="178.2" stroke="#222" stroke-width="0.8"/>
<line x1="583.0" y1="175.7" x2="583.0" y2="178.2" stroke="#222" stroke-width="0.8"/>
<text x="532.50" y="186.70" font-size="7.4" text-anchor="middle" fill="#111" font-weight="bold">AB43</text>
<text x="583.30" y="186.70" font-size="7.5" text-anchor="middle" fill="#111" font-weight="bold">AB43<tspan font-weight="normal" font-style="italic" dx="1.5">&#916;</tspan><tspan font-style="italic">crispr-cas</tspan></text>
<defs><linearGradient id="cbg" x1="0" y1="0" x2="0" y2="1"><stop offset="0" stop-color="#ff0000"/><stop offset="0.229" stop-color="#ffffff"/><stop offset="1" stop-color="#4e4eee"/></linearGradient><linearGradient id="qg" x1="0" y1="0" x2="0" y2="1"><stop offset="0" stop-color="#2a3c8c"/><stop offset="0.1" stop-color="#2f55a8"/><stop offset="0.24" stop-color="#3fb0e0"/><stop offset="0.36" stop-color="#48b0a8"/><stop offset="0.48" stop-color="#4fa838"/><stop offset="0.6" stop-color="#8cc420"/><stop offset="0.72" stop-color="#f2e21c"/><stop offset="0.86" stop-color="#f8a01c"/><stop offset="0.95" stop-color="#e8301c"/><stop offset="1" stop-color="#d8181c"/></linearGradient></defs>
<rect x="621.7" y="15.2" width="12.599999999999909" height="161.8" fill="url(#cbg)" stroke="#111" stroke-width="1.3"/>
<line x1="621.7" y1="18.65" x2="624.1" y2="18.65" stroke="#111" stroke-width="1.2"/>
<line x1="631.9" y1="18.65" x2="634.3" y2="18.65" stroke="#111" stroke-width="1.2"/>
<text x="638.60" y="21.75" font-size="8.6" text-anchor="start" fill="#111">5</text>
<line x1="621.7" y1="52.30" x2="624.1" y2="52.30" stroke="#111" stroke-width="1.2"/>
<line x1="631.9" y1="52.30" x2="634.3" y2="52.30" stroke="#111" stroke-width="1.2"/>
<text x="638.60" y="55.40" font-size="8.6" text-anchor="start" fill="#111">0</text>
<line x1="621.7" y1="85.95" x2="624.1" y2="85.95" stroke="#111" stroke-width="1.2"/>
<line x1="631.9" y1="85.95" x2="634.3" y2="85.95" stroke="#111" stroke-width="1.2"/>
<text x="638.60" y="89.05" font-size="8.6" text-anchor="start" fill="#111">-5</text>
<line x1="621.7" y1="119.60" x2="624.1" y2="119.60" stroke="#111" stroke-width="1.2"/>
<line x1="631.9" y1="119.60" x2="634.3" y2="119.60" stroke="#111" stroke-width="1.2"/>
<text x="638.60" y="122.70" font-size="8.6" text-anchor="start" fill="#111">-10</text>
<line x1="621.7" y1="153.25" x2="624.1" y2="153.25" stroke="#111" stroke-width="1.2"/>
<line x1="631.9" y1="153.25" x2="634.3" y2="153.25" stroke="#111" stroke-width="1.2"/>
<text x="638.60" y="156.35" font-size="8.6" text-anchor="start" fill="#111">-15</text>
<text x="616.00" y="7.60" font-size="8.3" text-anchor="start" fill="#222" textLength="29" lengthAdjust="spacingAndGlyphs">Log2FC</text>
<text x="30.50" y="251.50" font-size="16" text-anchor="start" fill="#000" font-weight="bold">C</text>
<text x="210.20" y="250.40" font-size="9.4" text-anchor="middle" fill="#222" textLength="75" lengthAdjust="spacingAndGlyphs">KEGG Enrichment</text>
<rect x="135.2" y="256.3" width="150.0" height="288.90000000000003" fill="#fff"/>
<line x1="143.65" y1="256.3" x2="143.65" y2="545.2" stroke="#f2f2f2" stroke-width="0.5"/>
<line x1="186.75" y1="256.3" x2="186.75" y2="545.2" stroke="#f2f2f2" stroke-width="0.5"/>
<line x1="229.85" y1="256.3" x2="229.85" y2="545.2" stroke="#f2f2f2" stroke-width="0.5"/>
<line x1="272.95" y1="256.3" x2="272.95" y2="545.2" stroke="#f2f2f2" stroke-width="0.5"/>
<line x1="165.20" y1="256.3" x2="165.20" y2="545.2" stroke="#eaeaea" stroke-width="0.8"/>
<line x1="208.30" y1="256.3" x2="208.30" y2="545.2" stroke="#eaeaea" stroke-width="0.8"/>
<line x1="251.40" y1="256.3" x2="251.40" y2="545.2" stroke="#eaeaea" stroke-width="0.8"/>
<line x1="135.2" y1="262.04" x2="285.2" y2="262.04" stroke="#eaeaea" stroke-width="0.8"/>
<line x1="135.2" y1="271.61" x2="285.2" y2="271.61" stroke="#eaeaea" stroke-width="0.8"/>
<line x1="135.2" y1="281.17" x2="285.2" y2="281.17" stroke="#eaeaea" stroke-width="0.8"/>
<line x1="135.2" y1="290.74" x2="285.2" y2="290.74" stroke="#eaeaea" stroke-width="0.8"/>
<line x1="135.2" y1="300.30" x2="285.2" y2="300.30" stroke="#eaeaea" stroke-width="0.8"/>
<line x1="135.2" y1="309.87" x2="285.2" y2="309.87" stroke="#eaeaea" stroke-width="0.8"/>
<line x1="135.2" y1="319.44" x2="285.2" y2="319.44" stroke="#eaeaea" stroke-width="0.8"/>
<line x1="135.2" y1="329.00" x2="285.2" y2="329.00" stroke="#eaeaea" stroke-width="0.8"/>
<line x1="135.2" y1="338.57" x2="285.2" y2="338.57" stroke="#eaeaea" stroke-width="0.8"/>
<line x1="135.2" y1="348.14" x2="285.2" y2="348.14" stroke="#eaeaea" stroke-width="0.8"/>
<line x1="135.2" y1="357.70" x2="285.2" y2="357.70" stroke="#eaeaea" stroke-width="0.8"/>
<line x1="135.2" y1="367.27" x2="285.2" y2="367.27" stroke="#eaeaea" stroke-width="0.8"/>
<line x1="135.2" y1="376.83" x2="285.2" y2="376.83" stroke="#eaeaea" stroke-width="0.8"/>
<line x1="135.2" y1="386.40" x2="285.2" y2="386.40" stroke="#eaeaea" stroke-width="0.8"/>
<line x1="135.2" y1="395.97" x2="285.2" y2="395.97" stroke="#eaeaea" stroke-width="0.8"/>
<line x1="135.2" y1="405.53" x2="285.2" y2="405.53" stroke="#eaeaea" stroke-width="0.8"/>
<line x1="135.2" y1="415.10" x2="285.2" y2="415.10" stroke="#eaeaea" stroke-width="0.8"/>
<line x1="135.2" y1="424.67" x2="285.2" y2="424.67" stroke="#eaeaea" stroke-width="0.8"/>
<line x1="135.2" y1="434.23" x2="285.2" y2="434.23" stroke="#eaeaea" stroke-width="0.8"/>
<line x1="135.2" y1="443.80" x2="285.2" y2="443.80" stroke="#eaeaea" stroke-width="0.8"/>
<line x1="135.2" y1="453.36" x2="285.2" y2="453.36" stroke="#eaeaea" stroke-width="0.8"/>
<line x1="135.2" y1="462.93" x2="285.2" y2="462.93" stroke="#eaeaea" stroke-width="0.8"/>
<line x1="135.2" y1="472.50" x2="285.2" y2="472.50" stroke="#eaeaea" stroke-width="0.8"/>
<line x1="135.2" y1="482.06" x2="285.2" y2="482.06" stroke="#eaeaea" stroke-width="0.8"/>
<line x1="135.2" y1="491.63" x2="285.2" y2="491.63" stroke="#eaeaea" stroke-width="0.8"/>
<line x1="135.2" y1="501.20" x2="285.2" y2="501.20" stroke="#eaeaea" stroke-width="0.8"/>
<line x1="135.2" y1="510.76" x2="285.2" y2="510.76" stroke="#eaeaea" stroke-width="0.8"/>
<line x1="135.2" y1="520.33" x2="285.2" y2="520.33" stroke="#eaeaea" stroke-width="0.8"/>
<line x1="135.2" y1="529.89" x2="285.2" y2="529.89" stroke="#eaeaea" stroke-width="0.8"/>
<line x1="135.2" y1="539.46" x2="285.2" y2="539.46" stroke="#eaeaea" stroke-width="0.8"/>
<circle cx="142.10" cy="262.04" r="1.75" fill="#a6c637" stroke="#000" stroke-opacity="0.12" stroke-width="0.5"/>
<circle cx="182.00" cy="271.61" r="3.80" fill="#9cc22e" stroke="#000" stroke-opacity="0.12" stroke-width="0.5"/>
<circle cx="162.20" cy="281.17" r="3.20" fill="#6aac2a" stroke="#000" stroke-opacity="0.12" stroke-width="0.5"/>
<circle cx="142.10" cy="290.74" r="1.75" fill="#78b030" stroke="#000" stroke-opacity="0.12" stroke-width="0.5"/>
<circle cx="142.10" cy="300.30" r="1.75" fill="#5e9e3e" stroke="#000" stroke-opacity="0.12" stroke-width="0.5"/>
<circle cx="182.00" cy="309.87" r="3.80" fill="#76b42a" stroke="#000" stroke-opacity="0.12" stroke-width="0.5"/>
<circle cx="162.20" cy="319.44" r="3.20" fill="#dde03a" stroke="#000" stroke-opacity="0.12" stroke-width="0.5"/>
<circle cx="201.50" cy="329.00" r="4.30" fill="#7ab82a" stroke="#000" stroke-opacity="0.12" stroke-width="0.5"/>
<circle cx="182.00" cy="338.57" r="3.80" fill="#68aa30" stroke="#000" stroke-opacity="0.12" stroke-width="0.5"/>
<circle cx="182.00" cy="348.14" r="3.80" fill="#68aa30" stroke="#000" stroke-opacity="0.12" stroke-width="0.5"/>
<circle cx="142.10" cy="357.70" r="1.75" fill="#a8c830" stroke="#000" stroke-opacity="0.12" stroke-width="0.5"/>
<circle cx="162.20" cy="367.27" r="3.20" fill="#76b02a" stroke="#000" stroke-opacity="0.12" stroke-width="0.5"/>
<circle cx="182.00" cy="376.83" r="3.80" fill="#70b030" stroke="#000" stroke-opacity="0.12" stroke-width="0.5"/>
<circle cx="142.10" cy="386.40" r="1.75" fill="#5fa040" stroke="#000" stroke-opacity="0.12" stroke-width="0.5"/>
<circle cx="142.10" cy="395.97" r="1.75" fill="#70a838" stroke="#000" stroke-opacity="0.12" stroke-width="0.5"/>
<circle cx="162.00" cy="405.53" r="3.20" fill="#76b02a" stroke="#000" stroke-opacity="0.12" stroke-width="0.5"/>
<circle cx="142.00" cy="415.10" r="1.75" fill="#7aa830" stroke="#000" stroke-opacity="0.12" stroke-width="0.5"/>
<circle cx="142.00" cy="424.67" r="1.75" fill="#7aa830" stroke="#000" stroke-opacity="0.12" stroke-width="0.5"/>
<circle cx="142.00" cy="434.23" r="1.75" fill="#7aa830" stroke="#000" stroke-opacity="0.12" stroke-width="0.5"/>
<circle cx="201.30" cy="443.80" r="4.30" fill="#9cc828" stroke="#000" stroke-opacity="0.12" stroke-width="0.5"/>
<circle cx="142.00" cy="453.36" r="1.75" fill="#7aa830" stroke="#000" stroke-opacity="0.12" stroke-width="0.5"/>
<circle cx="142.00" cy="462.93" r="1.75" fill="#7aa830" stroke="#000" stroke-opacity="0.12" stroke-width="0.5"/>
<circle cx="142.00" cy="472.50" r="1.75" fill="#5aa050" stroke="#000" stroke-opacity="0.12" stroke-width="0.5"/>
<circle cx="162.00" cy="482.06" r="3.20" fill="#76b02a" stroke="#000" stroke-opacity="0.12" stroke-width="0.5"/>
<circle cx="142.00" cy="491.63" r="1.75" fill="#68a838" stroke="#000" stroke-opacity="0.12" stroke-width="0.5"/>
<circle cx="181.70" cy="501.20" r="3.80" fill="#7ab42a" stroke="#000" stroke-opacity="0.12" stroke-width="0.5"/>
<circle cx="241.00" cy="510.76" r="5.20" fill="#62a82a" stroke="#000" stroke-opacity="0.12" stroke-width="0.5"/>
<circle cx="162.00" cy="520.33" r="3.20" fill="#68a850" stroke="#000" stroke-opacity="0.12" stroke-width="0.5"/>
<circle cx="142.00" cy="529.89" r="1.75" fill="#88a830" stroke="#000" stroke-opacity="0.12" stroke-width="0.5"/>
<circle cx="280.00" cy="539.46" r="6.20" fill="#e0e030" stroke="#000" stroke-opacity="0.12" stroke-width="0.5"/>
<rect x="135.2" y="256.3" width="150.0" height="288.90000000000003" fill="none" stroke="#666" stroke-width="0.9"/>
<line x1="132.7" y1="262.04" x2="135.2" y2="262.04" stroke="#444" stroke-width="0.8"/>
<text x="131.80" y="264.94" font-size="6.3" text-anchor="end" fill="#444">Zeatin biosynthesis</text>
<line x1="132.7" y1="271.61" x2="135.2" y2="271.61" stroke="#444" stroke-width="0.8"/>
<text x="131.80" y="274.51" font-size="6.3" text-anchor="end" fill="#444">Tyrosine metabolism</text>
<line x1="132.7" y1="281.17" x2="135.2" y2="281.17" stroke="#444" stroke-width="0.8"/>
<text x="131.80" y="284.07" font-size="6.3" text-anchor="end" fill="#444">Terpenoid backbone biosynthesis</text>
<line x1="132.7" y1="290.74" x2="135.2" y2="290.74" stroke="#444" stroke-width="0.8"/>
<text x="131.80" y="293.64" font-size="6.3" text-anchor="end" fill="#444">Taurine and hypotaurine metabolism</text>
<line x1="132.7" y1="300.30" x2="135.2" y2="300.30" stroke="#444" stroke-width="0.8"/>
<text x="131.80" y="303.20" font-size="6.3" text-anchor="end" fill="#444">Synthesis and degradation of ketone bodies</text>
<line x1="132.7" y1="309.87" x2="135.2" y2="309.87" stroke="#444" stroke-width="0.8"/>
<text x="131.80" y="312.77" font-size="6.3" text-anchor="end" fill="#444">Sulfur metabolism</text>
<line x1="132.7" y1="319.44" x2="135.2" y2="319.44" stroke="#444" stroke-width="0.8"/>
<text x="131.80" y="322.34" font-size="6.3" text-anchor="end" fill="#444">Styrene degradation</text>
<line x1="132.7" y1="329.00" x2="135.2" y2="329.00" stroke="#444" stroke-width="0.8"/>
<text x="131.80" y="331.90" font-size="6.3" text-anchor="end" fill="#444">Pyruvate metabolism</text>
<line x1="132.7" y1="338.57" x2="135.2" y2="338.57" stroke="#444" stroke-width="0.8"/>
<text x="131.80" y="341.47" font-size="6.3" text-anchor="end" fill="#444">Pyrimidine metabolism</text>
<line x1="132.7" y1="348.14" x2="135.2" y2="348.14" stroke="#444" stroke-width="0.8"/>
<text x="131.80" y="351.04" font-size="6.3" text-anchor="end" fill="#444">Propanoate metabolism</text>
<line x1="132.7" y1="357.70" x2="135.2" y2="357.70" stroke="#444" stroke-width="0.8"/>
<text x="131.80" y="360.60" font-size="6.3" text-anchor="end" fill="#444">Phenylpropanoid biosynthesis</text>
<line x1="132.7" y1="367.27" x2="135.2" y2="367.27" stroke="#444" stroke-width="0.8"/>
<text x="131.80" y="370.17" font-size="6.3" text-anchor="end" fill="#444">One carbon pool by folate</text>
<line x1="132.7" y1="376.83" x2="135.2" y2="376.83" stroke="#444" stroke-width="0.8"/>
<text x="131.80" y="379.73" font-size="6.3" text-anchor="end" fill="#444">Methane metabolism</text>
<line x1="132.7" y1="386.40" x2="135.2" y2="386.40" stroke="#444" stroke-width="0.8"/>
<text x="131.80" y="389.30" font-size="6.3" text-anchor="end" fill="#444">Metabolism of xenobiotics by cytochrome P450</text>
<line x1="132.7" y1="395.97" x2="135.2" y2="395.97" stroke="#444" stroke-width="0.8"/>
<text x="131.80" y="398.87" font-size="6.3" text-anchor="end" fill="#444">Longevity regulating pathway &#8722; worm</text>
<line x1="132.7" y1="405.53" x2="135.2" y2="405.53" stroke="#444" stroke-width="0.8"/>
<text x="131.80" y="408.43" font-size="6.3" text-anchor="end" fill="#444">Lipopolysaccharide biosynthesis</text>
<line x1="132.7" y1="415.10" x2="135.2" y2="415.10" stroke="#444" stroke-width="0.8"/>
<text x="131.80" y="418.00" font-size="6.3" text-anchor="end" fill="#444">Lipoic acid metabolism</text>
<line x1="132.7" y1="424.67" x2="135.2" y2="424.67" stroke="#444" stroke-width="0.8"/>
<text x="131.80" y="427.57" font-size="6.3" text-anchor="end" fill="#444">Insulin signaling pathway</text>
<line x1="132.7" y1="434.23" x2="135.2" y2="434.23" stroke="#444" stroke-width="0.8"/>
<text x="131.80" y="437.13" font-size="6.3" text-anchor="end" fill="#444">HIF&#8722;1 signaling pathway</text>
<line x1="132.7" y1="443.80" x2="135.2" y2="443.80" stroke="#444" stroke-width="0.8"/>
<text x="131.80" y="446.70" font-size="6.3" text-anchor="end" fill="#444">Glycolysis / Gluconeogenesis</text>
<line x1="132.7" y1="453.36" x2="135.2" y2="453.36" stroke="#444" stroke-width="0.8"/>
<text x="131.80" y="456.26" font-size="6.3" text-anchor="end" fill="#444">Glucagon signaling pathway</text>
<line x1="132.7" y1="462.93" x2="135.2" y2="462.93" stroke="#444" stroke-width="0.8"/>
<text x="131.80" y="465.83" font-size="6.3" text-anchor="end" fill="#444">Galactose metabolism</text>
<line x1="132.7" y1="472.50" x2="135.2" y2="472.50" stroke="#444" stroke-width="0.8"/>
<text x="131.80" y="475.40" font-size="6.3" text-anchor="end" fill="#444">Fructose and mannose metabolism</text>
<line x1="132.7" y1="482.06" x2="135.2" y2="482.06" stroke="#444" stroke-width="0.8"/>
<text x="131.80" y="484.96" font-size="6.3" text-anchor="end" fill="#444">Folate biosynthesis</text>
<line x1="132.7" y1="491.63" x2="135.2" y2="491.63" stroke="#444" stroke-width="0.8"/>
<text x="131.80" y="494.53" font-size="6.3" text-anchor="end" fill="#444">D&#8722;Glutamine and D&#8722;glutamate metabolism</text>
<line x1="132.7" y1="501.20" x2="135.2" y2="501.20" stroke="#444" stroke-width="0.8"/>
<text x="131.80" y="504.10" font-size="6.3" text-anchor="end" fill="#444">Citrate cycle (TCA cycle)</text>
<line x1="132.7" y1="510.76" x2="135.2" y2="510.76" stroke="#444" stroke-width="0.8"/>
<text x="131.80" y="513.66" font-size="6.3" text-anchor="end" fill="#444">Carbon metabolism</text>
<line x1="132.7" y1="520.33" x2="135.2" y2="520.33" stroke="#444" stroke-width="0.8"/>
<text x="131.80" y="523.23" font-size="6.3" text-anchor="end" fill="#444">Alanine, aspartate and glutamate metabolism</text>
<line x1="132.7" y1="529.89" x2="135.2" y2="529.89" stroke="#444" stroke-width="0.8"/>
<text x="131.80" y="532.79" font-size="6.3" text-anchor="end" fill="#444">AMPK signaling pathway</text>
<line x1="132.7" y1="539.46" x2="135.2" y2="539.46" stroke="#444" stroke-width="0.8"/>
<text x="131.80" y="542.36" font-size="6.3" text-anchor="end" fill="#444">ABC transporters</text>
<line x1="165.20" y1="545.2" x2="165.20" y2="547.7" stroke="#444" stroke-width="0.8"/>
<text x="165.20" y="554.30" font-size="6.3" text-anchor="middle" fill="#444">0.05</text>
<line x1="208.30" y1="545.2" x2="208.30" y2="547.7" stroke="#444" stroke-width="0.8"/>
<text x="208.30" y="554.30" font-size="6.3" text-anchor="middle" fill="#444">0.10</text>
<line x1="251.40" y1="545.2" x2="251.40" y2="547.7" stroke="#444" stroke-width="0.8"/>
<text x="251.40" y="554.30" font-size="6.3" text-anchor="middle" fill="#444">0.15</text>
<text x="210.20" y="562.40" font-size="8.0" text-anchor="middle" fill="#222">Rich factor</text>
<text x="297.00" y="334.30" font-size="7.4" text-anchor="start" fill="#222">qvalue</text>
<rect x="297" y="338.2" width="12" height="61" fill="url(#qg)"/>
<line x1="297" y1="340.40" x2="299.4" y2="340.40" stroke="#fff" stroke-width="0.6"/>
<line x1="306.6" y1="340.40" x2="309" y2="340.40" stroke="#fff" stroke-width="0.6"/>
<text x="312.60" y="342.70" font-size="6.5" text-anchor="start" fill="#444">1.00</text>
<line x1="297" y1="354.65" x2="299.4" y2="354.65" stroke="#fff" stroke-width="0.6"/>
<line x1="306.6" y1="354.65" x2="309" y2="354.65" stroke="#fff" stroke-width="0.6"/>
<text x="312.60" y="356.95" font-size="6.5" text-anchor="start" fill="#444">0.75</text>
<line x1="297" y1="368.90" x2="299.4" y2="368.90" stroke="#fff" stroke-width="0.6"/>
<line x1="306.6" y1="368.90" x2="309" y2="368.90" stroke="#fff" stroke-width="0.6"/>
<text x="312.60" y="371.20" font-size="6.5" text-anchor="start" fill="#444">0.50</text>
<line x1="297" y1="383.15" x2="299.4" y2="383.15" stroke="#fff" stroke-width="0.6"/>
<line x1="306.6" y1="383.15" x2="309" y2="383.15" stroke="#fff" stroke-width="0.6"/>
<text x="312.60" y="385.45" font-size="6.5" text-anchor="start" fill="#444">0.25</text>
<line x1="297" y1="397.40" x2="299.4" y2="397.40" stroke="#fff" stroke-width="0.6"/>
<line x1="306.6" y1="397.40" x2="309" y2="397.40" stroke="#fff" stroke-width="0.6"/>
<text x="312.60" y="399.70" font-size="6.5" text-anchor="start" fill="#444">0.00</text>
<text x="297.00" y="421.60" font-size="7.6" text-anchor="start" fill="#222">Signi Num</text>
<circle cx="304" cy="431.7" r="3.0" fill="#000"/>
<text x="312.60" y="434.00" font-size="6.5" text-anchor="start" fill="#444">2</text>
<circle cx="304" cy="443.5" r="4.0" fill="#000"/>
<text x="312.60" y="445.80" font-size="6.5" text-anchor="start" fill="#444">4</text>
<circle cx="304" cy="455.3" r="4.9" fill="#000"/>
<text x="312.60" y="457.60" font-size="6.5" text-anchor="start" fill="#444">6</text>
<circle cx="304" cy="467.8" r="5.6" fill="#000"/>
<text x="312.60" y="470.10" font-size="6.5" text-anchor="start" fill="#444">8</text>
<text x="422.40" y="251.00" font-size="16" text-anchor="start" fill="#000" font-weight="bold">D</text>
<text x="570.25" y="250.40" font-size="9.4" text-anchor="middle" fill="#222" textLength="75" lengthAdjust="spacingAndGlyphs">KEGG Enrichment</text>
<rect x="501.3" y="256.3" width="137.90000000000003" height="288.90000000000003" fill="#fff"/>
<line x1="511.90" y1="256.3" x2="511.90" y2="545.2" stroke="#f2f2f2" stroke-width="0.5"/>
<line x1="538.90" y1="256.3" x2="538.90" y2="545.2" stroke="#f2f2f2" stroke-width="0.5"/>
<line x1="565.90" y1="256.3" x2="565.90" y2="545.2" stroke="#f2f2f2" stroke-width="0.5"/>
<line x1="592.90" y1="256.3" x2="592.90" y2="545.2" stroke="#f2f2f2" stroke-width="0.5"/>
<line x1="619.90" y1="256.3" x2="619.90" y2="545.2" stroke="#f2f2f2" stroke-width="0.5"/>
<line x1="525.40" y1="256.3" x2="525.40" y2="545.2" stroke="#eaeaea" stroke-width="0.8"/>
<line x1="552.40" y1="256.3" x2="552.40" y2="545.2" stroke="#eaeaea" stroke-width="0.8"/>
<line x1="579.40" y1="256.3" x2="579.40" y2="545.2" stroke="#eaeaea" stroke-width="0.8"/>
<line x1="606.40" y1="256.3" x2="606.40" y2="545.2" stroke="#eaeaea" stroke-width="0.8"/>
<line x1="633.40" y1="256.3" x2="633.40" y2="545.2" stroke="#eaeaea" stroke-width="0.8"/>
<line x1="501.3" y1="262.04" x2="639.2" y2="262.04" stroke="#eaeaea" stroke-width="0.8"/>
<line x1="501.3" y1="271.61" x2="639.2" y2="271.61" stroke="#eaeaea" stroke-width="0.8"/>
<line x1="501.3" y1="281.17" x2="639.2" y2="281.17" stroke="#eaeaea" stroke-width="0.8"/>
<line x1="501.3" y1="290.74" x2="639.2" y2="290.74" stroke="#eaeaea" stroke-width="0.8"/>
<line x1="501.3" y1="300.30" x2="639.2" y2="300.30" stroke="#eaeaea" stroke-width="0.8"/>
<line x1="501.3" y1="309.87" x2="639.2" y2="309.87" stroke="#eaeaea" stroke-width="0.8"/>
<line x1="501.3" y1="319.44" x2="639.2" y2="319.44" stroke="#eaeaea" stroke-width="0.8"/>
<line x1="501.3" y1="329.00" x2="639.2" y2="329.00" stroke="#eaeaea" stroke-width="0.8"/>
<line x1="501.3" y1="338.57" x2="639.2" y2="338.57" stroke="#eaeaea" stroke-width="0.8"/>
<line x1="501.3" y1="348.14" x2="639.2" y2="348.14" stroke="#eaeaea" stroke-width="0.8"/>
<line x1="501.3" y1="357.70" x2="639.2" y2="357.70" stroke="#eaeaea" stroke-width="0.8"/>
<line x1="501.3" y1="367.27" x2="639.2" y2="367.27" stroke="#eaeaea" stroke-width="0.8"/>
<line x1="501.3" y1="376.83" x2="639.2" y2="376.83" stroke="#eaeaea" stroke-width="0.8"/>
<line x1="501.3" y1="386.40" x2="639.2" y2="386.40" stroke="#eaeaea" stroke-width="0.8"/>
<line x1="501.3" y1="395.97" x2="639.2" y2="395.97" stroke="#eaeaea" stroke-width="0.8"/>
<line x1="501.3" y1="405.53" x2="639.2" y2="405.53" stroke="#eaeaea" stroke-width="0.8"/>
<line x1="501.3" y1="415.10" x2="639.2" y2="415.10" stroke="#eaeaea" stroke-width="0.8"/>
<line x1="501.3" y1="424.67" x2="639.2" y2="424.67" stroke="#eaeaea" stroke-width="0.8"/>
<line x1="501.3" y1="434.23" x2="639.2" y2="434.23" stroke="#eaeaea" stroke-width="0.8"/>
<line x1="501.3" y1="443.80" x2="639.2" y2="443.80" stroke="#eaeaea" stroke-width="0.8"/>
<line x1="501.3" y1="453.36" x2="639.2" y2="453.36" stroke="#eaeaea" stroke-width="0.8"/>
<line x1="501.3" y1="462.93" x2="639.2" y2="462.93" stroke="#eaeaea" stroke-width="0.8"/>
<line x1="501.3" y1="472.50" x2="639.2" y2="472.50" stroke="#eaeaea" stroke-width="0.8"/>
<line x1="501.3" y1="482.06" x2="639.2" y2="482.06" stroke="#eaeaea" stroke-width="0.8"/>
<line x1="501.3" y1="491.63" x2="639.2" y2="491.63" stroke="#eaeaea" stroke-width="0.8"/>
<line x1="501.3" y1="501.20" x2="639.2" y2="501.20" stroke="#eaeaea" stroke-width="0.8"/>
<line x1="501.3" y1="510.76" x2="639.2" y2="510.76" stroke="#eaeaea" stroke-width="0.8"/>
<line x1="501.3" y1="520.33" x2="639.2" y2="520.33" stroke="#eaeaea" stroke-width="0.8"/>
<line x1="501.3" y1="529.89" x2="639.2" y2="529.89" stroke="#eaeaea" stroke-width="0.8"/>
<line x1="501.3" y1="539.46" x2="639.2" y2="539.46" stroke="#eaeaea" stroke-width="0.8"/>
<circle cx="529.70" cy="262.04" r="3.10" fill="#d42222" stroke="#000" stroke-opacity="0.12" stroke-width="0.5"/>
<circle cx="634.40" cy="271.61" r="5.60" fill="#e22418" stroke="#000" stroke-opacity="0.12" stroke-width="0.5"/>
<circle cx="551.60" cy="281.17" r="3.80" fill="#d42a1a" stroke="#000" stroke-opacity="0.12" stroke-width="0.5"/>
<circle cx="507.90" cy="290.74" r="1.70" fill="#d8e028" stroke="#000" stroke-opacity="0.12" stroke-width="0.5"/>
<circle cx="507.90" cy="300.30" r="1.70" fill="#e6e020" stroke="#000" stroke-opacity="0.12" stroke-width="0.5"/>
<circle cx="512.20" cy="309.87" r="2.30" fill="#e08a24" stroke="#000" stroke-opacity="0.12" stroke-width="0.5"/>
<circle cx="521.00" cy="319.44" r="2.80" fill="#e8a030" stroke="#000" stroke-opacity="0.12" stroke-width="0.5"/>
<circle cx="507.90" cy="329.00" r="1.50" fill="#c8d070" stroke="#000" stroke-opacity="0.12" stroke-width="0.5"/>
<circle cx="599.70" cy="338.57" r="4.70" fill="#e01818" stroke="#000" stroke-opacity="0.12" stroke-width="0.5"/>
<circle cx="512.20" cy="348.14" r="2.40" fill="#e8e030" stroke="#000" stroke-opacity="0.12" stroke-width="0.5"/>
<circle cx="512.20" cy="357.70" r="2.40" fill="#e2e030" stroke="#000" stroke-opacity="0.12" stroke-width="0.5"/>
<circle cx="525.40" cy="367.27" r="2.90" fill="#e09030" stroke="#000" stroke-opacity="0.12" stroke-width="0.5"/>
<circle cx="507.90" cy="376.83" r="1.50" fill="#c8d060" stroke="#000" stroke-opacity="0.12" stroke-width="0.5"/>
<circle cx="512.20" cy="386.40" r="2.30" fill="#e09030" stroke="#000" stroke-opacity="0.12" stroke-width="0.5"/>
<circle cx="543.10" cy="395.97" r="3.40" fill="#e8a030" stroke="#000" stroke-opacity="0.12" stroke-width="0.5"/>
<circle cx="521.20" cy="405.53" r="2.80" fill="#e8a030" stroke="#000" stroke-opacity="0.12" stroke-width="0.5"/>
<circle cx="525.70" cy="415.10" r="2.90" fill="#d42020" stroke="#000" stroke-opacity="0.12" stroke-width="0.5"/>
<circle cx="564.80" cy="424.67" r="4.10" fill="#e88020" stroke="#000" stroke-opacity="0.12" stroke-width="0.5"/>
<circle cx="577.90" cy="434.23" r="4.40" fill="#e01818" stroke="#000" stroke-opacity="0.12" stroke-width="0.5"/>
<circle cx="525.70" cy="443.80" r="2.90" fill="#e09030" stroke="#000" stroke-opacity="0.12" stroke-width="0.5"/>
<circle cx="512.30" cy="453.36" r="2.30" fill="#d08030" stroke="#000" stroke-opacity="0.12" stroke-width="0.5"/>
<circle cx="586.30" cy="462.93" r="4.60" fill="#e01818" stroke="#000" stroke-opacity="0.12" stroke-width="0.5"/>
<circle cx="507.60" cy="472.50" r="1.50" fill="#d0d880" stroke="#000" stroke-opacity="0.12" stroke-width="0.5"/>
<circle cx="516.80" cy="482.06" r="2.50" fill="#e08020" stroke="#000" stroke-opacity="0.12" stroke-width="0.5"/>
<circle cx="521.20" cy="491.63" r="2.80" fill="#e8e030" stroke="#000" stroke-opacity="0.12" stroke-width="0.5"/>
<circle cx="560.60" cy="501.20" r="4.00" fill="#e8d820" stroke="#000" stroke-opacity="0.12" stroke-width="0.5"/>
<circle cx="529.90" cy="510.76" r="3.10" fill="#e89030" stroke="#000" stroke-opacity="0.12" stroke-width="0.5"/>
<circle cx="608.30" cy="520.33" r="5.20" fill="#e01818" stroke="#000" stroke-opacity="0.12" stroke-width="0.5"/>
<circle cx="529.60" cy="529.89" r="3.10" fill="#d02020" stroke="#000" stroke-opacity="0.12" stroke-width="0.5"/>
<circle cx="534.30" cy="539.46" r="3.30" fill="#e89030" stroke="#000" stroke-opacity="0.12" stroke-width="0.5"/>
<rect x="501.3" y="256.3" width="137.90000000000003" height="288.90000000000003" fill="none" stroke="#666" stroke-width="0.9"/>
<line x1="498.8" y1="262.04" x2="501.3" y2="262.04" stroke="#444" stroke-width="0.8"/>
<text x="497.90" y="264.94" font-size="6.3" text-anchor="end" fill="#444">Xylene degradation</text>
<line x1="498.8" y1="271.61" x2="501.3" y2="271.61" stroke="#444" stroke-width="0.8"/>
<text x="497.90" y="274.51" font-size="6.3" text-anchor="end" fill="#444">Two&#8722;component system</text>
<line x1="498.8" y1="281.17" x2="501.3" y2="281.17" stroke="#444" stroke-width="0.8"/>
<text x="497.90" y="284.07" font-size="6.3" text-anchor="end" fill="#444">Tryptophan metabolism</text>
<line x1="498.8" y1="290.74" x2="501.3" y2="290.74" stroke="#444" stroke-width="0.8"/>
<text x="497.90" y="293.64" font-size="6.3" text-anchor="end" fill="#444">Toluene degradation</text>
<line x1="498.8" y1="300.30" x2="501.3" y2="300.30" stroke="#444" stroke-width="0.8"/>
<text x="497.90" y="303.20" font-size="6.3" text-anchor="end" fill="#444">Steroid degradation</text>
<line x1="498.8" y1="309.87" x2="501.3" y2="309.87" stroke="#444" stroke-width="0.8"/>
<text x="497.90" y="312.77" font-size="6.3" text-anchor="end" fill="#444">Retinol metabolism</text>
<line x1="498.8" y1="319.44" x2="501.3" y2="319.44" stroke="#444" stroke-width="0.8"/>
<text x="497.90" y="322.34" font-size="6.3" text-anchor="end" fill="#444">Photosynthesis</text>
<line x1="498.8" y1="329.00" x2="501.3" y2="329.00" stroke="#444" stroke-width="0.8"/>
<text x="497.90" y="331.90" font-size="6.3" text-anchor="end" fill="#444">Phosphonate and phosphinate metabolism</text>
<line x1="498.8" y1="338.57" x2="501.3" y2="338.57" stroke="#444" stroke-width="0.8"/>
<text x="497.90" y="341.47" font-size="6.3" text-anchor="end" fill="#444">Phenylalanine metabolism</text>
<line x1="498.8" y1="348.14" x2="501.3" y2="348.14" stroke="#444" stroke-width="0.8"/>
<text x="497.90" y="351.04" font-size="6.3" text-anchor="end" fill="#444">Pentose and glucuronate interconversions</text>
<line x1="498.8" y1="357.70" x2="501.3" y2="357.70" stroke="#444" stroke-width="0.8"/>
<text x="497.90" y="360.60" font-size="6.3" text-anchor="end" fill="#444">Naphthalene degradation</text>
<line x1="498.8" y1="367.27" x2="501.3" y2="367.27" stroke="#444" stroke-width="0.8"/>
<text x="497.90" y="370.17" font-size="6.3" text-anchor="end" fill="#444">Metabolism of xenobiotics by cytochrome P450</text>
<line x1="498.8" y1="376.83" x2="501.3" y2="376.83" stroke="#444" stroke-width="0.8"/>
<text x="497.90" y="379.73" font-size="6.3" text-anchor="end" fill="#444">MAPK signaling pathway &#8722; plant</text>
<line x1="498.8" y1="386.40" x2="501.3" y2="386.40" stroke="#444" stroke-width="0.8"/>
<text x="497.90" y="389.30" font-size="6.3" text-anchor="end" fill="#444">Lysosome</text>
<line x1="498.8" y1="395.97" x2="501.3" y2="395.97" stroke="#444" stroke-width="0.8"/>
<text x="497.90" y="398.87" font-size="6.3" text-anchor="end" fill="#444">Lysine degradation</text>
<line x1="498.8" y1="405.53" x2="501.3" y2="405.53" stroke="#444" stroke-width="0.8"/>
<text x="497.90" y="408.43" font-size="6.3" text-anchor="end" fill="#444">Limonene and pinene degradation</text>
<line x1="498.8" y1="415.10" x2="501.3" y2="415.10" stroke="#444" stroke-width="0.8"/>
<text x="497.90" y="418.00" font-size="6.3" text-anchor="end" fill="#444">Fluorobenzoate degradation</text>
<line x1="498.8" y1="424.67" x2="501.3" y2="424.67" stroke="#444" stroke-width="0.8"/>
<text x="497.90" y="427.57" font-size="6.3" text-anchor="end" fill="#444">Fatty acid metabolism</text>
<line x1="498.8" y1="434.23" x2="501.3" y2="434.23" stroke="#444" stroke-width="0.8"/>
<text x="497.90" y="437.13" font-size="6.3" text-anchor="end" fill="#444">Fatty acid degradation</text>
<line x1="498.8" y1="443.80" x2="501.3" y2="443.80" stroke="#444" stroke-width="0.8"/>
<text x="497.90" y="446.70" font-size="6.3" text-anchor="end" fill="#444">Drug metabolism &#8722; cytochrome P450</text>
<line x1="498.8" y1="453.36" x2="501.3" y2="453.36" stroke="#444" stroke-width="0.8"/>
<text x="497.90" y="456.26" font-size="6.3" text-anchor="end" fill="#444">Dioxin degradation</text>
<line x1="498.8" y1="462.93" x2="501.3" y2="462.93" stroke="#444" stroke-width="0.8"/>
<text x="497.90" y="465.83" font-size="6.3" text-anchor="end" fill="#444">Degradation of aromatic compounds</text>
<line x1="498.8" y1="472.50" x2="501.3" y2="472.50" stroke="#444" stroke-width="0.8"/>
<text x="497.90" y="475.40" font-size="6.3" text-anchor="end" fill="#444">Chlorocyclohexane and chlorobenzene degradation</text>
<line x1="498.8" y1="482.06" x2="501.3" y2="482.06" stroke="#444" stroke-width="0.8"/>
<text x="497.90" y="484.96" font-size="6.3" text-anchor="end" fill="#444">Chloroalkane and chloroalkene degradation</text>
<line x1="498.8" y1="491.63" x2="501.3" y2="491.63" stroke="#444" stroke-width="0.8"/>
<text x="497.90" y="494.53" font-size="6.3" text-anchor="end" fill="#444">Caprolactam degradation</text>
<line x1="498.8" y1="501.20" x2="501.3" y2="501.20" stroke="#444" stroke-width="0.8"/>
<text x="497.90" y="504.10" font-size="6.3" text-anchor="end" fill="#444">Butanoate metabolism</text>
<line x1="498.8" y1="510.76" x2="501.3" y2="510.76" stroke="#444" stroke-width="0.8"/>
<text x="497.90" y="513.66" font-size="6.3" text-anchor="end" fill="#444">Biotin metabolism</text>
<line x1="498.8" y1="520.33" x2="501.3" y2="520.33" stroke="#444" stroke-width="0.8"/>
<text x="497.90" y="523.23" font-size="6.3" text-anchor="end" fill="#444">Benzoate degradation</text>
<line x1="498.8" y1="529.89" x2="501.3" y2="529.89" stroke="#444" stroke-width="0.8"/>
<text x="497.90" y="532.79" font-size="6.3" text-anchor="end" fill="#444">Ascorbate and aldarate metabolism</text>
<line x1="498.8" y1="539.46" x2="501.3" y2="539.46" stroke="#444" stroke-width="0.8"/>
<text x="497.90" y="542.36" font-size="6.3" text-anchor="end" fill="#444">Aminobenzoate degradation</text>
<line x1="525.40" y1="545.2" x2="525.40" y2="547.7" stroke="#444" stroke-width="0.8"/>
<text x="525.40" y="554.30" font-size="6.3" text-anchor="middle" fill="#444">0.025</text>
<line x1="552.40" y1="545.2" x2="552.40" y2="547.7" stroke="#444" stroke-width="0.8"/>
<text x="552.40" y="554.30" font-size="6.3" text-anchor="middle" fill="#444">0.050</text>
<line x1="579.40" y1="545.2" x2="579.40" y2="547.7" stroke="#444" stroke-width="0.8"/>
<text x="579.40" y="554.30" font-size="6.3" text-anchor="middle" fill="#444">0.075</text>
<line x1="606.40" y1="545.2" x2="606.40" y2="547.7" stroke="#444" stroke-width="0.8"/>
<text x="606.40" y="554.30" font-size="6.3" text-anchor="middle" fill="#444">0.100</text>
<line x1="633.40" y1="545.2" x2="633.40" y2="547.7" stroke="#444" stroke-width="0.8"/>
<text x="633.40" y="554.30" font-size="6.3" text-anchor="middle" fill="#444">0.125</text>
<text x="570.25" y="562.40" font-size="8.0" text-anchor="middle" fill="#222">Rich factor</text>
<text x="651.00" y="339.80" font-size="7.6" text-anchor="start" fill="#222">Signi Num</text>
<circle cx="657.9" cy="350.4" r="3.6" fill="#000"/>
<text x="667.10" y="352.70" font-size="6.5" text-anchor="start" fill="#444">10</text>
<circle cx="657.9" cy="362.8" r="4.7" fill="#000"/>
<text x="667.10" y="365.10" font-size="6.5" text-anchor="start" fill="#444">20</text>
<circle cx="657.9" cy="374.5" r="5.4" fill="#000"/>
<text x="667.10" y="376.80" font-size="6.5" text-anchor="start" fill="#444">30</text>
<text x="650.80" y="404.00" font-size="7.4" text-anchor="start" fill="#222">qvalue</text>
<rect x="651.2" y="407.8" width="12" height="61" fill="url(#qg)"/>
<text x="666.30" y="412.20" font-size="6.5" text-anchor="start" fill="#444">1.00</text>
<text x="666.30" y="426.55" font-size="6.5" text-anchor="start" fill="#444">0.75</text>
<text x="666.30" y="440.90" font-size="6.5" text-anchor="start" fill="#444">0.50</text>
<text x="666.30" y="455.25" font-size="6.5" text-anchor="start" fill="#444">0.25</text>
<text x="666.30" y="469.60" font-size="6.5" text-anchor="start" fill="#444">0.00</text>
</svg></body></html>
